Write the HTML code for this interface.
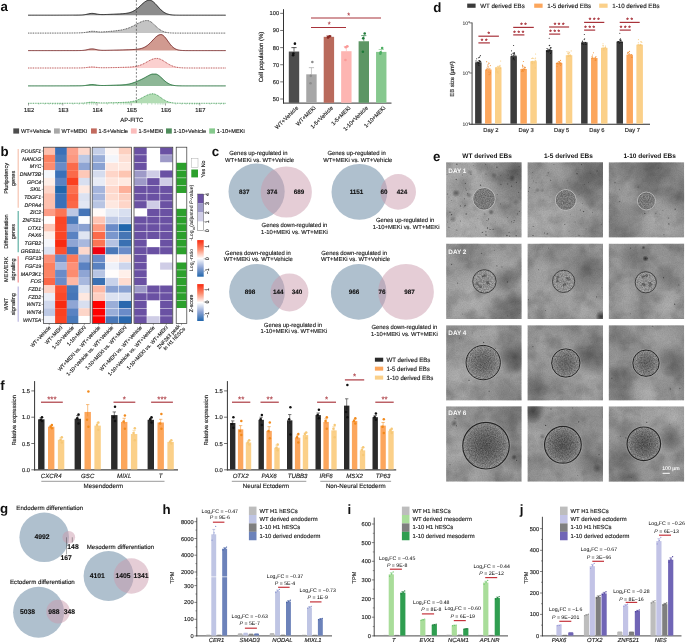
<!DOCTYPE html>
<html lang="en"><head><meta charset="utf-8"><title>Figure</title>
<style>
html,body{margin:0;padding:0;background:#fff;}
body{width:685px;height:643px;overflow:hidden;}
svg{display:block;font-family:'Liberation Sans', sans-serif;}
svg text{font-family:'Liberation Sans',sans-serif;}
</style></head><body>
<svg width="685" height="643" viewBox="0 0 685 643" font-family="Liberation Sans, sans-serif" text-rendering="geometricPrecision">
<rect width="685" height="643" fill="#fff"/>
<text x="433.00" y="160.50" font-size="13.3" font-weight="bold" fill="#111" >e</text>
<defs>
<filter id="grain" x="0" y="0" width="100%" height="100%"><feTurbulence type="fractalNoise" baseFrequency="0.85" numOctaves="2" seed="4" result="n"/><feColorMatrix in="n" type="matrix" values="0 0 0 0 0  0 0 0 0 0  0 0 0 0 0  1.4 1.4 0 0 -1.05"/><feComposite in2="SourceGraphic" operator="in"/></filter>
<filter id="grainw" x="0" y="0" width="100%" height="100%"><feTurbulence type="fractalNoise" baseFrequency="0.8" numOctaves="2" seed="19" result="n"/><feColorMatrix in="n" type="matrix" values="0 0 0 0 1  0 0 0 0 1  0 0 0 0 1  0 1.4 1.4 0 -1.05"/><feComposite in2="SourceGraphic" operator="in"/></filter>
<filter id="soft"><feGaussianBlur stdDeviation="0.45"/></filter>
<filter id="mot" x="0" y="0" width="100%" height="100%"><feTurbulence type="fractalNoise" baseFrequency="0.055" numOctaves="3" seed="8" result="n"/><feColorMatrix in="n" type="matrix" values="0 0 0 0 0  0 0 0 0 0  0 0 0 0 0  2.2 0 0 0 -0.95"/></filter>
<filter id="motw" x="0" y="0" width="100%" height="100%"><feTurbulence type="fractalNoise" baseFrequency="0.05" numOctaves="3" seed="31" result="n"/><feColorMatrix in="n" type="matrix" values="0 0 0 0 1  0 0 0 0 1  0 0 0 0 1  0 2.2 0 0 -0.95"/></filter>
<radialGradient id="lb"><stop offset="0" stop-color="#fff" stop-opacity="1"/><stop offset="0.5" stop-color="#fff" stop-opacity="0.55"/><stop offset="1" stop-color="#fff" stop-opacity="0"/></radialGradient>
<radialGradient id="db"><stop offset="0" stop-color="#000" stop-opacity="1"/><stop offset="0.5" stop-color="#000" stop-opacity="0.55"/><stop offset="1" stop-color="#000" stop-opacity="0"/></radialGradient>
<radialGradient id="eb1"><stop offset="0" stop-color="#808080"/><stop offset="0.85" stop-color="#868686"/><stop offset="1" stop-color="#8c8c8c"/></radialGradient>
<radialGradient id="eb2"><stop offset="0" stop-color="#9a9a9a"/><stop offset="0.8" stop-color="#a2a2a2"/><stop offset="1" stop-color="#a8a8a8"/></radialGradient>
<radialGradient id="eb4"><stop offset="0" stop-color="#666"/><stop offset="0.5" stop-color="#767676"/><stop offset="0.85" stop-color="#8e8e8e"/><stop offset="1" stop-color="#a0a0a0"/></radialGradient>
<radialGradient id="eb6"><stop offset="0" stop-color="#555"/><stop offset="0.45" stop-color="#686868"/><stop offset="0.8" stop-color="#808080"/><stop offset="1" stop-color="#9c9c9c"/></radialGradient>
</defs>
<text x="487.10" y="157.50" font-size="6.5" text-anchor="middle" font-weight="bold" fill="#111" >WT derived EBs</text>
<text x="568.40" y="157.50" font-size="6.5" text-anchor="middle" font-weight="bold" fill="#111" >1-5 derived EBs</text>
<text x="649.60" y="157.50" font-size="6.5" text-anchor="middle" font-weight="bold" fill="#111" >1-10 derived EBs</text>
<clipPath id="clip00"><rect x="446.1" y="162.2" width="75.7" height="75.4"/></clipPath>
<g clip-path="url(#clip00)">
<rect x="446.10" y="162.20" width="75.70" height="75.40" fill="#a2a2a2" />
<circle cx="466.10" cy="222.20" r="38.00" fill="url(#lb)" opacity="0.176"/>
<circle cx="476.10" cy="177.20" r="25.00" fill="url(#lb)" opacity="0.081"/>
<circle cx="516.10" cy="172.20" r="32.00" fill="url(#db)" opacity="0.378"/>
<circle cx="516.10" cy="207.20" r="20.00" fill="url(#db)" opacity="0.162"/>
<circle cx="456.10" cy="193.20" r="4.00" fill="url(#db)" opacity="0.38"/>
<circle cx="469.10" cy="195.20" r="3.00" fill="url(#db)" opacity="0.3"/>
<circle cx="491.10" cy="212.20" r="3.00" fill="url(#db)" opacity="0.38"/>
<circle cx="494.10" cy="175.20" r="3.00" fill="url(#db)" opacity="0.25"/>
<circle cx="512.10" cy="178.20" r="3.50" fill="url(#db)" opacity="0.32"/>
<circle cx="453.10" cy="219.20" r="3.50" fill="url(#db)" opacity="0.28"/>
<circle cx="516.10" cy="202.20" r="3.50" fill="url(#db)" opacity="0.22"/>
<circle cx="470.10" cy="172.20" r="3.00" fill="url(#db)" opacity="0.2"/>
<rect x="446.10" y="162.20" width="75.70" height="75.40" fill="#000" filter="url(#mot)" opacity="0.2"/>
<rect x="446.10" y="162.20" width="75.70" height="75.40" fill="#fff" filter="url(#motw)" opacity="0.15"/>
<g fill="#3c3c3c">
<circle cx="471.0" cy="174.3" r="0.58" opacity="0.58"/>
<circle cx="451.4" cy="200.4" r="0.41" opacity="0.72"/>
<circle cx="452.2" cy="169.9" r="0.52" opacity="0.88"/>
<circle cx="456.2" cy="179.6" r="0.58" opacity="0.93"/>
<circle cx="519.1" cy="166.6" r="0.64" opacity="0.67"/>
<circle cx="457.7" cy="171.8" r="0.49" opacity="0.88"/>
<circle cx="460.4" cy="205.9" r="0.58" opacity="0.70"/>
<circle cx="487.5" cy="167.8" r="0.42" opacity="0.63"/>
<circle cx="497.2" cy="194.6" r="0.49" opacity="0.78"/>
<circle cx="480.5" cy="185.2" r="0.62" opacity="0.83"/>
<circle cx="465.1" cy="205.4" r="0.55" opacity="0.90"/>
<circle cx="500.9" cy="184.3" r="0.67" opacity="0.60"/>
<circle cx="477.9" cy="218.8" r="0.44" opacity="0.75"/>
<circle cx="450.0" cy="212.2" r="0.61" opacity="0.78"/>
<circle cx="511.6" cy="186.2" r="0.59" opacity="0.79"/>
<circle cx="509.0" cy="232.5" r="0.53" opacity="0.82"/>
<circle cx="451.6" cy="214.7" r="0.58" opacity="0.95"/>
<circle cx="507.7" cy="184.1" r="0.51" opacity="0.82"/>
<circle cx="448.8" cy="197.1" r="0.45" opacity="0.60"/>
<circle cx="451.4" cy="219.6" r="0.44" opacity="0.65"/>
<circle cx="475.9" cy="227.2" r="0.42" opacity="0.73"/>
<circle cx="487.6" cy="228.0" r="0.63" opacity="0.90"/>
<circle cx="467.6" cy="193.7" r="0.50" opacity="0.90"/>
<circle cx="517.7" cy="174.3" r="0.45" opacity="0.64"/>
<circle cx="464.3" cy="198.8" r="0.56" opacity="0.66"/>
<circle cx="447.4" cy="194.0" r="0.50" opacity="0.78"/>
<circle cx="517.3" cy="213.9" r="0.54" opacity="0.80"/>
<circle cx="496.9" cy="167.2" r="0.65" opacity="0.86"/>
<circle cx="511.6" cy="221.8" r="0.51" opacity="0.71"/>
<circle cx="454.7" cy="209.8" r="0.42" opacity="0.58"/>
<circle cx="462.5" cy="175.1" r="0.50" opacity="0.57"/>
<circle cx="447.1" cy="174.3" r="0.43" opacity="0.70"/>
<circle cx="449.0" cy="227.4" r="0.57" opacity="0.61"/>
<circle cx="465.7" cy="188.7" r="0.50" opacity="0.60"/>
<circle cx="509.7" cy="236.1" r="0.53" opacity="0.74"/>
<circle cx="453.4" cy="170.7" r="0.50" opacity="0.66"/>
<circle cx="508.2" cy="175.0" r="0.41" opacity="0.93"/>
<circle cx="486.0" cy="174.0" r="0.55" opacity="0.56"/>
<circle cx="486.0" cy="235.0" r="0.64" opacity="0.83"/>
<circle cx="466.3" cy="190.1" r="0.45" opacity="0.86"/>
<circle cx="486.4" cy="220.4" r="0.49" opacity="0.64"/>
<circle cx="506.9" cy="235.5" r="0.64" opacity="0.87"/>
<circle cx="507.4" cy="217.5" r="0.46" opacity="0.76"/>
<circle cx="473.3" cy="165.3" r="0.41" opacity="0.66"/>
<circle cx="466.2" cy="214.0" r="0.67" opacity="0.73"/>
<circle cx="516.2" cy="235.7" r="0.67" opacity="0.70"/>
<circle cx="463.3" cy="179.9" r="0.46" opacity="0.63"/>
<circle cx="493.1" cy="229.3" r="0.64" opacity="0.74"/>
<circle cx="495.2" cy="221.9" r="0.42" opacity="0.81"/>
<circle cx="514.2" cy="220.6" r="0.61" opacity="0.74"/>
<circle cx="460.3" cy="221.1" r="0.49" opacity="0.87"/>
<circle cx="518.7" cy="192.3" r="0.51" opacity="0.93"/>
<circle cx="500.5" cy="175.7" r="0.44" opacity="0.61"/>
<circle cx="513.8" cy="222.4" r="0.44" opacity="0.88"/>
<circle cx="519.3" cy="211.4" r="0.50" opacity="0.77"/>
<circle cx="456.8" cy="164.2" r="0.67" opacity="0.81"/>
<circle cx="485.9" cy="231.7" r="0.52" opacity="0.90"/>
<circle cx="508.0" cy="178.7" r="0.47" opacity="0.67"/>
<circle cx="464.8" cy="206.2" r="0.47" opacity="0.72"/>
<circle cx="456.8" cy="230.0" r="0.50" opacity="0.73"/>
<circle cx="490.1" cy="229.6" r="0.52" opacity="0.92"/>
<circle cx="485.7" cy="164.6" r="0.52" opacity="0.62"/>
<circle cx="447.4" cy="221.9" r="0.45" opacity="0.74"/>
<circle cx="500.5" cy="204.0" r="0.49" opacity="0.76"/>
<circle cx="488.0" cy="220.8" r="0.43" opacity="0.77"/>
<circle cx="465.4" cy="183.5" r="0.62" opacity="0.75"/>
<circle cx="488.5" cy="219.0" r="0.66" opacity="0.73"/>
<circle cx="484.8" cy="214.0" r="0.53" opacity="0.76"/>
<circle cx="482.3" cy="232.3" r="0.60" opacity="0.90"/>
<circle cx="516.5" cy="182.3" r="0.56" opacity="0.93"/>
</g>
<circle cx="484.00" cy="198.80" r="11.10" fill="url(#eb1)" stroke="#d6d6d6" stroke-width="0.7"/>
<circle cx="484.00" cy="198.80" r="10.30" fill="none" stroke="#6c6c6c" stroke-width="0.5"/>
<circle cx="484.00" cy="198.80" r="10.60" fill="#000" filter="url(#grain)" opacity="0.28"/>
<circle cx="484.00" cy="198.80" r="10.60" fill="#fff" filter="url(#grainw)" opacity="0.12"/>
</g>
<clipPath id="clip01"><rect x="527.3" y="162.2" width="75.7" height="75.4"/></clipPath>
<g clip-path="url(#clip01)">
<rect x="527.30" y="162.20" width="75.70" height="75.40" fill="#999999" />
<circle cx="545.30" cy="220.20" r="32.00" fill="url(#lb)" opacity="0.243"/>
<circle cx="572.30" cy="202.20" r="20.00" fill="url(#lb)" opacity="0.135"/>
<circle cx="592.30" cy="174.20" r="34.00" fill="url(#db)" opacity="0.378"/>
<circle cx="597.30" cy="232.20" r="20.00" fill="url(#db)" opacity="0.135"/>
<circle cx="537.30" cy="190.20" r="2.50" fill="url(#db)" opacity="0.2"/>
<circle cx="542.30" cy="190.20" r="2.50" fill="url(#db)" opacity="0.2"/>
<rect x="527.30" y="162.20" width="75.70" height="75.40" fill="#000" filter="url(#mot)" opacity="0.2"/>
<rect x="527.30" y="162.20" width="75.70" height="75.40" fill="#fff" filter="url(#motw)" opacity="0.15"/>
<g fill="#3c3c3c">
<circle cx="590.2" cy="173.3" r="0.43" opacity="0.73"/>
<circle cx="533.6" cy="180.9" r="0.42" opacity="0.82"/>
<circle cx="586.1" cy="229.0" r="0.44" opacity="0.84"/>
<circle cx="577.0" cy="173.7" r="0.65" opacity="0.94"/>
<circle cx="544.5" cy="233.1" r="0.51" opacity="0.74"/>
<circle cx="601.3" cy="224.3" r="0.45" opacity="0.72"/>
<circle cx="566.3" cy="188.1" r="0.45" opacity="0.68"/>
<circle cx="581.5" cy="164.6" r="0.56" opacity="0.73"/>
<circle cx="529.6" cy="187.5" r="0.57" opacity="0.75"/>
<circle cx="533.0" cy="235.5" r="0.62" opacity="0.94"/>
<circle cx="536.0" cy="182.7" r="0.41" opacity="0.86"/>
<circle cx="548.2" cy="172.7" r="0.52" opacity="0.91"/>
<circle cx="588.7" cy="182.2" r="0.44" opacity="0.92"/>
<circle cx="570.4" cy="214.6" r="0.43" opacity="0.57"/>
<circle cx="579.0" cy="194.4" r="0.42" opacity="0.93"/>
<circle cx="575.1" cy="222.0" r="0.42" opacity="0.89"/>
<circle cx="533.2" cy="226.5" r="0.53" opacity="0.69"/>
<circle cx="569.1" cy="231.2" r="0.48" opacity="0.60"/>
<circle cx="567.1" cy="180.7" r="0.43" opacity="0.61"/>
<circle cx="532.0" cy="178.0" r="0.49" opacity="0.67"/>
<circle cx="584.3" cy="184.5" r="0.54" opacity="0.62"/>
<circle cx="553.9" cy="164.5" r="0.47" opacity="0.56"/>
<circle cx="582.3" cy="203.6" r="0.45" opacity="0.74"/>
<circle cx="597.2" cy="171.0" r="0.63" opacity="0.72"/>
<circle cx="564.8" cy="224.5" r="0.51" opacity="0.75"/>
<circle cx="579.0" cy="235.3" r="0.50" opacity="0.88"/>
<circle cx="580.4" cy="209.9" r="0.51" opacity="0.69"/>
<circle cx="532.3" cy="172.7" r="0.42" opacity="0.85"/>
<circle cx="547.1" cy="175.2" r="0.42" opacity="0.89"/>
<circle cx="592.5" cy="212.4" r="0.48" opacity="0.65"/>
<circle cx="549.9" cy="196.9" r="0.44" opacity="0.73"/>
<circle cx="547.7" cy="233.8" r="0.67" opacity="0.77"/>
<circle cx="546.3" cy="234.1" r="0.49" opacity="0.69"/>
<circle cx="528.4" cy="191.2" r="0.53" opacity="0.75"/>
<circle cx="543.1" cy="200.2" r="0.40" opacity="0.66"/>
<circle cx="534.9" cy="192.5" r="0.41" opacity="0.56"/>
<circle cx="550.7" cy="180.3" r="0.56" opacity="0.76"/>
<circle cx="583.6" cy="211.5" r="0.60" opacity="0.90"/>
</g>
<circle cx="565.80" cy="200.00" r="10.30" fill="url(#eb1)" stroke="#d6d6d6" stroke-width="0.7"/>
<circle cx="565.80" cy="200.00" r="9.50" fill="none" stroke="#6c6c6c" stroke-width="0.5"/>
<circle cx="565.80" cy="200.00" r="9.80" fill="#000" filter="url(#grain)" opacity="0.28"/>
<circle cx="565.80" cy="200.00" r="9.80" fill="#fff" filter="url(#grainw)" opacity="0.12"/>
</g>
<clipPath id="clip02"><rect x="608.5" y="162.2" width="75.7" height="75.4"/></clipPath>
<g clip-path="url(#clip02)">
<rect x="608.50" y="162.20" width="75.70" height="75.40" fill="#8e8e8e" />
<circle cx="663.50" cy="224.20" r="32.00" fill="url(#lb)" opacity="0.27"/>
<circle cx="623.50" cy="192.20" r="20.00" fill="url(#lb)" opacity="0.108"/>
<circle cx="653.50" cy="167.20" r="30.00" fill="url(#db)" opacity="0.27"/>
<circle cx="678.50" cy="192.20" r="20.00" fill="url(#db)" opacity="0.216"/>
<circle cx="618.50" cy="232.20" r="20.00" fill="url(#db)" opacity="0.135"/>
<rect x="608.50" y="162.20" width="75.70" height="75.40" fill="#000" filter="url(#mot)" opacity="0.2"/>
<rect x="608.50" y="162.20" width="75.70" height="75.40" fill="#fff" filter="url(#motw)" opacity="0.15"/>
<g fill="#3c3c3c">
<circle cx="638.2" cy="187.1" r="0.68" opacity="0.61"/>
<circle cx="662.9" cy="210.4" r="0.41" opacity="0.88"/>
<circle cx="675.2" cy="209.2" r="0.61" opacity="0.87"/>
<circle cx="619.8" cy="201.6" r="0.54" opacity="0.88"/>
<circle cx="668.8" cy="223.9" r="0.56" opacity="0.91"/>
<circle cx="659.8" cy="214.1" r="0.46" opacity="0.56"/>
<circle cx="619.3" cy="189.7" r="0.43" opacity="0.88"/>
<circle cx="655.7" cy="213.2" r="0.54" opacity="0.55"/>
<circle cx="668.3" cy="218.1" r="0.54" opacity="0.76"/>
<circle cx="658.1" cy="168.0" r="0.61" opacity="0.65"/>
<circle cx="615.0" cy="182.7" r="0.60" opacity="0.63"/>
<circle cx="664.0" cy="234.8" r="0.54" opacity="0.70"/>
<circle cx="644.8" cy="213.4" r="0.61" opacity="0.80"/>
</g>
<circle cx="646.40" cy="201.00" r="8.90" fill="url(#eb1)" stroke="#d6d6d6" stroke-width="0.7"/>
<circle cx="646.40" cy="201.00" r="8.10" fill="none" stroke="#6c6c6c" stroke-width="0.5"/>
<circle cx="646.40" cy="201.00" r="8.40" fill="#000" filter="url(#grain)" opacity="0.28"/>
<circle cx="646.40" cy="201.00" r="8.40" fill="#fff" filter="url(#grainw)" opacity="0.12"/>
</g>
<text x="448.30" y="173.40" font-size="6.4" font-weight="bold" fill="#fff" >DAY 1</text>
<clipPath id="clip10"><rect x="446.1" y="243.6" width="75.7" height="75.4"/></clipPath>
<g clip-path="url(#clip10)">
<rect x="446.10" y="243.60" width="75.70" height="75.40" fill="#9a9a9a" />
<circle cx="471.10" cy="293.60" r="30.00" fill="url(#lb)" opacity="0.216"/>
<circle cx="496.10" cy="263.60" r="20.00" fill="url(#lb)" opacity="0.108"/>
<circle cx="506.10" cy="278.60" r="15.00" fill="url(#db)" opacity="0.297"/>
<circle cx="511.10" cy="313.60" r="25.00" fill="url(#db)" opacity="0.27"/>
<circle cx="471.10" cy="251.60" r="20.00" fill="url(#db)" opacity="0.162"/>
<rect x="446.10" y="243.60" width="75.70" height="75.40" fill="#000" filter="url(#mot)" opacity="0.2"/>
<rect x="446.10" y="243.60" width="75.70" height="75.40" fill="#fff" filter="url(#motw)" opacity="0.15"/>
<g fill="#3c3c3c">
<circle cx="494.5" cy="250.3" r="0.44" opacity="0.65"/>
<circle cx="501.9" cy="266.9" r="0.56" opacity="0.55"/>
<circle cx="451.6" cy="264.3" r="0.59" opacity="0.83"/>
<circle cx="496.9" cy="265.9" r="0.54" opacity="0.74"/>
<circle cx="481.5" cy="253.3" r="0.65" opacity="0.63"/>
<circle cx="519.2" cy="313.3" r="0.40" opacity="0.73"/>
<circle cx="507.5" cy="315.7" r="0.53" opacity="0.66"/>
<circle cx="462.6" cy="314.0" r="0.46" opacity="0.78"/>
<circle cx="457.5" cy="283.1" r="0.67" opacity="0.60"/>
<circle cx="507.5" cy="281.9" r="0.65" opacity="0.83"/>
</g>
<circle cx="484.40" cy="281.40" r="11.70" fill="url(#eb2)" stroke="#303030" stroke-width="0.85"/>
<g fill="#5e5e5e" filter="url(#soft)">
<circle cx="487.3" cy="281.4" r="1.0" opacity="0.75"/>
<circle cx="480.5" cy="286.7" r="1.5" opacity="0.75"/>
<circle cx="482.9" cy="276.6" r="1.0" opacity="0.75"/>
<circle cx="487.7" cy="282.5" r="1.5" opacity="0.75"/>
<circle cx="478.6" cy="285.6" r="1.0" opacity="0.75"/>
<circle cx="484.4" cy="275.8" r="1.5" opacity="0.75"/>
<circle cx="487.6" cy="283.8" r="1.0" opacity="0.75"/>
<circle cx="477.1" cy="283.7" r="1.5" opacity="0.75"/>
<circle cx="486.3" cy="275.6" r="1.0" opacity="0.75"/>
</g>
<circle cx="484.40" cy="281.40" r="11.20" fill="#000" filter="url(#grain)" opacity="0.28"/>
<circle cx="484.40" cy="281.40" r="11.20" fill="#fff" filter="url(#grainw)" opacity="0.12"/>
</g>
<clipPath id="clip11"><rect x="527.3" y="243.6" width="75.7" height="75.4"/></clipPath>
<g clip-path="url(#clip11)">
<rect x="527.30" y="243.60" width="75.70" height="75.40" fill="#989898" />
<circle cx="547.30" cy="288.60" r="30.00" fill="url(#lb)" opacity="0.176"/>
<circle cx="587.30" cy="308.60" r="20.00" fill="url(#lb)" opacity="0.135"/>
<circle cx="587.30" cy="268.60" r="25.00" fill="url(#db)" opacity="0.27"/>
<circle cx="552.30" cy="255.60" r="12.00" fill="url(#db)" opacity="0.162"/>
<circle cx="601.30" cy="316.60" r="6.00" fill="url(#db)" opacity="0.7"/>
<rect x="527.30" y="243.60" width="75.70" height="75.40" fill="#000" filter="url(#mot)" opacity="0.2"/>
<rect x="527.30" y="243.60" width="75.70" height="75.40" fill="#fff" filter="url(#motw)" opacity="0.15"/>
<g fill="#3c3c3c">
<circle cx="545.4" cy="310.5" r="0.54" opacity="0.56"/>
<circle cx="528.6" cy="280.7" r="0.53" opacity="0.67"/>
<circle cx="538.7" cy="269.8" r="0.49" opacity="0.89"/>
<circle cx="528.4" cy="299.7" r="0.63" opacity="0.60"/>
<circle cx="596.6" cy="296.9" r="0.65" opacity="0.67"/>
<circle cx="601.9" cy="287.8" r="0.50" opacity="0.72"/>
<circle cx="548.6" cy="248.1" r="0.43" opacity="0.88"/>
</g>
<circle cx="563.60" cy="281.40" r="11.10" fill="url(#eb2)" stroke="#303030" stroke-width="0.85"/>
<g fill="#5e5e5e" filter="url(#soft)">
<circle cx="565.1" cy="283.7" r="1.0" opacity="0.75"/>
<circle cx="557.3" cy="281.0" r="1.5" opacity="0.75"/>
<circle cx="566.6" cy="277.7" r="1.0" opacity="0.75"/>
<circle cx="564.4" cy="284.6" r="1.5" opacity="0.75"/>
<circle cx="557.3" cy="278.9" r="1.0" opacity="0.75"/>
<circle cx="568.0" cy="278.6" r="1.5" opacity="0.75"/>
<circle cx="563.4" cy="285.2" r="1.0" opacity="0.75"/>
<circle cx="558.0" cy="276.8" r="1.5" opacity="0.75"/>
<circle cx="569.2" cy="280.0" r="1.0" opacity="0.75"/>
</g>
<circle cx="563.60" cy="281.40" r="10.60" fill="#000" filter="url(#grain)" opacity="0.28"/>
<circle cx="563.60" cy="281.40" r="10.60" fill="#fff" filter="url(#grainw)" opacity="0.12"/>
</g>
<clipPath id="clip12"><rect x="608.5" y="243.6" width="75.7" height="75.4"/></clipPath>
<g clip-path="url(#clip12)">
<rect x="608.50" y="243.60" width="75.70" height="75.40" fill="#959595" />
<circle cx="668.50" cy="303.60" r="30.00" fill="url(#lb)" opacity="0.216"/>
<circle cx="623.50" cy="288.60" r="20.00" fill="url(#lb)" opacity="0.081"/>
<circle cx="633.50" cy="255.60" r="15.00" fill="url(#db)" opacity="0.203"/>
<circle cx="668.50" cy="273.60" r="18.00" fill="url(#db)" opacity="0.203"/>
<circle cx="645.50" cy="258.60" r="3.20" fill="url(#db)" opacity="0.75"/>
<circle cx="643.50" cy="247.60" r="2.00" fill="url(#db)" opacity="0.45"/>
<rect x="608.50" y="243.60" width="75.70" height="75.40" fill="#000" filter="url(#mot)" opacity="0.2"/>
<rect x="608.50" y="243.60" width="75.70" height="75.40" fill="#fff" filter="url(#motw)" opacity="0.15"/>
<g fill="#3c3c3c">
<circle cx="630.6" cy="313.3" r="0.47" opacity="0.66"/>
<circle cx="647.2" cy="258.5" r="0.50" opacity="0.93"/>
<circle cx="674.7" cy="304.2" r="0.58" opacity="0.92"/>
<circle cx="678.8" cy="284.9" r="0.60" opacity="0.57"/>
<circle cx="663.5" cy="277.7" r="0.61" opacity="0.81"/>
<circle cx="630.6" cy="248.2" r="0.66" opacity="0.60"/>
</g>
<circle cx="645.80" cy="282.30" r="10.60" fill="url(#eb2)" stroke="#303030" stroke-width="0.85"/>
<g fill="#5e5e5e" filter="url(#soft)">
<circle cx="644.7" cy="284.7" r="1.0" opacity="0.75"/>
<circle cx="642.9" cy="277.1" r="1.5" opacity="0.75"/>
<circle cx="650.3" cy="282.8" r="1.0" opacity="0.75"/>
<circle cx="643.7" cy="284.6" r="1.5" opacity="0.75"/>
<circle cx="644.5" cy="276.0" r="1.0" opacity="0.75"/>
<circle cx="650.4" cy="284.4" r="1.5" opacity="0.75"/>
<circle cx="642.7" cy="284.1" r="1.0" opacity="0.75"/>
<circle cx="646.6" cy="275.4" r="1.5" opacity="0.75"/>
<circle cx="649.8" cy="286.1" r="1.0" opacity="0.75"/>
</g>
<circle cx="645.80" cy="282.30" r="10.10" fill="#000" filter="url(#grain)" opacity="0.28"/>
<circle cx="645.80" cy="282.30" r="10.10" fill="#fff" filter="url(#grainw)" opacity="0.12"/>
</g>
<text x="448.30" y="253.80" font-size="6.4" font-weight="bold" fill="#fff" >DAY 2</text>
<clipPath id="clip20"><rect x="446.1" y="325.2" width="75.7" height="75.4"/></clipPath>
<g clip-path="url(#clip20)">
<rect x="446.10" y="325.20" width="75.70" height="75.40" fill="#969696" />
<circle cx="461.10" cy="380.20" r="30.00" fill="url(#lb)" opacity="0.27"/>
<circle cx="486.10" cy="335.20" r="25.00" fill="url(#lb)" opacity="0.135"/>
<circle cx="514.10" cy="357.20" r="18.00" fill="url(#db)" opacity="0.432"/>
<circle cx="516.10" cy="330.20" r="15.00" fill="url(#db)" opacity="0.203"/>
<circle cx="506.10" cy="395.20" r="20.00" fill="url(#db)" opacity="0.135"/>
<rect x="446.10" y="325.20" width="75.70" height="75.40" fill="#000" filter="url(#mot)" opacity="0.2"/>
<rect x="446.10" y="325.20" width="75.70" height="75.40" fill="#fff" filter="url(#motw)" opacity="0.15"/>
<g fill="#3c3c3c">
<circle cx="469.0" cy="380.4" r="0.67" opacity="0.65"/>
<circle cx="495.4" cy="348.3" r="0.56" opacity="0.71"/>
<circle cx="459.4" cy="338.1" r="0.46" opacity="0.91"/>
<circle cx="483.7" cy="342.3" r="0.65" opacity="0.95"/>
<circle cx="480.3" cy="336.4" r="0.45" opacity="0.59"/>
<circle cx="472.3" cy="332.9" r="0.47" opacity="0.65"/>
<circle cx="489.1" cy="391.3" r="0.61" opacity="0.72"/>
</g>
<circle cx="483.20" cy="362.60" r="17.20" fill="url(#eb4)" stroke="#262626" stroke-width="1.0"/>
<circle cx="483.20" cy="362.60" r="18.20" fill="none" stroke="#c4c4c4" stroke-width="0.5" opacity="0.55"/>
<circle cx="483.20" cy="362.60" r="16.70" fill="#000" filter="url(#grain)" opacity="0.28"/>
<circle cx="483.20" cy="362.60" r="16.70" fill="#fff" filter="url(#grainw)" opacity="0.12"/>
</g>
<clipPath id="clip21"><rect x="527.3" y="325.2" width="75.7" height="75.4"/></clipPath>
<g clip-path="url(#clip21)">
<rect x="527.30" y="325.20" width="75.70" height="75.40" fill="#939393" />
<circle cx="587.30" cy="385.20" r="25.00" fill="url(#lb)" opacity="0.216"/>
<circle cx="547.30" cy="350.20" r="25.00" fill="url(#lb)" opacity="0.135"/>
<circle cx="592.30" cy="355.20" r="22.00" fill="url(#db)" opacity="0.351"/>
<circle cx="537.30" cy="390.20" r="20.00" fill="url(#db)" opacity="0.216"/>
<rect x="527.30" y="325.20" width="75.70" height="75.40" fill="#000" filter="url(#mot)" opacity="0.2"/>
<rect x="527.30" y="325.20" width="75.70" height="75.40" fill="#fff" filter="url(#motw)" opacity="0.15"/>
<g fill="#3c3c3c">
<circle cx="532.9" cy="346.6" r="0.67" opacity="0.60"/>
<circle cx="591.9" cy="342.1" r="0.48" opacity="0.65"/>
</g>
<circle cx="565.80" cy="363.00" r="14.20" fill="url(#eb4)" stroke="#262626" stroke-width="1.0"/>
<circle cx="565.80" cy="363.00" r="15.20" fill="none" stroke="#c4c4c4" stroke-width="0.5" opacity="0.55"/>
<circle cx="565.80" cy="363.00" r="13.70" fill="#000" filter="url(#grain)" opacity="0.28"/>
<circle cx="565.80" cy="363.00" r="13.70" fill="#fff" filter="url(#grainw)" opacity="0.12"/>
</g>
<clipPath id="clip22"><rect x="608.5" y="325.2" width="75.7" height="75.4"/></clipPath>
<g clip-path="url(#clip22)">
<rect x="608.50" y="325.20" width="75.70" height="75.40" fill="#919191" />
<circle cx="663.50" cy="337.20" r="22.00" fill="url(#lb)" opacity="0.176"/>
<circle cx="648.50" cy="393.20" r="25.00" fill="url(#lb)" opacity="0.216"/>
<circle cx="673.50" cy="360.20" r="18.00" fill="url(#db)" opacity="0.297"/>
<circle cx="616.50" cy="385.20" r="22.00" fill="url(#db)" opacity="0.27"/>
<circle cx="620.50" cy="335.20" r="15.00" fill="url(#db)" opacity="0.135"/>
<rect x="608.50" y="325.20" width="75.70" height="75.40" fill="#000" filter="url(#mot)" opacity="0.2"/>
<rect x="608.50" y="325.20" width="75.70" height="75.40" fill="#fff" filter="url(#motw)" opacity="0.15"/>
<g fill="#3c3c3c">
<circle cx="679.8" cy="388.5" r="0.64" opacity="0.56"/>
<circle cx="611.9" cy="378.3" r="0.65" opacity="0.74"/>
<circle cx="652.8" cy="326.2" r="0.51" opacity="0.92"/>
<circle cx="670.3" cy="389.0" r="0.67" opacity="0.65"/>
</g>
<circle cx="646.00" cy="363.20" r="13.20" fill="url(#eb4)" stroke="#262626" stroke-width="1.0"/>
<circle cx="646.00" cy="363.20" r="14.20" fill="none" stroke="#c4c4c4" stroke-width="0.5" opacity="0.55"/>
<circle cx="646.00" cy="363.20" r="12.70" fill="#000" filter="url(#grain)" opacity="0.28"/>
<circle cx="646.00" cy="363.20" r="12.70" fill="#fff" filter="url(#grainw)" opacity="0.12"/>
</g>
<text x="448.30" y="334.80" font-size="6.4" font-weight="bold" fill="#fff" >DAY 4</text>
<clipPath id="clip30"><rect x="446.1" y="406.3" width="75.7" height="75.4"/></clipPath>
<g clip-path="url(#clip30)">
<rect x="446.10" y="406.30" width="75.70" height="75.40" fill="#969696" />
<circle cx="458.10" cy="446.30" r="22.00" fill="url(#lb)" opacity="0.216"/>
<circle cx="476.10" cy="474.30" r="20.00" fill="url(#lb)" opacity="0.108"/>
<circle cx="511.10" cy="418.30" r="25.00" fill="url(#db)" opacity="0.27"/>
<circle cx="514.10" cy="458.30" r="15.00" fill="url(#db)" opacity="0.27"/>
<circle cx="454.10" cy="423.30" r="3.50" fill="url(#db)" opacity="0.4"/>
<circle cx="514.10" cy="457.30" r="3.00" fill="url(#db)" opacity="0.45"/>
<rect x="446.10" y="406.30" width="75.70" height="75.40" fill="#000" filter="url(#mot)" opacity="0.2"/>
<rect x="446.10" y="406.30" width="75.70" height="75.40" fill="#fff" filter="url(#motw)" opacity="0.15"/>
<g fill="#3c3c3c">
<circle cx="455.1" cy="418.6" r="0.55" opacity="0.82"/>
<circle cx="516.5" cy="460.3" r="0.58" opacity="0.86"/>
<circle cx="450.0" cy="464.7" r="0.47" opacity="0.92"/>
<circle cx="456.5" cy="425.8" r="0.58" opacity="0.83"/>
<circle cx="455.4" cy="412.5" r="0.55" opacity="0.78"/>
</g>
<circle cx="486.00" cy="445.70" r="23.30" fill="url(#eb6)" stroke="#262626" stroke-width="1.15"/>
<circle cx="486.00" cy="445.70" r="24.30" fill="none" stroke="#c4c4c4" stroke-width="0.5" opacity="0.55"/>
<circle cx="486.00" cy="445.70" r="22.80" fill="#000" filter="url(#grain)" opacity="0.28"/>
<circle cx="486.00" cy="445.70" r="22.80" fill="#fff" filter="url(#grainw)" opacity="0.12"/>
</g>
<clipPath id="clip31"><rect x="527.3" y="406.3" width="75.7" height="75.4"/></clipPath>
<g clip-path="url(#clip31)">
<rect x="527.30" y="406.30" width="75.70" height="75.40" fill="#949494" />
<circle cx="537.30" cy="441.30" r="20.00" fill="url(#lb)" opacity="0.176"/>
<circle cx="577.30" cy="474.30" r="20.00" fill="url(#lb)" opacity="0.108"/>
<circle cx="533.30" cy="411.30" r="12.00" fill="url(#db)" opacity="0.513"/>
<circle cx="595.30" cy="461.30" r="22.00" fill="url(#db)" opacity="0.243"/>
<circle cx="572.30" cy="421.30" r="15.00" fill="url(#db)" opacity="0.162"/>
<circle cx="597.30" cy="468.30" r="5.00" fill="url(#db)" opacity="0.3"/>
<circle cx="542.30" cy="436.30" r="3.00" fill="url(#db)" opacity="0.25"/>
<rect x="527.30" y="406.30" width="75.70" height="75.40" fill="#000" filter="url(#mot)" opacity="0.2"/>
<rect x="527.30" y="406.30" width="75.70" height="75.40" fill="#fff" filter="url(#motw)" opacity="0.15"/>
<g fill="#3c3c3c">
<circle cx="572.6" cy="408.1" r="0.48" opacity="0.73"/>
<circle cx="599.0" cy="454.6" r="0.65" opacity="0.74"/>
<circle cx="545.6" cy="425.4" r="0.67" opacity="0.83"/>
<circle cx="551.0" cy="408.9" r="0.54" opacity="0.82"/>
<circle cx="577.5" cy="475.2" r="0.46" opacity="0.56"/>
<circle cx="578.6" cy="421.8" r="0.62" opacity="0.85"/>
</g>
<circle cx="562.90" cy="444.80" r="18.40" fill="url(#eb6)" stroke="#262626" stroke-width="1.15"/>
<circle cx="562.90" cy="444.80" r="19.40" fill="none" stroke="#c4c4c4" stroke-width="0.5" opacity="0.55"/>
<circle cx="562.90" cy="444.80" r="17.90" fill="#000" filter="url(#grain)" opacity="0.28"/>
<circle cx="562.90" cy="444.80" r="17.90" fill="#fff" filter="url(#grainw)" opacity="0.12"/>
</g>
<clipPath id="clip32"><rect x="608.5" y="406.3" width="75.7" height="75.4"/></clipPath>
<g clip-path="url(#clip32)">
<rect x="608.50" y="406.30" width="75.70" height="75.40" fill="#989898" />
<circle cx="668.50" cy="418.30" r="25.00" fill="url(#lb)" opacity="0.216"/>
<circle cx="638.50" cy="421.30" r="20.00" fill="url(#lb)" opacity="0.108"/>
<circle cx="670.50" cy="438.30" r="15.00" fill="url(#db)" opacity="0.324"/>
<circle cx="620.50" cy="461.30" r="25.00" fill="url(#db)" opacity="0.27"/>
<circle cx="628.50" cy="476.30" r="15.00" fill="url(#db)" opacity="0.162"/>
<rect x="608.50" y="406.30" width="75.70" height="75.40" fill="#000" filter="url(#mot)" opacity="0.2"/>
<rect x="608.50" y="406.30" width="75.70" height="75.40" fill="#fff" filter="url(#motw)" opacity="0.15"/>
<g fill="#3c3c3c">
<circle cx="646.7" cy="422.4" r="0.67" opacity="0.67"/>
<circle cx="669.9" cy="424.2" r="0.46" opacity="0.85"/>
<circle cx="631.2" cy="477.2" r="0.54" opacity="0.62"/>
<circle cx="626.0" cy="437.9" r="0.59" opacity="0.93"/>
<circle cx="620.3" cy="436.2" r="0.46" opacity="0.94"/>
</g>
<circle cx="643.80" cy="443.80" r="16.80" fill="url(#eb6)" stroke="#262626" stroke-width="1.15"/>
<circle cx="643.80" cy="443.80" r="17.80" fill="none" stroke="#c4c4c4" stroke-width="0.5" opacity="0.55"/>
<circle cx="643.80" cy="443.80" r="16.30" fill="#000" filter="url(#grain)" opacity="0.28"/>
<circle cx="643.80" cy="443.80" r="16.30" fill="#fff" filter="url(#grainw)" opacity="0.12"/>
</g>
<text x="448.30" y="415.20" font-size="6.4" font-weight="bold" fill="#fff" >DAY 6</text>
<g opacity="0.07">
<rect x="446.10" y="162.20" width="238.10" height="75.40" fill="#000" filter="url(#grain)"/>
<rect x="446.10" y="243.60" width="238.10" height="75.40" fill="#000" filter="url(#grain)"/>
<rect x="446.10" y="325.20" width="238.10" height="75.40" fill="#000" filter="url(#grain)"/>
<rect x="446.10" y="406.30" width="238.10" height="75.40" fill="#000" filter="url(#grain)"/>
</g>
<rect x="521.80" y="162.00" width="5.50" height="75.80" fill="#fff" />
<rect x="603.00" y="162.00" width="5.50" height="75.80" fill="#fff" />
<rect x="521.80" y="243.40" width="5.50" height="75.80" fill="#fff" />
<rect x="603.00" y="243.40" width="5.50" height="75.80" fill="#fff" />
<rect x="521.80" y="325.00" width="5.50" height="75.80" fill="#fff" />
<rect x="603.00" y="325.00" width="5.50" height="75.80" fill="#fff" />
<rect x="521.80" y="406.10" width="5.50" height="75.80" fill="#fff" />
<rect x="603.00" y="406.10" width="5.50" height="75.80" fill="#fff" />
<text x="670.90" y="470.30" font-size="5.2" text-anchor="middle" fill="#fff" stroke="#fff" stroke-width="0.1" >100 µm</text>
<line x1="662.50" y1="473.30" x2="669.80" y2="473.30" stroke="#fff" stroke-width="1.0" />
<text x="0.60" y="11.40" font-size="13.3" font-weight="bold" fill="#111" >a</text>
<path d="M28.00 15.20 L28.50 15.20 L29.26 15.20 L30.02 15.20 L30.78 15.20 L31.53 15.20 L32.29 15.20 L33.05 15.20 L33.81 15.20 L34.57 15.20 L35.33 15.20 L36.08 15.20 L36.84 15.20 L37.60 15.20 L38.36 15.20 L39.12 15.20 L39.88 15.20 L40.64 15.20 L41.39 15.20 L42.15 15.20 L42.91 15.20 L43.67 15.20 L44.43 15.20 L45.19 15.20 L45.94 15.20 L46.70 15.20 L47.46 15.20 L48.22 15.19 L48.98 15.19 L49.74 15.19 L50.50 15.19 L51.25 15.19 L52.01 15.19 L52.77 15.19 L53.53 15.19 L54.29 15.19 L55.05 15.19 L55.80 15.19 L56.56 15.19 L57.32 15.19 L58.08 15.18 L58.84 15.18 L59.60 15.18 L60.36 15.18 L61.11 15.18 L61.87 15.18 L62.63 15.18 L63.39 15.17 L64.15 15.17 L64.91 15.17 L65.66 15.17 L66.42 15.16 L67.18 15.16 L67.94 15.16 L68.70 15.15 L69.46 15.15 L70.22 15.15 L70.97 15.14 L71.73 15.14 L72.49 15.14 L73.25 15.13 L74.01 15.13 L74.77 15.12 L75.52 15.12 L76.28 15.11 L77.04 15.10 L77.80 15.09 L78.56 15.08 L79.32 15.07 L80.08 15.05 L80.83 15.03 L81.59 14.99 L82.35 14.95 L83.11 14.89 L83.87 14.81 L84.63 14.70 L85.38 14.58 L86.14 14.43 L86.90 14.27 L87.66 14.09 L88.42 13.91 L89.18 13.74 L89.94 13.60 L90.69 13.48 L91.45 13.42 L92.21 13.40 L92.97 13.43 L93.73 13.51 L94.49 13.62 L95.24 13.76 L96.00 13.91 L96.76 14.05 L97.52 14.19 L98.28 14.31 L99.04 14.40 L99.80 14.48 L100.55 14.53 L101.31 14.56 L102.07 14.57 L102.83 14.57 L103.59 14.57 L104.35 14.55 L105.10 14.53 L105.86 14.51 L106.62 14.48 L107.38 14.46 L108.14 14.43 L108.90 14.40 L109.66 14.37 L110.41 14.34 L111.17 14.31 L111.93 14.28 L112.69 14.25 L113.45 14.22 L114.21 14.19 L114.96 14.15 L115.72 14.12 L116.48 14.08 L117.24 14.05 L118.00 14.01 L118.76 13.97 L119.52 13.93 L120.27 13.89 L121.03 13.84 L121.79 13.79 L122.55 13.73 L123.31 13.67 L124.07 13.60 L124.82 13.52 L125.58 13.43 L126.34 13.32 L127.10 13.20 L127.86 13.06 L128.62 12.89 L129.38 12.71 L130.13 12.49 L130.89 12.24 L131.65 11.95 L132.41 11.63 L133.17 11.26 L133.93 10.86 L134.68 10.41 L135.44 9.91 L136.20 9.37 L136.96 8.80 L137.72 8.18 L138.48 7.53 L139.24 6.85 L139.99 6.15 L140.75 5.45 L141.51 4.74 L142.27 4.04 L143.03 3.37 L143.79 2.74 L144.54 2.15 L145.30 1.62 L146.06 1.16 L146.82 0.78 L147.58 0.49 L148.34 0.30 L149.10 0.21 L149.85 0.22 L150.61 0.37 L151.37 0.64 L152.13 1.04 L152.89 1.54 L153.65 2.15 L154.40 2.83 L155.16 3.59 L155.92 4.39 L156.68 5.23 L157.44 6.09 L158.20 6.94 L158.96 7.78 L159.71 8.60 L160.47 9.37 L161.23 10.11 L161.99 10.78 L162.75 11.41 L163.51 11.97 L164.26 12.47 L165.02 12.92 L165.78 13.31 L166.54 13.65 L167.30 13.93 L168.06 14.18 L168.82 14.38 L169.57 14.55 L170.33 14.69 L171.09 14.80 L171.85 14.89 L172.61 14.96 L173.37 15.02 L174.12 15.07 L174.88 15.10 L175.64 15.13 L176.40 15.15 L177.16 15.16 L177.92 15.17 L178.68 15.18 L179.43 15.19 L180.19 15.19 L180.95 15.19 L181.71 15.20 L182.47 15.20 L183.23 15.20 L183.98 15.20 L184.74 15.20 L185.50 15.20 L186.26 15.20 L187.02 15.20 L187.78 15.20 L188.54 15.20 L189.29 15.20 L190.05 15.20 L190.81 15.20 L191.57 15.20 L192.33 15.20 L193.09 15.20 L193.84 15.20 L194.60 15.20 L195.36 15.20 L196.12 15.20 L196.88 15.20 L197.64 15.20 L198.40 15.20 L199.15 15.20 L199.91 15.20 L200.67 15.20 L201.43 15.20 L202.19 15.20 L202.95 15.20 L203.70 15.20 L204.46 15.20 L205.22 15.20 L205.98 15.20 L206.74 15.20 L207.50 15.20 L208.26 15.20 L209.01 15.20 L209.77 15.20 L210.53 15.20 L211.29 15.20 L212.05 15.20 L212.81 15.20 L213.56 15.20 L214.32 15.20 L215.08 15.20 L215.84 15.20 L216.60 15.20 L217.36 15.20 L218.12 15.20 L218.87 15.20 L219.63 15.20 L220.39 15.20 L221.15 15.20 L221.91 15.20 L222.67 15.20 L223.42 15.20 L224.18 15.20 L224.94 15.20 L225.70 15.20 L225.70 15.20 Z" fill="#8c8c8c" stroke="none"/>
<path d="M28.00 15.20 L28.50 15.20 L29.26 15.20 L30.02 15.20 L30.78 15.20 L31.53 15.20 L32.29 15.20 L33.05 15.20 L33.81 15.20 L34.57 15.20 L35.33 15.20 L36.08 15.20 L36.84 15.20 L37.60 15.20 L38.36 15.20 L39.12 15.20 L39.88 15.20 L40.64 15.20 L41.39 15.20 L42.15 15.20 L42.91 15.20 L43.67 15.20 L44.43 15.20 L45.19 15.20 L45.94 15.20 L46.70 15.20 L47.46 15.20 L48.22 15.19 L48.98 15.19 L49.74 15.19 L50.50 15.19 L51.25 15.19 L52.01 15.19 L52.77 15.19 L53.53 15.19 L54.29 15.19 L55.05 15.19 L55.80 15.19 L56.56 15.19 L57.32 15.19 L58.08 15.18 L58.84 15.18 L59.60 15.18 L60.36 15.18 L61.11 15.18 L61.87 15.18 L62.63 15.18 L63.39 15.17 L64.15 15.17 L64.91 15.17 L65.66 15.17 L66.42 15.16 L67.18 15.16 L67.94 15.16 L68.70 15.15 L69.46 15.15 L70.22 15.15 L70.97 15.14 L71.73 15.14 L72.49 15.14 L73.25 15.13 L74.01 15.13 L74.77 15.12 L75.52 15.12 L76.28 15.11 L77.04 15.10 L77.80 15.09 L78.56 15.08 L79.32 15.07 L80.08 15.05 L80.83 15.03 L81.59 14.99 L82.35 14.95 L83.11 14.89 L83.87 14.81 L84.63 14.70 L85.38 14.58 L86.14 14.43 L86.90 14.27 L87.66 14.09 L88.42 13.91 L89.18 13.74 L89.94 13.60 L90.69 13.48 L91.45 13.42 L92.21 13.40 L92.97 13.43 L93.73 13.51 L94.49 13.62 L95.24 13.76 L96.00 13.91 L96.76 14.05 L97.52 14.19 L98.28 14.31 L99.04 14.40 L99.80 14.48 L100.55 14.53 L101.31 14.56 L102.07 14.57 L102.83 14.57 L103.59 14.57 L104.35 14.55 L105.10 14.53 L105.86 14.51 L106.62 14.48 L107.38 14.46 L108.14 14.43 L108.90 14.40 L109.66 14.37 L110.41 14.34 L111.17 14.31 L111.93 14.28 L112.69 14.25 L113.45 14.22 L114.21 14.19 L114.96 14.15 L115.72 14.12 L116.48 14.08 L117.24 14.05 L118.00 14.01 L118.76 13.97 L119.52 13.93 L120.27 13.89 L121.03 13.84 L121.79 13.79 L122.55 13.73 L123.31 13.67 L124.07 13.60 L124.82 13.52 L125.58 13.43 L126.34 13.32 L127.10 13.20 L127.86 13.06 L128.62 12.89 L129.38 12.71 L130.13 12.49 L130.89 12.24 L131.65 11.95 L132.41 11.63 L133.17 11.26 L133.93 10.86 L134.68 10.41 L135.44 9.91 L136.20 9.37 L136.96 8.80 L137.72 8.18 L138.48 7.53 L139.24 6.85 L139.99 6.15 L140.75 5.45 L141.51 4.74 L142.27 4.04 L143.03 3.37 L143.79 2.74 L144.54 2.15 L145.30 1.62 L146.06 1.16 L146.82 0.78 L147.58 0.49 L148.34 0.30 L149.10 0.21 L149.85 0.22 L150.61 0.37 L151.37 0.64 L152.13 1.04 L152.89 1.54 L153.65 2.15 L154.40 2.83 L155.16 3.59 L155.92 4.39 L156.68 5.23 L157.44 6.09 L158.20 6.94 L158.96 7.78 L159.71 8.60 L160.47 9.37 L161.23 10.11 L161.99 10.78 L162.75 11.41 L163.51 11.97 L164.26 12.47 L165.02 12.92 L165.78 13.31 L166.54 13.65 L167.30 13.93 L168.06 14.18 L168.82 14.38 L169.57 14.55 L170.33 14.69 L171.09 14.80 L171.85 14.89 L172.61 14.96 L173.37 15.02 L174.12 15.07 L174.88 15.10 L175.64 15.13 L176.40 15.15 L177.16 15.16 L177.92 15.17 L178.68 15.18 L179.43 15.19 L180.19 15.19 L180.95 15.19 L181.71 15.20 L182.47 15.20 L183.23 15.20 L183.98 15.20 L184.74 15.20 L185.50 15.20 L186.26 15.20 L187.02 15.20 L187.78 15.20 L188.54 15.20 L189.29 15.20 L190.05 15.20 L190.81 15.20 L191.57 15.20 L192.33 15.20 L193.09 15.20 L193.84 15.20 L194.60 15.20 L195.36 15.20 L196.12 15.20 L196.88 15.20 L197.64 15.20 L198.40 15.20 L199.15 15.20 L199.91 15.20 L200.67 15.20 L201.43 15.20 L202.19 15.20 L202.95 15.20 L203.70 15.20 L204.46 15.20 L205.22 15.20 L205.98 15.20 L206.74 15.20 L207.50 15.20 L208.26 15.20 L209.01 15.20 L209.77 15.20 L210.53 15.20 L211.29 15.20 L212.05 15.20 L212.81 15.20 L213.56 15.20 L214.32 15.20 L215.08 15.20 L215.84 15.20 L216.60 15.20 L217.36 15.20 L218.12 15.20 L218.87 15.20 L219.63 15.20 L220.39 15.20 L221.15 15.20 L221.91 15.20 L222.67 15.20 L223.42 15.20 L224.18 15.20 L224.94 15.20 L225.70 15.20 L225.70 15.20" fill="none" stroke="#222222" stroke-width="1.0"/>
<path d="M28.00 33.10 L28.50 33.10 L29.26 33.10 L30.02 33.10 L30.78 33.10 L31.53 33.10 L32.29 33.10 L33.05 33.10 L33.81 33.10 L34.57 33.10 L35.33 33.10 L36.08 33.10 L36.84 33.10 L37.60 33.10 L38.36 33.10 L39.12 33.10 L39.88 33.10 L40.64 33.10 L41.39 33.10 L42.15 33.10 L42.91 33.10 L43.67 33.10 L44.43 33.10 L45.19 33.10 L45.94 33.10 L46.70 33.09 L47.46 33.09 L48.22 33.09 L48.98 33.09 L49.74 33.09 L50.50 33.09 L51.25 33.09 L52.01 33.09 L52.77 33.09 L53.53 33.09 L54.29 33.09 L55.05 33.08 L55.80 33.08 L56.56 33.08 L57.32 33.08 L58.08 33.08 L58.84 33.08 L59.60 33.07 L60.36 33.07 L61.11 33.07 L61.87 33.07 L62.63 33.06 L63.39 33.06 L64.15 33.06 L64.91 33.05 L65.66 33.05 L66.42 33.04 L67.18 33.04 L67.94 33.03 L68.70 33.03 L69.46 33.02 L70.22 33.02 L70.97 33.01 L71.73 33.00 L72.49 32.99 L73.25 32.99 L74.01 32.98 L74.77 32.97 L75.52 32.96 L76.28 32.95 L77.04 32.93 L77.80 32.92 L78.56 32.90 L79.32 32.89 L80.08 32.86 L80.83 32.83 L81.59 32.80 L82.35 32.75 L83.11 32.69 L83.87 32.61 L84.63 32.51 L85.38 32.39 L86.14 32.26 L86.90 32.11 L87.66 31.94 L88.42 31.78 L89.18 31.62 L89.94 31.48 L90.69 31.37 L91.45 31.30 L92.21 31.26 L92.97 31.27 L93.73 31.32 L94.49 31.39 L95.24 31.48 L96.00 31.58 L96.76 31.68 L97.52 31.77 L98.28 31.85 L99.04 31.90 L99.80 31.93 L100.55 31.95 L101.31 31.94 L102.07 31.93 L102.83 31.90 L103.59 31.86 L104.35 31.81 L105.10 31.76 L105.86 31.71 L106.62 31.65 L107.38 31.59 L108.14 31.53 L108.90 31.46 L109.66 31.40 L110.41 31.33 L111.17 31.26 L111.93 31.19 L112.69 31.11 L113.45 31.04 L114.21 30.96 L114.96 30.87 L115.72 30.79 L116.48 30.70 L117.24 30.60 L118.00 30.50 L118.76 30.39 L119.52 30.28 L120.27 30.16 L121.03 30.03 L121.79 29.89 L122.55 29.73 L123.31 29.57 L124.07 29.39 L124.82 29.20 L125.58 29.00 L126.34 28.78 L127.10 28.54 L127.86 28.28 L128.62 28.00 L129.38 27.71 L130.13 27.40 L130.89 27.06 L131.65 26.72 L132.41 26.35 L133.17 25.97 L133.93 25.58 L134.68 25.18 L135.44 24.77 L136.20 24.35 L136.96 23.94 L137.72 23.53 L138.48 23.13 L139.24 22.74 L139.99 22.37 L140.75 22.02 L141.51 21.69 L142.27 21.40 L143.03 21.15 L143.79 20.93 L144.54 20.75 L145.30 20.62 L146.06 20.54 L146.82 20.50 L147.58 20.53 L148.34 20.67 L149.10 20.92 L149.85 21.27 L150.61 21.70 L151.37 22.22 L152.13 22.81 L152.89 23.45 L153.65 24.14 L154.40 24.84 L155.16 25.56 L155.92 26.28 L156.68 26.98 L157.44 27.66 L158.20 28.31 L158.96 28.92 L159.71 29.48 L160.47 29.99 L161.23 30.46 L161.99 30.87 L162.75 31.24 L163.51 31.56 L164.26 31.84 L165.02 32.07 L165.78 32.27 L166.54 32.44 L167.30 32.58 L168.06 32.69 L168.82 32.78 L169.57 32.85 L170.33 32.91 L171.09 32.96 L171.85 32.99 L172.61 33.02 L173.37 33.04 L174.12 33.06 L174.88 33.07 L175.64 33.08 L176.40 33.08 L177.16 33.09 L177.92 33.09 L178.68 33.09 L179.43 33.10 L180.19 33.10 L180.95 33.10 L181.71 33.10 L182.47 33.10 L183.23 33.10 L183.98 33.10 L184.74 33.10 L185.50 33.10 L186.26 33.10 L187.02 33.10 L187.78 33.10 L188.54 33.10 L189.29 33.10 L190.05 33.10 L190.81 33.10 L191.57 33.10 L192.33 33.10 L193.09 33.10 L193.84 33.10 L194.60 33.10 L195.36 33.10 L196.12 33.10 L196.88 33.10 L197.64 33.10 L198.40 33.10 L199.15 33.10 L199.91 33.10 L200.67 33.10 L201.43 33.10 L202.19 33.10 L202.95 33.10 L203.70 33.10 L204.46 33.10 L205.22 33.10 L205.98 33.10 L206.74 33.10 L207.50 33.10 L208.26 33.10 L209.01 33.10 L209.77 33.10 L210.53 33.10 L211.29 33.10 L212.05 33.10 L212.81 33.10 L213.56 33.10 L214.32 33.10 L215.08 33.10 L215.84 33.10 L216.60 33.10 L217.36 33.10 L218.12 33.10 L218.87 33.10 L219.63 33.10 L220.39 33.10 L221.15 33.10 L221.91 33.10 L222.67 33.10 L223.42 33.10 L224.18 33.10 L224.94 33.10 L225.70 33.10 L225.70 33.10 Z" fill="#c4c4c4" stroke="none"/>
<path d="M28.00 33.10 L28.50 33.10 L29.26 33.10 L30.02 33.10 L30.78 33.10 L31.53 33.10 L32.29 33.10 L33.05 33.10 L33.81 33.10 L34.57 33.10 L35.33 33.10 L36.08 33.10 L36.84 33.10 L37.60 33.10 L38.36 33.10 L39.12 33.10 L39.88 33.10 L40.64 33.10 L41.39 33.10 L42.15 33.10 L42.91 33.10 L43.67 33.10 L44.43 33.10 L45.19 33.10 L45.94 33.10 L46.70 33.09 L47.46 33.09 L48.22 33.09 L48.98 33.09 L49.74 33.09 L50.50 33.09 L51.25 33.09 L52.01 33.09 L52.77 33.09 L53.53 33.09 L54.29 33.09 L55.05 33.08 L55.80 33.08 L56.56 33.08 L57.32 33.08 L58.08 33.08 L58.84 33.08 L59.60 33.07 L60.36 33.07 L61.11 33.07 L61.87 33.07 L62.63 33.06 L63.39 33.06 L64.15 33.06 L64.91 33.05 L65.66 33.05 L66.42 33.04 L67.18 33.04 L67.94 33.03 L68.70 33.03 L69.46 33.02 L70.22 33.02 L70.97 33.01 L71.73 33.00 L72.49 32.99 L73.25 32.99 L74.01 32.98 L74.77 32.97 L75.52 32.96 L76.28 32.95 L77.04 32.93 L77.80 32.92 L78.56 32.90 L79.32 32.89 L80.08 32.86 L80.83 32.83 L81.59 32.80 L82.35 32.75 L83.11 32.69 L83.87 32.61 L84.63 32.51 L85.38 32.39 L86.14 32.26 L86.90 32.11 L87.66 31.94 L88.42 31.78 L89.18 31.62 L89.94 31.48 L90.69 31.37 L91.45 31.30 L92.21 31.26 L92.97 31.27 L93.73 31.32 L94.49 31.39 L95.24 31.48 L96.00 31.58 L96.76 31.68 L97.52 31.77 L98.28 31.85 L99.04 31.90 L99.80 31.93 L100.55 31.95 L101.31 31.94 L102.07 31.93 L102.83 31.90 L103.59 31.86 L104.35 31.81 L105.10 31.76 L105.86 31.71 L106.62 31.65 L107.38 31.59 L108.14 31.53 L108.90 31.46 L109.66 31.40 L110.41 31.33 L111.17 31.26 L111.93 31.19 L112.69 31.11 L113.45 31.04 L114.21 30.96 L114.96 30.87 L115.72 30.79 L116.48 30.70 L117.24 30.60 L118.00 30.50 L118.76 30.39 L119.52 30.28 L120.27 30.16 L121.03 30.03 L121.79 29.89 L122.55 29.73 L123.31 29.57 L124.07 29.39 L124.82 29.20 L125.58 29.00 L126.34 28.78 L127.10 28.54 L127.86 28.28 L128.62 28.00 L129.38 27.71 L130.13 27.40 L130.89 27.06 L131.65 26.72 L132.41 26.35 L133.17 25.97 L133.93 25.58 L134.68 25.18 L135.44 24.77 L136.20 24.35 L136.96 23.94 L137.72 23.53 L138.48 23.13 L139.24 22.74 L139.99 22.37 L140.75 22.02 L141.51 21.69 L142.27 21.40 L143.03 21.15 L143.79 20.93 L144.54 20.75 L145.30 20.62 L146.06 20.54 L146.82 20.50 L147.58 20.53 L148.34 20.67 L149.10 20.92 L149.85 21.27 L150.61 21.70 L151.37 22.22 L152.13 22.81 L152.89 23.45 L153.65 24.14 L154.40 24.84 L155.16 25.56 L155.92 26.28 L156.68 26.98 L157.44 27.66 L158.20 28.31 L158.96 28.92 L159.71 29.48 L160.47 29.99 L161.23 30.46 L161.99 30.87 L162.75 31.24 L163.51 31.56 L164.26 31.84 L165.02 32.07 L165.78 32.27 L166.54 32.44 L167.30 32.58 L168.06 32.69 L168.82 32.78 L169.57 32.85 L170.33 32.91 L171.09 32.96 L171.85 32.99 L172.61 33.02 L173.37 33.04 L174.12 33.06 L174.88 33.07 L175.64 33.08 L176.40 33.08 L177.16 33.09 L177.92 33.09 L178.68 33.09 L179.43 33.10 L180.19 33.10 L180.95 33.10 L181.71 33.10 L182.47 33.10 L183.23 33.10 L183.98 33.10 L184.74 33.10 L185.50 33.10 L186.26 33.10 L187.02 33.10 L187.78 33.10 L188.54 33.10 L189.29 33.10 L190.05 33.10 L190.81 33.10 L191.57 33.10 L192.33 33.10 L193.09 33.10 L193.84 33.10 L194.60 33.10 L195.36 33.10 L196.12 33.10 L196.88 33.10 L197.64 33.10 L198.40 33.10 L199.15 33.10 L199.91 33.10 L200.67 33.10 L201.43 33.10 L202.19 33.10 L202.95 33.10 L203.70 33.10 L204.46 33.10 L205.22 33.10 L205.98 33.10 L206.74 33.10 L207.50 33.10 L208.26 33.10 L209.01 33.10 L209.77 33.10 L210.53 33.10 L211.29 33.10 L212.05 33.10 L212.81 33.10 L213.56 33.10 L214.32 33.10 L215.08 33.10 L215.84 33.10 L216.60 33.10 L217.36 33.10 L218.12 33.10 L218.87 33.10 L219.63 33.10 L220.39 33.10 L221.15 33.10 L221.91 33.10 L222.67 33.10 L223.42 33.10 L224.18 33.10 L224.94 33.10 L225.70 33.10 L225.70 33.10" fill="none" stroke="#444444" stroke-width="1.0" stroke-dasharray="0.9 0.8"/>
<path d="M28.00 50.60 L28.50 50.60 L29.26 50.60 L30.02 50.60 L30.78 50.60 L31.53 50.60 L32.29 50.60 L33.05 50.60 L33.81 50.60 L34.57 50.60 L35.33 50.60 L36.08 50.60 L36.84 50.60 L37.60 50.60 L38.36 50.60 L39.12 50.60 L39.88 50.60 L40.64 50.60 L41.39 50.60 L42.15 50.60 L42.91 50.60 L43.67 50.60 L44.43 50.60 L45.19 50.60 L45.94 50.60 L46.70 50.60 L47.46 50.60 L48.22 50.60 L48.98 50.60 L49.74 50.60 L50.50 50.60 L51.25 50.60 L52.01 50.60 L52.77 50.60 L53.53 50.60 L54.29 50.60 L55.05 50.60 L55.80 50.60 L56.56 50.60 L57.32 50.60 L58.08 50.60 L58.84 50.60 L59.60 50.60 L60.36 50.60 L61.11 50.60 L61.87 50.60 L62.63 50.59 L63.39 50.59 L64.15 50.59 L64.91 50.59 L65.66 50.59 L66.42 50.59 L67.18 50.59 L67.94 50.59 L68.70 50.59 L69.46 50.59 L70.22 50.59 L70.97 50.59 L71.73 50.59 L72.49 50.58 L73.25 50.58 L74.01 50.58 L74.77 50.58 L75.52 50.58 L76.28 50.58 L77.04 50.57 L77.80 50.57 L78.56 50.56 L79.32 50.55 L80.08 50.54 L80.83 50.52 L81.59 50.49 L82.35 50.45 L83.11 50.39 L83.87 50.31 L84.63 50.21 L85.38 50.08 L86.14 49.93 L86.90 49.76 L87.66 49.58 L88.42 49.40 L89.18 49.23 L89.94 49.08 L90.69 48.98 L91.45 48.91 L92.21 48.91 L92.97 48.95 L93.73 49.04 L94.49 49.18 L95.24 49.33 L96.00 49.50 L96.76 49.67 L97.52 49.83 L98.28 49.97 L99.04 50.08 L99.80 50.17 L100.55 50.24 L101.31 50.29 L102.07 50.32 L102.83 50.34 L103.59 50.34 L104.35 50.34 L105.10 50.34 L105.86 50.33 L106.62 50.32 L107.38 50.30 L108.14 50.29 L108.90 50.27 L109.66 50.26 L110.41 50.24 L111.17 50.23 L111.93 50.21 L112.69 50.19 L113.45 50.18 L114.21 50.16 L114.96 50.14 L115.72 50.12 L116.48 50.10 L117.24 50.08 L118.00 50.06 L118.76 50.04 L119.52 50.02 L120.27 49.99 L121.03 49.97 L121.79 49.95 L122.55 49.93 L123.31 49.90 L124.07 49.88 L124.82 49.86 L125.58 49.83 L126.34 49.81 L127.10 49.78 L127.86 49.75 L128.62 49.73 L129.38 49.70 L130.13 49.67 L130.89 49.64 L131.65 49.61 L132.41 49.57 L133.17 49.53 L133.93 49.49 L134.68 49.44 L135.44 49.39 L136.20 49.32 L136.96 49.25 L137.72 49.16 L138.48 49.06 L139.24 48.94 L139.99 48.79 L140.75 48.62 L141.51 48.42 L142.27 48.18 L143.03 47.91 L143.79 47.59 L144.54 47.23 L145.30 46.82 L146.06 46.36 L146.82 45.84 L147.58 45.27 L148.34 44.64 L149.10 43.97 L149.85 43.25 L150.61 42.49 L151.37 41.70 L152.13 40.90 L152.89 40.08 L153.65 39.27 L154.40 38.48 L155.16 37.72 L155.92 37.02 L156.68 36.38 L157.44 35.82 L158.20 35.35 L158.96 34.99 L159.71 34.74 L160.47 34.62 L161.23 34.62 L161.99 34.81 L162.75 35.19 L163.51 35.74 L164.26 36.44 L165.02 37.28 L165.78 38.22 L166.54 39.23 L167.30 40.29 L168.06 41.36 L168.82 42.43 L169.57 43.45 L170.33 44.43 L171.09 45.34 L171.85 46.16 L172.61 46.91 L173.37 47.56 L174.12 48.13 L174.88 48.62 L175.64 49.03 L176.40 49.37 L177.16 49.65 L177.92 49.88 L178.68 50.05 L179.43 50.19 L180.19 50.30 L180.95 50.38 L181.71 50.44 L182.47 50.49 L183.23 50.52 L183.98 50.55 L184.74 50.56 L185.50 50.58 L186.26 50.58 L187.02 50.59 L187.78 50.59 L188.54 50.60 L189.29 50.60 L190.05 50.60 L190.81 50.60 L191.57 50.60 L192.33 50.60 L193.09 50.60 L193.84 50.60 L194.60 50.60 L195.36 50.60 L196.12 50.60 L196.88 50.60 L197.64 50.60 L198.40 50.60 L199.15 50.60 L199.91 50.60 L200.67 50.60 L201.43 50.60 L202.19 50.60 L202.95 50.60 L203.70 50.60 L204.46 50.60 L205.22 50.60 L205.98 50.60 L206.74 50.60 L207.50 50.60 L208.26 50.60 L209.01 50.60 L209.77 50.60 L210.53 50.60 L211.29 50.60 L212.05 50.60 L212.81 50.60 L213.56 50.60 L214.32 50.60 L215.08 50.60 L215.84 50.60 L216.60 50.60 L217.36 50.60 L218.12 50.60 L218.87 50.60 L219.63 50.60 L220.39 50.60 L221.15 50.60 L221.91 50.60 L222.67 50.60 L223.42 50.60 L224.18 50.60 L224.94 50.60 L225.70 50.60 L225.70 50.60 Z" fill="#d19a90" stroke="none"/>
<path d="M28.00 50.60 L28.50 50.60 L29.26 50.60 L30.02 50.60 L30.78 50.60 L31.53 50.60 L32.29 50.60 L33.05 50.60 L33.81 50.60 L34.57 50.60 L35.33 50.60 L36.08 50.60 L36.84 50.60 L37.60 50.60 L38.36 50.60 L39.12 50.60 L39.88 50.60 L40.64 50.60 L41.39 50.60 L42.15 50.60 L42.91 50.60 L43.67 50.60 L44.43 50.60 L45.19 50.60 L45.94 50.60 L46.70 50.60 L47.46 50.60 L48.22 50.60 L48.98 50.60 L49.74 50.60 L50.50 50.60 L51.25 50.60 L52.01 50.60 L52.77 50.60 L53.53 50.60 L54.29 50.60 L55.05 50.60 L55.80 50.60 L56.56 50.60 L57.32 50.60 L58.08 50.60 L58.84 50.60 L59.60 50.60 L60.36 50.60 L61.11 50.60 L61.87 50.60 L62.63 50.59 L63.39 50.59 L64.15 50.59 L64.91 50.59 L65.66 50.59 L66.42 50.59 L67.18 50.59 L67.94 50.59 L68.70 50.59 L69.46 50.59 L70.22 50.59 L70.97 50.59 L71.73 50.59 L72.49 50.58 L73.25 50.58 L74.01 50.58 L74.77 50.58 L75.52 50.58 L76.28 50.58 L77.04 50.57 L77.80 50.57 L78.56 50.56 L79.32 50.55 L80.08 50.54 L80.83 50.52 L81.59 50.49 L82.35 50.45 L83.11 50.39 L83.87 50.31 L84.63 50.21 L85.38 50.08 L86.14 49.93 L86.90 49.76 L87.66 49.58 L88.42 49.40 L89.18 49.23 L89.94 49.08 L90.69 48.98 L91.45 48.91 L92.21 48.91 L92.97 48.95 L93.73 49.04 L94.49 49.18 L95.24 49.33 L96.00 49.50 L96.76 49.67 L97.52 49.83 L98.28 49.97 L99.04 50.08 L99.80 50.17 L100.55 50.24 L101.31 50.29 L102.07 50.32 L102.83 50.34 L103.59 50.34 L104.35 50.34 L105.10 50.34 L105.86 50.33 L106.62 50.32 L107.38 50.30 L108.14 50.29 L108.90 50.27 L109.66 50.26 L110.41 50.24 L111.17 50.23 L111.93 50.21 L112.69 50.19 L113.45 50.18 L114.21 50.16 L114.96 50.14 L115.72 50.12 L116.48 50.10 L117.24 50.08 L118.00 50.06 L118.76 50.04 L119.52 50.02 L120.27 49.99 L121.03 49.97 L121.79 49.95 L122.55 49.93 L123.31 49.90 L124.07 49.88 L124.82 49.86 L125.58 49.83 L126.34 49.81 L127.10 49.78 L127.86 49.75 L128.62 49.73 L129.38 49.70 L130.13 49.67 L130.89 49.64 L131.65 49.61 L132.41 49.57 L133.17 49.53 L133.93 49.49 L134.68 49.44 L135.44 49.39 L136.20 49.32 L136.96 49.25 L137.72 49.16 L138.48 49.06 L139.24 48.94 L139.99 48.79 L140.75 48.62 L141.51 48.42 L142.27 48.18 L143.03 47.91 L143.79 47.59 L144.54 47.23 L145.30 46.82 L146.06 46.36 L146.82 45.84 L147.58 45.27 L148.34 44.64 L149.10 43.97 L149.85 43.25 L150.61 42.49 L151.37 41.70 L152.13 40.90 L152.89 40.08 L153.65 39.27 L154.40 38.48 L155.16 37.72 L155.92 37.02 L156.68 36.38 L157.44 35.82 L158.20 35.35 L158.96 34.99 L159.71 34.74 L160.47 34.62 L161.23 34.62 L161.99 34.81 L162.75 35.19 L163.51 35.74 L164.26 36.44 L165.02 37.28 L165.78 38.22 L166.54 39.23 L167.30 40.29 L168.06 41.36 L168.82 42.43 L169.57 43.45 L170.33 44.43 L171.09 45.34 L171.85 46.16 L172.61 46.91 L173.37 47.56 L174.12 48.13 L174.88 48.62 L175.64 49.03 L176.40 49.37 L177.16 49.65 L177.92 49.88 L178.68 50.05 L179.43 50.19 L180.19 50.30 L180.95 50.38 L181.71 50.44 L182.47 50.49 L183.23 50.52 L183.98 50.55 L184.74 50.56 L185.50 50.58 L186.26 50.58 L187.02 50.59 L187.78 50.59 L188.54 50.60 L189.29 50.60 L190.05 50.60 L190.81 50.60 L191.57 50.60 L192.33 50.60 L193.09 50.60 L193.84 50.60 L194.60 50.60 L195.36 50.60 L196.12 50.60 L196.88 50.60 L197.64 50.60 L198.40 50.60 L199.15 50.60 L199.91 50.60 L200.67 50.60 L201.43 50.60 L202.19 50.60 L202.95 50.60 L203.70 50.60 L204.46 50.60 L205.22 50.60 L205.98 50.60 L206.74 50.60 L207.50 50.60 L208.26 50.60 L209.01 50.60 L209.77 50.60 L210.53 50.60 L211.29 50.60 L212.05 50.60 L212.81 50.60 L213.56 50.60 L214.32 50.60 L215.08 50.60 L215.84 50.60 L216.60 50.60 L217.36 50.60 L218.12 50.60 L218.87 50.60 L219.63 50.60 L220.39 50.60 L221.15 50.60 L221.91 50.60 L222.67 50.60 L223.42 50.60 L224.18 50.60 L224.94 50.60 L225.70 50.60 L225.70 50.60" fill="none" stroke="#7a2b2b" stroke-width="1.0"/>
<path d="M28.00 68.00 L28.50 68.00 L29.26 68.00 L30.02 68.00 L30.78 68.00 L31.53 68.00 L32.29 68.00 L33.05 68.00 L33.81 68.00 L34.57 68.00 L35.33 68.00 L36.08 68.00 L36.84 68.00 L37.60 68.00 L38.36 68.00 L39.12 68.00 L39.88 68.00 L40.64 68.00 L41.39 68.00 L42.15 68.00 L42.91 68.00 L43.67 68.00 L44.43 68.00 L45.19 68.00 L45.94 68.00 L46.70 68.00 L47.46 68.00 L48.22 68.00 L48.98 68.00 L49.74 68.00 L50.50 68.00 L51.25 68.00 L52.01 68.00 L52.77 68.00 L53.53 68.00 L54.29 68.00 L55.05 68.00 L55.80 68.00 L56.56 68.00 L57.32 68.00 L58.08 68.00 L58.84 68.00 L59.60 68.00 L60.36 67.99 L61.11 67.99 L61.87 67.99 L62.63 67.99 L63.39 67.99 L64.15 67.99 L64.91 67.99 L65.66 67.99 L66.42 67.99 L67.18 67.99 L67.94 67.99 L68.70 67.99 L69.46 67.99 L70.22 67.98 L70.97 67.98 L71.73 67.98 L72.49 67.98 L73.25 67.98 L74.01 67.98 L74.77 67.98 L75.52 67.97 L76.28 67.97 L77.04 67.97 L77.80 67.97 L78.56 67.96 L79.32 67.95 L80.08 67.94 L80.83 67.93 L81.59 67.91 L82.35 67.89 L83.11 67.85 L83.87 67.80 L84.63 67.74 L85.38 67.66 L86.14 67.57 L86.90 67.47 L87.66 67.36 L88.42 67.24 L89.18 67.14 L89.94 67.05 L90.69 66.98 L91.45 66.94 L92.21 66.94 L92.97 66.96 L93.73 67.01 L94.49 67.09 L95.24 67.18 L96.00 67.28 L96.76 67.38 L97.52 67.47 L98.28 67.55 L99.04 67.61 L99.80 67.66 L100.55 67.70 L101.31 67.73 L102.07 67.74 L102.83 67.75 L103.59 67.75 L104.35 67.74 L105.10 67.73 L105.86 67.72 L106.62 67.71 L107.38 67.70 L108.14 67.69 L108.90 67.67 L109.66 67.66 L110.41 67.65 L111.17 67.63 L111.93 67.62 L112.69 67.60 L113.45 67.58 L114.21 67.57 L114.96 67.55 L115.72 67.53 L116.48 67.52 L117.24 67.50 L118.00 67.48 L118.76 67.46 L119.52 67.44 L120.27 67.42 L121.03 67.40 L121.79 67.38 L122.55 67.36 L123.31 67.34 L124.07 67.31 L124.82 67.29 L125.58 67.26 L126.34 67.23 L127.10 67.20 L127.86 67.17 L128.62 67.13 L129.38 67.08 L130.13 67.04 L130.89 66.98 L131.65 66.92 L132.41 66.84 L133.17 66.76 L133.93 66.66 L134.68 66.56 L135.44 66.43 L136.20 66.29 L136.96 66.13 L137.72 65.95 L138.48 65.75 L139.24 65.52 L139.99 65.27 L140.75 65.00 L141.51 64.70 L142.27 64.38 L143.03 64.03 L143.79 63.67 L144.54 63.28 L145.30 62.88 L146.06 62.47 L146.82 62.04 L147.58 61.62 L148.34 61.20 L149.10 60.78 L149.85 60.38 L150.61 60.00 L151.37 59.65 L152.13 59.33 L152.89 59.05 L153.65 58.82 L154.40 58.63 L155.16 58.50 L155.92 58.42 L156.68 58.40 L157.44 58.44 L158.20 58.55 L158.96 58.73 L159.71 58.97 L160.47 59.27 L161.23 59.62 L161.99 60.01 L162.75 60.44 L163.51 60.90 L164.26 61.37 L165.02 61.87 L165.78 62.36 L166.54 62.85 L167.30 63.34 L168.06 63.81 L168.82 64.26 L169.57 64.68 L170.33 65.08 L171.09 65.45 L171.85 65.79 L172.61 66.09 L173.37 66.37 L174.12 66.62 L174.88 66.83 L175.64 67.03 L176.40 67.19 L177.16 67.33 L177.92 67.45 L178.68 67.56 L179.43 67.64 L180.19 67.71 L180.95 67.77 L181.71 67.82 L182.47 67.86 L183.23 67.89 L183.98 67.92 L184.74 67.94 L185.50 67.95 L186.26 67.96 L187.02 67.97 L187.78 67.98 L188.54 67.98 L189.29 67.99 L190.05 67.99 L190.81 67.99 L191.57 68.00 L192.33 68.00 L193.09 68.00 L193.84 68.00 L194.60 68.00 L195.36 68.00 L196.12 68.00 L196.88 68.00 L197.64 68.00 L198.40 68.00 L199.15 68.00 L199.91 68.00 L200.67 68.00 L201.43 68.00 L202.19 68.00 L202.95 68.00 L203.70 68.00 L204.46 68.00 L205.22 68.00 L205.98 68.00 L206.74 68.00 L207.50 68.00 L208.26 68.00 L209.01 68.00 L209.77 68.00 L210.53 68.00 L211.29 68.00 L212.05 68.00 L212.81 68.00 L213.56 68.00 L214.32 68.00 L215.08 68.00 L215.84 68.00 L216.60 68.00 L217.36 68.00 L218.12 68.00 L218.87 68.00 L219.63 68.00 L220.39 68.00 L221.15 68.00 L221.91 68.00 L222.67 68.00 L223.42 68.00 L224.18 68.00 L224.94 68.00 L225.70 68.00 L225.70 68.00 Z" fill="#fbd0cf" stroke="none"/>
<path d="M28.00 68.00 L28.50 68.00 L29.26 68.00 L30.02 68.00 L30.78 68.00 L31.53 68.00 L32.29 68.00 L33.05 68.00 L33.81 68.00 L34.57 68.00 L35.33 68.00 L36.08 68.00 L36.84 68.00 L37.60 68.00 L38.36 68.00 L39.12 68.00 L39.88 68.00 L40.64 68.00 L41.39 68.00 L42.15 68.00 L42.91 68.00 L43.67 68.00 L44.43 68.00 L45.19 68.00 L45.94 68.00 L46.70 68.00 L47.46 68.00 L48.22 68.00 L48.98 68.00 L49.74 68.00 L50.50 68.00 L51.25 68.00 L52.01 68.00 L52.77 68.00 L53.53 68.00 L54.29 68.00 L55.05 68.00 L55.80 68.00 L56.56 68.00 L57.32 68.00 L58.08 68.00 L58.84 68.00 L59.60 68.00 L60.36 67.99 L61.11 67.99 L61.87 67.99 L62.63 67.99 L63.39 67.99 L64.15 67.99 L64.91 67.99 L65.66 67.99 L66.42 67.99 L67.18 67.99 L67.94 67.99 L68.70 67.99 L69.46 67.99 L70.22 67.98 L70.97 67.98 L71.73 67.98 L72.49 67.98 L73.25 67.98 L74.01 67.98 L74.77 67.98 L75.52 67.97 L76.28 67.97 L77.04 67.97 L77.80 67.97 L78.56 67.96 L79.32 67.95 L80.08 67.94 L80.83 67.93 L81.59 67.91 L82.35 67.89 L83.11 67.85 L83.87 67.80 L84.63 67.74 L85.38 67.66 L86.14 67.57 L86.90 67.47 L87.66 67.36 L88.42 67.24 L89.18 67.14 L89.94 67.05 L90.69 66.98 L91.45 66.94 L92.21 66.94 L92.97 66.96 L93.73 67.01 L94.49 67.09 L95.24 67.18 L96.00 67.28 L96.76 67.38 L97.52 67.47 L98.28 67.55 L99.04 67.61 L99.80 67.66 L100.55 67.70 L101.31 67.73 L102.07 67.74 L102.83 67.75 L103.59 67.75 L104.35 67.74 L105.10 67.73 L105.86 67.72 L106.62 67.71 L107.38 67.70 L108.14 67.69 L108.90 67.67 L109.66 67.66 L110.41 67.65 L111.17 67.63 L111.93 67.62 L112.69 67.60 L113.45 67.58 L114.21 67.57 L114.96 67.55 L115.72 67.53 L116.48 67.52 L117.24 67.50 L118.00 67.48 L118.76 67.46 L119.52 67.44 L120.27 67.42 L121.03 67.40 L121.79 67.38 L122.55 67.36 L123.31 67.34 L124.07 67.31 L124.82 67.29 L125.58 67.26 L126.34 67.23 L127.10 67.20 L127.86 67.17 L128.62 67.13 L129.38 67.08 L130.13 67.04 L130.89 66.98 L131.65 66.92 L132.41 66.84 L133.17 66.76 L133.93 66.66 L134.68 66.56 L135.44 66.43 L136.20 66.29 L136.96 66.13 L137.72 65.95 L138.48 65.75 L139.24 65.52 L139.99 65.27 L140.75 65.00 L141.51 64.70 L142.27 64.38 L143.03 64.03 L143.79 63.67 L144.54 63.28 L145.30 62.88 L146.06 62.47 L146.82 62.04 L147.58 61.62 L148.34 61.20 L149.10 60.78 L149.85 60.38 L150.61 60.00 L151.37 59.65 L152.13 59.33 L152.89 59.05 L153.65 58.82 L154.40 58.63 L155.16 58.50 L155.92 58.42 L156.68 58.40 L157.44 58.44 L158.20 58.55 L158.96 58.73 L159.71 58.97 L160.47 59.27 L161.23 59.62 L161.99 60.01 L162.75 60.44 L163.51 60.90 L164.26 61.37 L165.02 61.87 L165.78 62.36 L166.54 62.85 L167.30 63.34 L168.06 63.81 L168.82 64.26 L169.57 64.68 L170.33 65.08 L171.09 65.45 L171.85 65.79 L172.61 66.09 L173.37 66.37 L174.12 66.62 L174.88 66.83 L175.64 67.03 L176.40 67.19 L177.16 67.33 L177.92 67.45 L178.68 67.56 L179.43 67.64 L180.19 67.71 L180.95 67.77 L181.71 67.82 L182.47 67.86 L183.23 67.89 L183.98 67.92 L184.74 67.94 L185.50 67.95 L186.26 67.96 L187.02 67.97 L187.78 67.98 L188.54 67.98 L189.29 67.99 L190.05 67.99 L190.81 67.99 L191.57 68.00 L192.33 68.00 L193.09 68.00 L193.84 68.00 L194.60 68.00 L195.36 68.00 L196.12 68.00 L196.88 68.00 L197.64 68.00 L198.40 68.00 L199.15 68.00 L199.91 68.00 L200.67 68.00 L201.43 68.00 L202.19 68.00 L202.95 68.00 L203.70 68.00 L204.46 68.00 L205.22 68.00 L205.98 68.00 L206.74 68.00 L207.50 68.00 L208.26 68.00 L209.01 68.00 L209.77 68.00 L210.53 68.00 L211.29 68.00 L212.05 68.00 L212.81 68.00 L213.56 68.00 L214.32 68.00 L215.08 68.00 L215.84 68.00 L216.60 68.00 L217.36 68.00 L218.12 68.00 L218.87 68.00 L219.63 68.00 L220.39 68.00 L221.15 68.00 L221.91 68.00 L222.67 68.00 L223.42 68.00 L224.18 68.00 L224.94 68.00 L225.70 68.00 L225.70 68.00" fill="none" stroke="#b03a3a" stroke-width="1.0" stroke-dasharray="0.9 0.8"/>
<path d="M28.00 85.90 L28.50 85.90 L29.26 85.90 L30.02 85.90 L30.78 85.90 L31.53 85.90 L32.29 85.90 L33.05 85.90 L33.81 85.90 L34.57 85.90 L35.33 85.90 L36.08 85.90 L36.84 85.90 L37.60 85.90 L38.36 85.90 L39.12 85.90 L39.88 85.90 L40.64 85.90 L41.39 85.90 L42.15 85.90 L42.91 85.90 L43.67 85.90 L44.43 85.90 L45.19 85.90 L45.94 85.90 L46.70 85.90 L47.46 85.90 L48.22 85.90 L48.98 85.90 L49.74 85.90 L50.50 85.90 L51.25 85.90 L52.01 85.90 L52.77 85.90 L53.53 85.90 L54.29 85.90 L55.05 85.90 L55.80 85.89 L56.56 85.89 L57.32 85.89 L58.08 85.89 L58.84 85.89 L59.60 85.89 L60.36 85.89 L61.11 85.89 L61.87 85.89 L62.63 85.89 L63.39 85.89 L64.15 85.89 L64.91 85.89 L65.66 85.88 L66.42 85.88 L67.18 85.88 L67.94 85.88 L68.70 85.88 L69.46 85.88 L70.22 85.87 L70.97 85.87 L71.73 85.87 L72.49 85.87 L73.25 85.87 L74.01 85.86 L74.77 85.86 L75.52 85.86 L76.28 85.85 L77.04 85.85 L77.80 85.84 L78.56 85.84 L79.32 85.83 L80.08 85.82 L80.83 85.80 L81.59 85.77 L82.35 85.74 L83.11 85.69 L83.87 85.63 L84.63 85.55 L85.38 85.46 L86.14 85.34 L86.90 85.21 L87.66 85.08 L88.42 84.94 L89.18 84.81 L89.94 84.70 L90.69 84.61 L91.45 84.56 L92.21 84.55 L92.97 84.58 L93.73 84.64 L94.49 84.73 L95.24 84.84 L96.00 84.96 L96.76 85.08 L97.52 85.19 L98.28 85.28 L99.04 85.36 L99.80 85.42 L100.55 85.46 L101.31 85.49 L102.07 85.50 L102.83 85.51 L103.59 85.50 L104.35 85.50 L105.10 85.48 L105.86 85.47 L106.62 85.45 L107.38 85.43 L108.14 85.41 L108.90 85.39 L109.66 85.37 L110.41 85.35 L111.17 85.33 L111.93 85.30 L112.69 85.28 L113.45 85.26 L114.21 85.23 L114.96 85.21 L115.72 85.18 L116.48 85.15 L117.24 85.12 L118.00 85.09 L118.76 85.06 L119.52 85.03 L120.27 84.99 L121.03 84.95 L121.79 84.91 L122.55 84.86 L123.31 84.80 L124.07 84.74 L124.82 84.66 L125.58 84.58 L126.34 84.48 L127.10 84.37 L127.86 84.25 L128.62 84.11 L129.38 83.95 L130.13 83.77 L130.89 83.57 L131.65 83.36 L132.41 83.12 L133.17 82.87 L133.93 82.60 L134.68 82.32 L135.44 82.03 L136.20 81.72 L136.96 81.41 L137.72 81.09 L138.48 80.76 L139.24 80.42 L139.99 80.08 L140.75 79.73 L141.51 79.36 L142.27 78.99 L143.03 78.61 L143.79 78.22 L144.54 77.82 L145.30 77.41 L146.06 76.98 L146.82 76.56 L147.58 76.14 L148.34 75.72 L149.10 75.33 L149.85 74.95 L150.61 74.62 L151.37 74.33 L152.13 74.10 L152.89 74.10 L153.65 74.10 L154.40 74.10 L155.16 74.10 L155.92 74.10 L156.68 74.27 L157.44 74.64 L158.20 75.10 L158.96 75.64 L159.71 76.24 L160.47 76.90 L161.23 77.60 L161.99 78.32 L162.75 79.04 L163.51 79.76 L164.26 80.46 L165.02 81.12 L165.78 81.75 L166.54 82.33 L167.30 82.86 L168.06 83.34 L168.82 83.76 L169.57 84.14 L170.33 84.46 L171.09 84.73 L171.85 84.96 L172.61 85.16 L173.37 85.32 L174.12 85.45 L174.88 85.55 L175.64 85.63 L176.40 85.70 L177.16 85.75 L177.92 85.79 L178.68 85.82 L179.43 85.84 L180.19 85.86 L180.95 85.87 L181.71 85.88 L182.47 85.89 L183.23 85.89 L183.98 85.89 L184.74 85.90 L185.50 85.90 L186.26 85.90 L187.02 85.90 L187.78 85.90 L188.54 85.90 L189.29 85.90 L190.05 85.90 L190.81 85.90 L191.57 85.90 L192.33 85.90 L193.09 85.90 L193.84 85.90 L194.60 85.90 L195.36 85.90 L196.12 85.90 L196.88 85.90 L197.64 85.90 L198.40 85.90 L199.15 85.90 L199.91 85.90 L200.67 85.90 L201.43 85.90 L202.19 85.90 L202.95 85.90 L203.70 85.90 L204.46 85.90 L205.22 85.90 L205.98 85.90 L206.74 85.90 L207.50 85.90 L208.26 85.90 L209.01 85.90 L209.77 85.90 L210.53 85.90 L211.29 85.90 L212.05 85.90 L212.81 85.90 L213.56 85.90 L214.32 85.90 L215.08 85.90 L215.84 85.90 L216.60 85.90 L217.36 85.90 L218.12 85.90 L218.87 85.90 L219.63 85.90 L220.39 85.90 L221.15 85.90 L221.91 85.90 L222.67 85.90 L223.42 85.90 L224.18 85.90 L224.94 85.90 L225.70 85.90 L225.70 85.90 Z" fill="#8db796" stroke="none"/>
<path d="M28.00 85.90 L28.50 85.90 L29.26 85.90 L30.02 85.90 L30.78 85.90 L31.53 85.90 L32.29 85.90 L33.05 85.90 L33.81 85.90 L34.57 85.90 L35.33 85.90 L36.08 85.90 L36.84 85.90 L37.60 85.90 L38.36 85.90 L39.12 85.90 L39.88 85.90 L40.64 85.90 L41.39 85.90 L42.15 85.90 L42.91 85.90 L43.67 85.90 L44.43 85.90 L45.19 85.90 L45.94 85.90 L46.70 85.90 L47.46 85.90 L48.22 85.90 L48.98 85.90 L49.74 85.90 L50.50 85.90 L51.25 85.90 L52.01 85.90 L52.77 85.90 L53.53 85.90 L54.29 85.90 L55.05 85.90 L55.80 85.89 L56.56 85.89 L57.32 85.89 L58.08 85.89 L58.84 85.89 L59.60 85.89 L60.36 85.89 L61.11 85.89 L61.87 85.89 L62.63 85.89 L63.39 85.89 L64.15 85.89 L64.91 85.89 L65.66 85.88 L66.42 85.88 L67.18 85.88 L67.94 85.88 L68.70 85.88 L69.46 85.88 L70.22 85.87 L70.97 85.87 L71.73 85.87 L72.49 85.87 L73.25 85.87 L74.01 85.86 L74.77 85.86 L75.52 85.86 L76.28 85.85 L77.04 85.85 L77.80 85.84 L78.56 85.84 L79.32 85.83 L80.08 85.82 L80.83 85.80 L81.59 85.77 L82.35 85.74 L83.11 85.69 L83.87 85.63 L84.63 85.55 L85.38 85.46 L86.14 85.34 L86.90 85.21 L87.66 85.08 L88.42 84.94 L89.18 84.81 L89.94 84.70 L90.69 84.61 L91.45 84.56 L92.21 84.55 L92.97 84.58 L93.73 84.64 L94.49 84.73 L95.24 84.84 L96.00 84.96 L96.76 85.08 L97.52 85.19 L98.28 85.28 L99.04 85.36 L99.80 85.42 L100.55 85.46 L101.31 85.49 L102.07 85.50 L102.83 85.51 L103.59 85.50 L104.35 85.50 L105.10 85.48 L105.86 85.47 L106.62 85.45 L107.38 85.43 L108.14 85.41 L108.90 85.39 L109.66 85.37 L110.41 85.35 L111.17 85.33 L111.93 85.30 L112.69 85.28 L113.45 85.26 L114.21 85.23 L114.96 85.21 L115.72 85.18 L116.48 85.15 L117.24 85.12 L118.00 85.09 L118.76 85.06 L119.52 85.03 L120.27 84.99 L121.03 84.95 L121.79 84.91 L122.55 84.86 L123.31 84.80 L124.07 84.74 L124.82 84.66 L125.58 84.58 L126.34 84.48 L127.10 84.37 L127.86 84.25 L128.62 84.11 L129.38 83.95 L130.13 83.77 L130.89 83.57 L131.65 83.36 L132.41 83.12 L133.17 82.87 L133.93 82.60 L134.68 82.32 L135.44 82.03 L136.20 81.72 L136.96 81.41 L137.72 81.09 L138.48 80.76 L139.24 80.42 L139.99 80.08 L140.75 79.73 L141.51 79.36 L142.27 78.99 L143.03 78.61 L143.79 78.22 L144.54 77.82 L145.30 77.41 L146.06 76.98 L146.82 76.56 L147.58 76.14 L148.34 75.72 L149.10 75.33 L149.85 74.95 L150.61 74.62 L151.37 74.33 L152.13 74.10 L152.89 74.10 L153.65 74.10 L154.40 74.10 L155.16 74.10 L155.92 74.10 L156.68 74.27 L157.44 74.64 L158.20 75.10 L158.96 75.64 L159.71 76.24 L160.47 76.90 L161.23 77.60 L161.99 78.32 L162.75 79.04 L163.51 79.76 L164.26 80.46 L165.02 81.12 L165.78 81.75 L166.54 82.33 L167.30 82.86 L168.06 83.34 L168.82 83.76 L169.57 84.14 L170.33 84.46 L171.09 84.73 L171.85 84.96 L172.61 85.16 L173.37 85.32 L174.12 85.45 L174.88 85.55 L175.64 85.63 L176.40 85.70 L177.16 85.75 L177.92 85.79 L178.68 85.82 L179.43 85.84 L180.19 85.86 L180.95 85.87 L181.71 85.88 L182.47 85.89 L183.23 85.89 L183.98 85.89 L184.74 85.90 L185.50 85.90 L186.26 85.90 L187.02 85.90 L187.78 85.90 L188.54 85.90 L189.29 85.90 L190.05 85.90 L190.81 85.90 L191.57 85.90 L192.33 85.90 L193.09 85.90 L193.84 85.90 L194.60 85.90 L195.36 85.90 L196.12 85.90 L196.88 85.90 L197.64 85.90 L198.40 85.90 L199.15 85.90 L199.91 85.90 L200.67 85.90 L201.43 85.90 L202.19 85.90 L202.95 85.90 L203.70 85.90 L204.46 85.90 L205.22 85.90 L205.98 85.90 L206.74 85.90 L207.50 85.90 L208.26 85.90 L209.01 85.90 L209.77 85.90 L210.53 85.90 L211.29 85.90 L212.05 85.90 L212.81 85.90 L213.56 85.90 L214.32 85.90 L215.08 85.90 L215.84 85.90 L216.60 85.90 L217.36 85.90 L218.12 85.90 L218.87 85.90 L219.63 85.90 L220.39 85.90 L221.15 85.90 L221.91 85.90 L222.67 85.90 L223.42 85.90 L224.18 85.90 L224.94 85.90 L225.70 85.90 L225.70 85.90" fill="none" stroke="#2a7540" stroke-width="1.0"/>
<path d="M28.00 103.30 L28.50 103.30 L29.26 103.30 L30.02 103.30 L30.78 103.30 L31.53 103.30 L32.29 103.30 L33.05 103.30 L33.81 103.30 L34.57 103.30 L35.33 103.30 L36.08 103.30 L36.84 103.30 L37.60 103.30 L38.36 103.30 L39.12 103.30 L39.88 103.30 L40.64 103.30 L41.39 103.30 L42.15 103.30 L42.91 103.30 L43.67 103.30 L44.43 103.30 L45.19 103.30 L45.94 103.30 L46.70 103.30 L47.46 103.30 L48.22 103.30 L48.98 103.30 L49.74 103.30 L50.50 103.30 L51.25 103.30 L52.01 103.30 L52.77 103.30 L53.53 103.30 L54.29 103.30 L55.05 103.29 L55.80 103.29 L56.56 103.29 L57.32 103.29 L58.08 103.29 L58.84 103.29 L59.60 103.29 L60.36 103.29 L61.11 103.29 L61.87 103.29 L62.63 103.29 L63.39 103.29 L64.15 103.29 L64.91 103.28 L65.66 103.28 L66.42 103.28 L67.18 103.28 L67.94 103.28 L68.70 103.28 L69.46 103.28 L70.22 103.27 L70.97 103.27 L71.73 103.27 L72.49 103.27 L73.25 103.27 L74.01 103.26 L74.77 103.26 L75.52 103.26 L76.28 103.25 L77.04 103.25 L77.80 103.25 L78.56 103.24 L79.32 103.23 L80.08 103.22 L80.83 103.21 L81.59 103.19 L82.35 103.16 L83.11 103.12 L83.87 103.07 L84.63 103.01 L85.38 102.93 L86.14 102.83 L86.90 102.73 L87.66 102.62 L88.42 102.51 L89.18 102.40 L89.94 102.31 L90.69 102.24 L91.45 102.20 L92.21 102.19 L92.97 102.21 L93.73 102.26 L94.49 102.33 L95.24 102.42 L96.00 102.51 L96.76 102.61 L97.52 102.69 L98.28 102.77 L99.04 102.83 L99.80 102.88 L100.55 102.91 L101.31 102.93 L102.07 102.94 L102.83 102.94 L103.59 102.94 L104.35 102.93 L105.10 102.92 L105.86 102.91 L106.62 102.89 L107.38 102.87 L108.14 102.86 L108.90 102.84 L109.66 102.82 L110.41 102.80 L111.17 102.78 L111.93 102.76 L112.69 102.74 L113.45 102.72 L114.21 102.70 L114.96 102.68 L115.72 102.66 L116.48 102.64 L117.24 102.61 L118.00 102.59 L118.76 102.57 L119.52 102.54 L120.27 102.51 L121.03 102.49 L121.79 102.46 L122.55 102.42 L123.31 102.39 L124.07 102.35 L124.82 102.31 L125.58 102.26 L126.34 102.21 L127.10 102.15 L127.86 102.09 L128.62 102.01 L129.38 101.93 L130.13 101.83 L130.89 101.72 L131.65 101.59 L132.41 101.45 L133.17 101.28 L133.93 101.10 L134.68 100.90 L135.44 100.68 L136.20 100.43 L136.96 100.16 L137.72 99.86 L138.48 99.54 L139.24 99.20 L139.99 98.84 L140.75 98.46 L141.51 98.07 L142.27 97.67 L143.03 97.25 L143.79 96.84 L144.54 96.43 L145.30 96.03 L146.06 95.65 L146.82 95.29 L147.58 94.95 L148.34 94.65 L149.10 94.39 L149.85 94.17 L150.61 94.00 L151.37 93.88 L152.13 93.81 L152.89 93.80 L153.65 93.87 L154.40 94.02 L155.16 94.25 L155.92 94.55 L156.68 94.92 L157.44 95.34 L158.20 95.80 L158.96 96.31 L159.71 96.83 L160.47 97.37 L161.23 97.91 L161.99 98.45 L162.75 98.97 L163.51 99.47 L164.26 99.94 L165.02 100.38 L165.78 100.79 L166.54 101.15 L167.30 101.48 L168.06 101.78 L168.82 102.03 L169.57 102.26 L170.33 102.45 L171.09 102.61 L171.85 102.75 L172.61 102.86 L173.37 102.95 L174.12 103.03 L174.88 103.09 L175.64 103.14 L176.40 103.18 L177.16 103.21 L177.92 103.23 L178.68 103.25 L179.43 103.26 L180.19 103.27 L180.95 103.28 L181.71 103.29 L182.47 103.29 L183.23 103.29 L183.98 103.30 L184.74 103.30 L185.50 103.30 L186.26 103.30 L187.02 103.30 L187.78 103.30 L188.54 103.30 L189.29 103.30 L190.05 103.30 L190.81 103.30 L191.57 103.30 L192.33 103.30 L193.09 103.30 L193.84 103.30 L194.60 103.30 L195.36 103.30 L196.12 103.30 L196.88 103.30 L197.64 103.30 L198.40 103.30 L199.15 103.30 L199.91 103.30 L200.67 103.30 L201.43 103.30 L202.19 103.30 L202.95 103.30 L203.70 103.30 L204.46 103.30 L205.22 103.30 L205.98 103.30 L206.74 103.30 L207.50 103.30 L208.26 103.30 L209.01 103.30 L209.77 103.30 L210.53 103.30 L211.29 103.30 L212.05 103.30 L212.81 103.30 L213.56 103.30 L214.32 103.30 L215.08 103.30 L215.84 103.30 L216.60 103.30 L217.36 103.30 L218.12 103.30 L218.87 103.30 L219.63 103.30 L220.39 103.30 L221.15 103.30 L221.91 103.30 L222.67 103.30 L223.42 103.30 L224.18 103.30 L224.94 103.30 L225.70 103.30 L225.70 103.30 Z" fill="#b2dcb4" stroke="none"/>
<path d="M28.00 103.30 L28.50 103.30 L29.26 103.30 L30.02 103.30 L30.78 103.30 L31.53 103.30 L32.29 103.30 L33.05 103.30 L33.81 103.30 L34.57 103.30 L35.33 103.30 L36.08 103.30 L36.84 103.30 L37.60 103.30 L38.36 103.30 L39.12 103.30 L39.88 103.30 L40.64 103.30 L41.39 103.30 L42.15 103.30 L42.91 103.30 L43.67 103.30 L44.43 103.30 L45.19 103.30 L45.94 103.30 L46.70 103.30 L47.46 103.30 L48.22 103.30 L48.98 103.30 L49.74 103.30 L50.50 103.30 L51.25 103.30 L52.01 103.30 L52.77 103.30 L53.53 103.30 L54.29 103.30 L55.05 103.29 L55.80 103.29 L56.56 103.29 L57.32 103.29 L58.08 103.29 L58.84 103.29 L59.60 103.29 L60.36 103.29 L61.11 103.29 L61.87 103.29 L62.63 103.29 L63.39 103.29 L64.15 103.29 L64.91 103.28 L65.66 103.28 L66.42 103.28 L67.18 103.28 L67.94 103.28 L68.70 103.28 L69.46 103.28 L70.22 103.27 L70.97 103.27 L71.73 103.27 L72.49 103.27 L73.25 103.27 L74.01 103.26 L74.77 103.26 L75.52 103.26 L76.28 103.25 L77.04 103.25 L77.80 103.25 L78.56 103.24 L79.32 103.23 L80.08 103.22 L80.83 103.21 L81.59 103.19 L82.35 103.16 L83.11 103.12 L83.87 103.07 L84.63 103.01 L85.38 102.93 L86.14 102.83 L86.90 102.73 L87.66 102.62 L88.42 102.51 L89.18 102.40 L89.94 102.31 L90.69 102.24 L91.45 102.20 L92.21 102.19 L92.97 102.21 L93.73 102.26 L94.49 102.33 L95.24 102.42 L96.00 102.51 L96.76 102.61 L97.52 102.69 L98.28 102.77 L99.04 102.83 L99.80 102.88 L100.55 102.91 L101.31 102.93 L102.07 102.94 L102.83 102.94 L103.59 102.94 L104.35 102.93 L105.10 102.92 L105.86 102.91 L106.62 102.89 L107.38 102.87 L108.14 102.86 L108.90 102.84 L109.66 102.82 L110.41 102.80 L111.17 102.78 L111.93 102.76 L112.69 102.74 L113.45 102.72 L114.21 102.70 L114.96 102.68 L115.72 102.66 L116.48 102.64 L117.24 102.61 L118.00 102.59 L118.76 102.57 L119.52 102.54 L120.27 102.51 L121.03 102.49 L121.79 102.46 L122.55 102.42 L123.31 102.39 L124.07 102.35 L124.82 102.31 L125.58 102.26 L126.34 102.21 L127.10 102.15 L127.86 102.09 L128.62 102.01 L129.38 101.93 L130.13 101.83 L130.89 101.72 L131.65 101.59 L132.41 101.45 L133.17 101.28 L133.93 101.10 L134.68 100.90 L135.44 100.68 L136.20 100.43 L136.96 100.16 L137.72 99.86 L138.48 99.54 L139.24 99.20 L139.99 98.84 L140.75 98.46 L141.51 98.07 L142.27 97.67 L143.03 97.25 L143.79 96.84 L144.54 96.43 L145.30 96.03 L146.06 95.65 L146.82 95.29 L147.58 94.95 L148.34 94.65 L149.10 94.39 L149.85 94.17 L150.61 94.00 L151.37 93.88 L152.13 93.81 L152.89 93.80 L153.65 93.87 L154.40 94.02 L155.16 94.25 L155.92 94.55 L156.68 94.92 L157.44 95.34 L158.20 95.80 L158.96 96.31 L159.71 96.83 L160.47 97.37 L161.23 97.91 L161.99 98.45 L162.75 98.97 L163.51 99.47 L164.26 99.94 L165.02 100.38 L165.78 100.79 L166.54 101.15 L167.30 101.48 L168.06 101.78 L168.82 102.03 L169.57 102.26 L170.33 102.45 L171.09 102.61 L171.85 102.75 L172.61 102.86 L173.37 102.95 L174.12 103.03 L174.88 103.09 L175.64 103.14 L176.40 103.18 L177.16 103.21 L177.92 103.23 L178.68 103.25 L179.43 103.26 L180.19 103.27 L180.95 103.28 L181.71 103.29 L182.47 103.29 L183.23 103.29 L183.98 103.30 L184.74 103.30 L185.50 103.30 L186.26 103.30 L187.02 103.30 L187.78 103.30 L188.54 103.30 L189.29 103.30 L190.05 103.30 L190.81 103.30 L191.57 103.30 L192.33 103.30 L193.09 103.30 L193.84 103.30 L194.60 103.30 L195.36 103.30 L196.12 103.30 L196.88 103.30 L197.64 103.30 L198.40 103.30 L199.15 103.30 L199.91 103.30 L200.67 103.30 L201.43 103.30 L202.19 103.30 L202.95 103.30 L203.70 103.30 L204.46 103.30 L205.22 103.30 L205.98 103.30 L206.74 103.30 L207.50 103.30 L208.26 103.30 L209.01 103.30 L209.77 103.30 L210.53 103.30 L211.29 103.30 L212.05 103.30 L212.81 103.30 L213.56 103.30 L214.32 103.30 L215.08 103.30 L215.84 103.30 L216.60 103.30 L217.36 103.30 L218.12 103.30 L218.87 103.30 L219.63 103.30 L220.39 103.30 L221.15 103.30 L221.91 103.30 L222.67 103.30 L223.42 103.30 L224.18 103.30 L224.94 103.30 L225.70 103.30 L225.70 103.30" fill="none" stroke="#3f9a55" stroke-width="1.0" stroke-dasharray="0.9 0.8"/>
<line x1="136.40" y1="0.00" x2="136.40" y2="103.30" stroke="#333" stroke-width="0.6" stroke-dasharray="2 1.6"/>
<line x1="28.50" y1="103.30" x2="28.50" y2="105.50" stroke="#333" stroke-width="0.45" />
<line x1="38.81" y1="103.30" x2="38.81" y2="104.50" stroke="#3f9a55" stroke-width="0.45" />
<line x1="44.84" y1="103.30" x2="44.84" y2="104.50" stroke="#3f9a55" stroke-width="0.45" />
<line x1="49.12" y1="103.30" x2="49.12" y2="104.50" stroke="#3f9a55" stroke-width="0.45" />
<line x1="52.44" y1="103.30" x2="52.44" y2="104.50" stroke="#3f9a55" stroke-width="0.45" />
<line x1="55.15" y1="103.30" x2="55.15" y2="104.50" stroke="#3f9a55" stroke-width="0.45" />
<line x1="57.44" y1="103.30" x2="57.44" y2="104.50" stroke="#3f9a55" stroke-width="0.45" />
<line x1="59.43" y1="103.30" x2="59.43" y2="104.50" stroke="#3f9a55" stroke-width="0.45" />
<line x1="61.18" y1="103.30" x2="61.18" y2="104.50" stroke="#3f9a55" stroke-width="0.45" />
<line x1="62.75" y1="103.30" x2="62.75" y2="105.50" stroke="#333" stroke-width="0.45" />
<line x1="73.06" y1="103.30" x2="73.06" y2="104.50" stroke="#3f9a55" stroke-width="0.45" />
<line x1="79.09" y1="103.30" x2="79.09" y2="104.50" stroke="#3f9a55" stroke-width="0.45" />
<line x1="83.37" y1="103.30" x2="83.37" y2="104.50" stroke="#3f9a55" stroke-width="0.45" />
<line x1="86.69" y1="103.30" x2="86.69" y2="104.50" stroke="#3f9a55" stroke-width="0.45" />
<line x1="89.40" y1="103.30" x2="89.40" y2="104.50" stroke="#3f9a55" stroke-width="0.45" />
<line x1="91.69" y1="103.30" x2="91.69" y2="104.50" stroke="#3f9a55" stroke-width="0.45" />
<line x1="93.68" y1="103.30" x2="93.68" y2="104.50" stroke="#3f9a55" stroke-width="0.45" />
<line x1="95.43" y1="103.30" x2="95.43" y2="104.50" stroke="#3f9a55" stroke-width="0.45" />
<line x1="97.00" y1="103.30" x2="97.00" y2="105.50" stroke="#333" stroke-width="0.45" />
<line x1="107.31" y1="103.30" x2="107.31" y2="104.50" stroke="#3f9a55" stroke-width="0.45" />
<line x1="113.34" y1="103.30" x2="113.34" y2="104.50" stroke="#3f9a55" stroke-width="0.45" />
<line x1="117.62" y1="103.30" x2="117.62" y2="104.50" stroke="#3f9a55" stroke-width="0.45" />
<line x1="120.94" y1="103.30" x2="120.94" y2="104.50" stroke="#3f9a55" stroke-width="0.45" />
<line x1="123.65" y1="103.30" x2="123.65" y2="104.50" stroke="#3f9a55" stroke-width="0.45" />
<line x1="125.94" y1="103.30" x2="125.94" y2="104.50" stroke="#3f9a55" stroke-width="0.45" />
<line x1="127.93" y1="103.30" x2="127.93" y2="104.50" stroke="#3f9a55" stroke-width="0.45" />
<line x1="129.68" y1="103.30" x2="129.68" y2="104.50" stroke="#3f9a55" stroke-width="0.45" />
<line x1="131.25" y1="103.30" x2="131.25" y2="105.50" stroke="#333" stroke-width="0.45" />
<line x1="141.56" y1="103.30" x2="141.56" y2="104.50" stroke="#3f9a55" stroke-width="0.45" />
<line x1="147.59" y1="103.30" x2="147.59" y2="104.50" stroke="#3f9a55" stroke-width="0.45" />
<line x1="151.87" y1="103.30" x2="151.87" y2="104.50" stroke="#3f9a55" stroke-width="0.45" />
<line x1="155.19" y1="103.30" x2="155.19" y2="104.50" stroke="#3f9a55" stroke-width="0.45" />
<line x1="157.90" y1="103.30" x2="157.90" y2="104.50" stroke="#3f9a55" stroke-width="0.45" />
<line x1="160.19" y1="103.30" x2="160.19" y2="104.50" stroke="#3f9a55" stroke-width="0.45" />
<line x1="162.18" y1="103.30" x2="162.18" y2="104.50" stroke="#3f9a55" stroke-width="0.45" />
<line x1="163.93" y1="103.30" x2="163.93" y2="104.50" stroke="#3f9a55" stroke-width="0.45" />
<line x1="165.50" y1="103.30" x2="165.50" y2="105.50" stroke="#333" stroke-width="0.45" />
<line x1="175.81" y1="103.30" x2="175.81" y2="104.50" stroke="#3f9a55" stroke-width="0.45" />
<line x1="181.84" y1="103.30" x2="181.84" y2="104.50" stroke="#3f9a55" stroke-width="0.45" />
<line x1="186.12" y1="103.30" x2="186.12" y2="104.50" stroke="#3f9a55" stroke-width="0.45" />
<line x1="189.44" y1="103.30" x2="189.44" y2="104.50" stroke="#3f9a55" stroke-width="0.45" />
<line x1="192.15" y1="103.30" x2="192.15" y2="104.50" stroke="#3f9a55" stroke-width="0.45" />
<line x1="194.44" y1="103.30" x2="194.44" y2="104.50" stroke="#3f9a55" stroke-width="0.45" />
<line x1="196.43" y1="103.30" x2="196.43" y2="104.50" stroke="#3f9a55" stroke-width="0.45" />
<line x1="198.18" y1="103.30" x2="198.18" y2="104.50" stroke="#3f9a55" stroke-width="0.45" />
<line x1="199.75" y1="103.30" x2="199.75" y2="105.50" stroke="#333" stroke-width="0.45" />
<line x1="210.06" y1="103.30" x2="210.06" y2="104.50" stroke="#3f9a55" stroke-width="0.45" />
<line x1="216.09" y1="103.30" x2="216.09" y2="104.50" stroke="#3f9a55" stroke-width="0.45" />
<line x1="220.37" y1="103.30" x2="220.37" y2="104.50" stroke="#3f9a55" stroke-width="0.45" />
<line x1="223.69" y1="103.30" x2="223.69" y2="104.50" stroke="#3f9a55" stroke-width="0.45" />
<text x="29.10" y="112.20" font-size="5.8" text-anchor="middle" fill="#1a1a1a" stroke="#1a1a1a" stroke-width="0.14" >1E2</text>
<text x="63.35" y="112.20" font-size="5.8" text-anchor="middle" fill="#1a1a1a" stroke="#1a1a1a" stroke-width="0.14" >1E3</text>
<text x="97.60" y="112.20" font-size="5.8" text-anchor="middle" fill="#1a1a1a" stroke="#1a1a1a" stroke-width="0.14" >1E4</text>
<text x="131.85" y="112.20" font-size="5.8" text-anchor="middle" fill="#1a1a1a" stroke="#1a1a1a" stroke-width="0.14" >1E5</text>
<text x="166.10" y="112.20" font-size="5.8" text-anchor="middle" fill="#1a1a1a" stroke="#1a1a1a" stroke-width="0.14" >1E6</text>
<text x="200.35" y="112.20" font-size="5.8" text-anchor="middle" fill="#1a1a1a" stroke="#1a1a1a" stroke-width="0.14" >1E7</text>
<text x="131.80" y="121.60" font-size="6" text-anchor="middle" fill="#1a1a1a" stroke="#1a1a1a" stroke-width="0.14" >AP-FITC</text>
<rect x="13.30" y="128.40" width="5.80" height="5.20" fill="#4d4d4d" />
<text x="20.90" y="133.20" font-size="5.6" fill="#1a1a1a" stroke="#1a1a1a" stroke-width="0.14" >WT+Vehicle</text>
<rect x="54.00" y="128.40" width="5.80" height="5.20" fill="#a8a8a8" />
<text x="61.60" y="133.20" font-size="5.6" fill="#1a1a1a" stroke="#1a1a1a" stroke-width="0.14" >WT+MEKi</text>
<rect x="91.00" y="128.40" width="5.80" height="5.20" fill="#c26a5e" />
<text x="98.60" y="133.20" font-size="5.6" fill="#1a1a1a" stroke="#1a1a1a" stroke-width="0.14" >1-5+Vehicle</text>
<rect x="130.90" y="128.40" width="5.80" height="5.20" fill="#fbbcbb" />
<text x="138.50" y="133.20" font-size="5.6" fill="#1a1a1a" stroke="#1a1a1a" stroke-width="0.14" >1-5+MEKi</text>
<rect x="166.00" y="128.40" width="5.80" height="5.20" fill="#4f8d5c" />
<text x="173.60" y="133.20" font-size="5.6" fill="#1a1a1a" stroke="#1a1a1a" stroke-width="0.14" >1-10+Vehicle</text>
<rect x="209.20" y="128.40" width="5.80" height="5.20" fill="#85c98c" />
<text x="216.80" y="133.20" font-size="5.6" fill="#1a1a1a" stroke="#1a1a1a" stroke-width="0.14" >1-10+MEKi</text>
<line x1="283.50" y1="9.20" x2="283.50" y2="103.55" stroke="#333" stroke-width="1.0" />
<line x1="283.00" y1="103.10" x2="391.50" y2="103.10" stroke="#333" stroke-width="1.0" />
<line x1="280.20" y1="99.00" x2="283.10" y2="99.00" stroke="#777" stroke-width="1.0" />
<text x="279.10" y="101.00" font-size="5.7" text-anchor="end" fill="#1a1a1a" stroke="#1a1a1a" stroke-width="0.14" >50</text>
<line x1="280.20" y1="81.87" x2="283.10" y2="81.87" stroke="#777" stroke-width="1.0" />
<text x="279.10" y="83.87" font-size="5.7" text-anchor="end" fill="#1a1a1a" stroke="#1a1a1a" stroke-width="0.14" >60</text>
<line x1="280.20" y1="64.74" x2="283.10" y2="64.74" stroke="#777" stroke-width="1.0" />
<text x="279.10" y="66.74" font-size="5.7" text-anchor="end" fill="#1a1a1a" stroke="#1a1a1a" stroke-width="0.14" >70</text>
<line x1="280.20" y1="47.61" x2="283.10" y2="47.61" stroke="#777" stroke-width="1.0" />
<text x="279.10" y="49.61" font-size="5.7" text-anchor="end" fill="#1a1a1a" stroke="#1a1a1a" stroke-width="0.14" >80</text>
<line x1="280.20" y1="30.48" x2="283.10" y2="30.48" stroke="#777" stroke-width="1.0" />
<text x="279.10" y="32.48" font-size="5.7" text-anchor="end" fill="#1a1a1a" stroke="#1a1a1a" stroke-width="0.14" >90</text>
<line x1="280.20" y1="13.35" x2="283.10" y2="13.35" stroke="#777" stroke-width="1.0" />
<text x="279.10" y="15.35" font-size="5.7" text-anchor="end" fill="#1a1a1a" stroke="#1a1a1a" stroke-width="0.14" >100</text>
<text x="263.20" y="57.00" font-size="6" text-anchor="middle" transform="rotate(-90 263.20 57.00)" fill="#1a1a1a" stroke="#1a1a1a" stroke-width="0.14" >Cell population (%)</text>
<rect x="288.80" y="51.55" width="10.40" height="51.25" fill="#4d4d4d" />
<line x1="294.00" y1="47.61" x2="294.00" y2="51.55" stroke="#111" stroke-width="0.6" />
<line x1="291.40" y1="47.61" x2="296.60" y2="47.61" stroke="#111" stroke-width="0.7" />
<circle cx="294.90" cy="43.67" r="1.30" fill="#111" />
<circle cx="293.40" cy="53.61" r="1.30" fill="#111" />
<circle cx="293.10" cy="55.32" r="1.30" fill="#111" />
<text x="298.60" y="108.30" font-size="5.6" text-anchor="end" transform="rotate(-45 298.60 108.30)" fill="#1a1a1a" stroke="#1a1a1a" stroke-width="0.14" >WT+Vehicle</text>
<rect x="306.25" y="74.33" width="10.40" height="28.47" fill="#a6a6a6" />
<line x1="311.45" y1="67.65" x2="311.45" y2="74.33" stroke="#a6a6a6" stroke-width="0.6" />
<line x1="308.85" y1="67.65" x2="314.05" y2="67.65" stroke="#a6a6a6" stroke-width="0.7" />
<circle cx="312.35" cy="62.00" r="1.30" fill="#8c8c8c" />
<circle cx="310.85" cy="75.87" r="1.30" fill="#8c8c8c" />
<circle cx="310.55" cy="83.24" r="1.30" fill="#8c8c8c" />
<text x="316.05" y="108.30" font-size="5.6" text-anchor="end" transform="rotate(-45 316.05 108.30)" fill="#1a1a1a" stroke="#1a1a1a" stroke-width="0.14" >WT+MEKi</text>
<rect x="323.70" y="36.82" width="10.40" height="65.98" fill="#b96a5c" />
<line x1="328.90" y1="35.96" x2="328.90" y2="36.82" stroke="#8a2a25" stroke-width="0.6" />
<line x1="326.30" y1="35.96" x2="331.50" y2="35.96" stroke="#8a2a25" stroke-width="0.7" />
<circle cx="329.80" cy="36.30" r="1.30" fill="#8a2a25" />
<circle cx="328.30" cy="36.99" r="1.30" fill="#8a2a25" />
<circle cx="328.00" cy="37.50" r="1.30" fill="#8a2a25" />
<text x="333.50" y="108.30" font-size="5.6" text-anchor="end" transform="rotate(-45 333.50 108.30)" fill="#1a1a1a" stroke="#1a1a1a" stroke-width="0.14" >1-5+Vehicle</text>
<rect x="341.15" y="51.21" width="10.40" height="51.59" fill="#fdb5b2" />
<line x1="346.35" y1="46.41" x2="346.35" y2="51.21" stroke="#fdb5b2" stroke-width="0.6" />
<line x1="343.75" y1="46.41" x2="348.95" y2="46.41" stroke="#fdb5b2" stroke-width="0.7" />
<circle cx="347.25" cy="46.41" r="1.30" fill="#fa9a98" />
<circle cx="345.75" cy="47.27" r="1.30" fill="#fa9a98" />
<circle cx="345.45" cy="59.94" r="1.30" fill="#fa9a98" />
<text x="350.95" y="108.30" font-size="5.6" text-anchor="end" transform="rotate(-45 350.95 108.30)" fill="#1a1a1a" stroke="#1a1a1a" stroke-width="0.14" >1-5+MEKi</text>
<rect x="358.60" y="41.27" width="10.40" height="61.53" fill="#5c9664" />
<line x1="363.80" y1="35.62" x2="363.80" y2="41.27" stroke="#1f7a3a" stroke-width="0.6" />
<line x1="361.20" y1="35.62" x2="366.40" y2="35.62" stroke="#1f7a3a" stroke-width="0.7" />
<circle cx="364.70" cy="33.56" r="1.30" fill="#1f7a3a" />
<circle cx="363.20" cy="38.36" r="1.30" fill="#1f7a3a" />
<circle cx="362.90" cy="51.72" r="1.30" fill="#1f7a3a" />
<text x="368.40" y="108.30" font-size="5.6" text-anchor="end" transform="rotate(-45 368.40 108.30)" fill="#1a1a1a" stroke="#1a1a1a" stroke-width="0.14" >1-10+Vehicle</text>
<rect x="376.05" y="51.89" width="10.40" height="50.91" fill="#86c88e" />
<line x1="381.25" y1="49.49" x2="381.25" y2="51.89" stroke="#86c88e" stroke-width="0.6" />
<line x1="378.65" y1="49.49" x2="383.85" y2="49.49" stroke="#86c88e" stroke-width="0.7" />
<circle cx="382.15" cy="47.95" r="1.30" fill="#4cae62" />
<circle cx="380.65" cy="52.41" r="1.30" fill="#4cae62" />
<circle cx="380.35" cy="53.78" r="1.30" fill="#4cae62" />
<text x="385.85" y="108.30" font-size="5.6" text-anchor="end" transform="rotate(-45 385.85 108.30)" fill="#1a1a1a" stroke="#1a1a1a" stroke-width="0.14" >1-10+MEKi</text>
<line x1="311.00" y1="18.00" x2="381.00" y2="18.00" stroke="#a8323a" stroke-width="1.1" />
<text x="348.60" y="17.60" font-size="7.5" text-anchor="middle" fill="#a8323a" stroke="#a8323a" stroke-width="0.15" >*</text>
<line x1="311.00" y1="27.50" x2="346.00" y2="27.50" stroke="#a8323a" stroke-width="1.1" />
<text x="329.20" y="27.10" font-size="7.5" text-anchor="middle" fill="#a8323a" stroke="#a8323a" stroke-width="0.15" >*</text>
<text x="433.20" y="11.90" font-size="13.3" font-weight="bold" fill="#111" >d</text>
<line x1="472.10" y1="22.60" x2="472.10" y2="124.40" stroke="#8c8c8c" stroke-width="1.6" />
<line x1="469.00" y1="124.30" x2="650.00" y2="124.30" stroke="#2a2a2a" stroke-width="1.05" />
<line x1="469.40" y1="22.90" x2="472.10" y2="22.90" stroke="#555" stroke-width="0.8" />
<line x1="469.40" y1="73.00" x2="472.10" y2="73.00" stroke="#555" stroke-width="0.8" />
<text x="469.80" y="24.70" font-size="5" text-anchor="end">10<tspan font-size="3" dy="-2">6</tspan></text>
<text x="469.80" y="74.80" font-size="5" text-anchor="end">10<tspan font-size="3" dy="-2">5</tspan></text>
<text x="469.80" y="125.80" font-size="5" text-anchor="end">10<tspan font-size="3" dy="-2">4</tspan></text>
<text x="454.00" y="79.00" font-size="5.8" text-anchor="middle" transform="rotate(-90 454.00 79.00)" fill="#1a1a1a" stroke="#1a1a1a" stroke-width="0.14" >EB size (μm²)</text>
<rect x="467.20" y="3.60" width="8.40" height="4.20" fill="#3b3b3b" />
<text x="480.20" y="8.00" font-size="6.2" fill="#1a1a1a" stroke="#1a1a1a" stroke-width="0.14" >WT derived EBs</text>
<rect x="534.20" y="3.60" width="8.40" height="4.20" fill="#fca65c" />
<text x="547.20" y="8.00" font-size="6.2" fill="#1a1a1a" stroke="#1a1a1a" stroke-width="0.14" >1-5 derived EBs</text>
<rect x="599.20" y="3.60" width="8.40" height="4.20" fill="#fbd089" />
<text x="612.20" y="8.00" font-size="6.2" fill="#1a1a1a" stroke="#1a1a1a" stroke-width="0.14" >1-10 derived EBs</text>
<rect x="475.10" y="62.30" width="6.50" height="61.40" fill="#3b3b3b" />
<circle cx="477.73" cy="61.98" r="0.55" fill="#111" opacity="0.9"/>
<circle cx="478.85" cy="65.45" r="0.55" fill="#111" opacity="0.9"/>
<circle cx="476.01" cy="60.92" r="0.55" fill="#111" opacity="0.9"/>
<circle cx="479.97" cy="60.92" r="0.55" fill="#111" opacity="0.9"/>
<circle cx="480.73" cy="61.57" r="0.55" fill="#111" opacity="0.9"/>
<circle cx="478.21" cy="63.89" r="0.55" fill="#111" opacity="0.9"/>
<circle cx="479.02" cy="63.46" r="0.55" fill="#111" opacity="0.9"/>
<circle cx="476.67" cy="58.78" r="0.55" fill="#111" opacity="0.9"/>
<circle cx="478.46" cy="57.70" r="0.55" fill="#111" opacity="0.9"/>
<circle cx="479.51" cy="57.17" r="0.55" fill="#111" opacity="0.9"/>
<circle cx="479.59" cy="61.18" r="0.55" fill="#111" opacity="0.9"/>
<circle cx="478.79" cy="60.74" r="0.55" fill="#111" opacity="0.9"/>
<circle cx="480.10" cy="61.46" r="0.55" fill="#111" opacity="0.9"/>
<circle cx="478.22" cy="62.41" r="0.55" fill="#111" opacity="0.9"/>
<circle cx="479.38" cy="60.50" r="0.55" fill="#111" opacity="0.9"/>
<circle cx="480.37" cy="55.65" r="0.55" fill="#111" opacity="0.9"/>
<line x1="476.30" y1="62.30" x2="480.40" y2="62.30" stroke="#111" stroke-width="0.5" />
<rect x="485.05" y="69.50" width="6.50" height="54.20" fill="#fca65c" />
<circle cx="488.03" cy="64.64" r="0.55" fill="#f08a2c" opacity="0.9"/>
<circle cx="490.39" cy="72.20" r="0.55" fill="#f08a2c" opacity="0.9"/>
<circle cx="486.55" cy="69.88" r="0.55" fill="#f08a2c" opacity="0.9"/>
<circle cx="486.94" cy="67.96" r="0.55" fill="#f08a2c" opacity="0.9"/>
<circle cx="488.91" cy="72.04" r="0.55" fill="#f08a2c" opacity="0.9"/>
<circle cx="487.34" cy="68.21" r="0.55" fill="#f08a2c" opacity="0.9"/>
<circle cx="487.58" cy="65.94" r="0.55" fill="#f08a2c" opacity="0.9"/>
<circle cx="488.71" cy="68.77" r="0.55" fill="#f08a2c" opacity="0.9"/>
<circle cx="489.17" cy="63.29" r="0.55" fill="#f08a2c" opacity="0.9"/>
<circle cx="490.36" cy="65.62" r="0.55" fill="#f08a2c" opacity="0.9"/>
<circle cx="489.12" cy="74.61" r="0.55" fill="#f08a2c" opacity="0.9"/>
<circle cx="486.68" cy="61.67" r="0.55" fill="#f08a2c" opacity="0.9"/>
<circle cx="490.24" cy="73.87" r="0.55" fill="#f08a2c" opacity="0.9"/>
<circle cx="488.63" cy="62.94" r="0.55" fill="#f08a2c" opacity="0.9"/>
<circle cx="489.89" cy="68.43" r="0.55" fill="#f08a2c" opacity="0.9"/>
<circle cx="488.65" cy="66.89" r="0.55" fill="#f08a2c" opacity="0.9"/>
<line x1="486.25" y1="69.50" x2="490.35" y2="69.50" stroke="#f08a2c" stroke-width="0.5" />
<rect x="495.00" y="67.40" width="6.50" height="56.30" fill="#fbd089" />
<circle cx="499.95" cy="66.56" r="0.55" fill="#f6c877" opacity="0.9"/>
<circle cx="500.60" cy="67.86" r="0.55" fill="#f6c877" opacity="0.9"/>
<circle cx="497.82" cy="71.38" r="0.55" fill="#f6c877" opacity="0.9"/>
<circle cx="496.57" cy="69.64" r="0.55" fill="#f6c877" opacity="0.9"/>
<circle cx="500.04" cy="65.40" r="0.55" fill="#f6c877" opacity="0.9"/>
<circle cx="496.06" cy="71.74" r="0.55" fill="#f6c877" opacity="0.9"/>
<circle cx="499.30" cy="66.12" r="0.55" fill="#f6c877" opacity="0.9"/>
<circle cx="497.44" cy="66.20" r="0.55" fill="#f6c877" opacity="0.9"/>
<circle cx="498.28" cy="72.98" r="0.55" fill="#f6c877" opacity="0.9"/>
<circle cx="500.64" cy="61.07" r="0.55" fill="#f6c877" opacity="0.9"/>
<circle cx="498.73" cy="66.36" r="0.55" fill="#f6c877" opacity="0.9"/>
<circle cx="496.00" cy="67.92" r="0.55" fill="#f6c877" opacity="0.9"/>
<circle cx="498.78" cy="67.80" r="0.55" fill="#f6c877" opacity="0.9"/>
<circle cx="496.60" cy="69.71" r="0.55" fill="#f6c877" opacity="0.9"/>
<circle cx="497.36" cy="72.62" r="0.55" fill="#f6c877" opacity="0.9"/>
<circle cx="500.45" cy="68.39" r="0.55" fill="#f6c877" opacity="0.9"/>
<line x1="496.20" y1="67.40" x2="500.30" y2="67.40" stroke="#f6c877" stroke-width="0.5" />
<text x="490.90" y="131.60" font-size="5.8" text-anchor="middle" fill="#1a1a1a" stroke="#1a1a1a" stroke-width="0.14" >Day  2</text>
<rect x="510.40" y="56.20" width="6.50" height="67.50" fill="#3b3b3b" />
<circle cx="513.46" cy="57.93" r="0.55" fill="#111" opacity="0.9"/>
<circle cx="513.75" cy="53.83" r="0.55" fill="#111" opacity="0.9"/>
<circle cx="513.93" cy="53.10" r="0.55" fill="#111" opacity="0.9"/>
<circle cx="514.23" cy="52.43" r="0.55" fill="#111" opacity="0.9"/>
<circle cx="513.32" cy="58.92" r="0.55" fill="#111" opacity="0.9"/>
<circle cx="514.71" cy="54.30" r="0.55" fill="#111" opacity="0.9"/>
<circle cx="515.94" cy="55.80" r="0.55" fill="#111" opacity="0.9"/>
<circle cx="513.75" cy="58.13" r="0.55" fill="#111" opacity="0.9"/>
<circle cx="513.24" cy="55.17" r="0.55" fill="#111" opacity="0.9"/>
<circle cx="514.03" cy="55.46" r="0.55" fill="#111" opacity="0.9"/>
<circle cx="514.28" cy="59.72" r="0.55" fill="#111" opacity="0.9"/>
<circle cx="511.54" cy="56.12" r="0.55" fill="#111" opacity="0.9"/>
<circle cx="514.51" cy="53.26" r="0.55" fill="#111" opacity="0.9"/>
<circle cx="512.94" cy="53.19" r="0.55" fill="#111" opacity="0.9"/>
<circle cx="511.36" cy="54.29" r="0.55" fill="#111" opacity="0.9"/>
<circle cx="511.54" cy="50.87" r="0.55" fill="#111" opacity="0.9"/>
<line x1="511.60" y1="56.20" x2="515.70" y2="56.20" stroke="#111" stroke-width="0.5" />
<rect x="520.35" y="69.00" width="6.50" height="54.70" fill="#fca65c" />
<circle cx="522.41" cy="64.94" r="0.55" fill="#f08a2c" opacity="0.9"/>
<circle cx="523.39" cy="61.51" r="0.55" fill="#f08a2c" opacity="0.9"/>
<circle cx="522.95" cy="66.20" r="0.55" fill="#f08a2c" opacity="0.9"/>
<circle cx="522.70" cy="66.95" r="0.55" fill="#f08a2c" opacity="0.9"/>
<circle cx="522.64" cy="65.65" r="0.55" fill="#f08a2c" opacity="0.9"/>
<circle cx="523.01" cy="71.36" r="0.55" fill="#f08a2c" opacity="0.9"/>
<circle cx="523.93" cy="68.50" r="0.55" fill="#f08a2c" opacity="0.9"/>
<circle cx="524.73" cy="67.71" r="0.55" fill="#f08a2c" opacity="0.9"/>
<circle cx="525.06" cy="67.62" r="0.55" fill="#f08a2c" opacity="0.9"/>
<circle cx="522.35" cy="70.38" r="0.55" fill="#f08a2c" opacity="0.9"/>
<circle cx="524.55" cy="69.63" r="0.55" fill="#f08a2c" opacity="0.9"/>
<circle cx="521.69" cy="71.36" r="0.55" fill="#f08a2c" opacity="0.9"/>
<circle cx="525.20" cy="67.22" r="0.55" fill="#f08a2c" opacity="0.9"/>
<circle cx="523.30" cy="70.83" r="0.55" fill="#f08a2c" opacity="0.9"/>
<circle cx="522.82" cy="69.52" r="0.55" fill="#f08a2c" opacity="0.9"/>
<circle cx="524.32" cy="66.96" r="0.55" fill="#f08a2c" opacity="0.9"/>
<line x1="521.55" y1="69.00" x2="525.65" y2="69.00" stroke="#f08a2c" stroke-width="0.5" />
<rect x="530.30" y="61.30" width="6.50" height="62.40" fill="#fbd089" />
<circle cx="532.23" cy="63.16" r="0.55" fill="#f6c877" opacity="0.9"/>
<circle cx="531.73" cy="58.53" r="0.55" fill="#f6c877" opacity="0.9"/>
<circle cx="535.02" cy="58.78" r="0.55" fill="#f6c877" opacity="0.9"/>
<circle cx="535.17" cy="60.34" r="0.55" fill="#f6c877" opacity="0.9"/>
<circle cx="535.02" cy="61.68" r="0.55" fill="#f6c877" opacity="0.9"/>
<circle cx="534.23" cy="62.92" r="0.55" fill="#f6c877" opacity="0.9"/>
<circle cx="531.77" cy="61.66" r="0.55" fill="#f6c877" opacity="0.9"/>
<circle cx="532.55" cy="58.11" r="0.55" fill="#f6c877" opacity="0.9"/>
<circle cx="532.81" cy="61.35" r="0.55" fill="#f6c877" opacity="0.9"/>
<circle cx="533.15" cy="58.40" r="0.55" fill="#f6c877" opacity="0.9"/>
<circle cx="535.57" cy="58.00" r="0.55" fill="#f6c877" opacity="0.9"/>
<circle cx="531.90" cy="62.19" r="0.55" fill="#f6c877" opacity="0.9"/>
<circle cx="535.37" cy="67.88" r="0.55" fill="#f6c877" opacity="0.9"/>
<circle cx="535.89" cy="60.91" r="0.55" fill="#f6c877" opacity="0.9"/>
<circle cx="535.60" cy="53.97" r="0.55" fill="#f6c877" opacity="0.9"/>
<circle cx="532.22" cy="63.65" r="0.55" fill="#f6c877" opacity="0.9"/>
<line x1="531.50" y1="61.30" x2="535.60" y2="61.30" stroke="#f6c877" stroke-width="0.5" />
<text x="526.20" y="131.60" font-size="5.8" text-anchor="middle" fill="#1a1a1a" stroke="#1a1a1a" stroke-width="0.14" >Day  3</text>
<rect x="545.90" y="50.00" width="6.50" height="73.70" fill="#3b3b3b" />
<circle cx="549.93" cy="49.29" r="0.55" fill="#111" opacity="0.9"/>
<circle cx="549.24" cy="45.59" r="0.55" fill="#111" opacity="0.9"/>
<circle cx="547.84" cy="48.96" r="0.55" fill="#111" opacity="0.9"/>
<circle cx="547.08" cy="51.17" r="0.55" fill="#111" opacity="0.9"/>
<circle cx="550.64" cy="48.00" r="0.55" fill="#111" opacity="0.9"/>
<circle cx="546.97" cy="48.53" r="0.55" fill="#111" opacity="0.9"/>
<circle cx="551.18" cy="51.93" r="0.55" fill="#111" opacity="0.9"/>
<circle cx="551.05" cy="47.65" r="0.55" fill="#111" opacity="0.9"/>
<circle cx="546.81" cy="51.52" r="0.55" fill="#111" opacity="0.9"/>
<circle cx="550.33" cy="47.85" r="0.55" fill="#111" opacity="0.9"/>
<circle cx="549.93" cy="50.20" r="0.55" fill="#111" opacity="0.9"/>
<circle cx="549.27" cy="50.89" r="0.55" fill="#111" opacity="0.9"/>
<circle cx="549.69" cy="45.35" r="0.55" fill="#111" opacity="0.9"/>
<circle cx="548.39" cy="51.84" r="0.55" fill="#111" opacity="0.9"/>
<circle cx="549.04" cy="49.34" r="0.55" fill="#111" opacity="0.9"/>
<circle cx="550.51" cy="53.38" r="0.55" fill="#111" opacity="0.9"/>
<line x1="547.10" y1="50.00" x2="551.20" y2="50.00" stroke="#111" stroke-width="0.5" />
<rect x="555.85" y="63.00" width="6.50" height="60.70" fill="#fca65c" />
<circle cx="559.27" cy="61.61" r="0.55" fill="#f08a2c" opacity="0.9"/>
<circle cx="560.62" cy="63.46" r="0.55" fill="#f08a2c" opacity="0.9"/>
<circle cx="561.12" cy="64.08" r="0.55" fill="#f08a2c" opacity="0.9"/>
<circle cx="560.57" cy="65.52" r="0.55" fill="#f08a2c" opacity="0.9"/>
<circle cx="559.72" cy="62.51" r="0.55" fill="#f08a2c" opacity="0.9"/>
<circle cx="560.84" cy="62.18" r="0.55" fill="#f08a2c" opacity="0.9"/>
<circle cx="557.99" cy="63.91" r="0.55" fill="#f08a2c" opacity="0.9"/>
<circle cx="559.23" cy="62.89" r="0.55" fill="#f08a2c" opacity="0.9"/>
<circle cx="560.43" cy="60.40" r="0.55" fill="#f08a2c" opacity="0.9"/>
<circle cx="556.71" cy="63.45" r="0.55" fill="#f08a2c" opacity="0.9"/>
<circle cx="557.30" cy="63.38" r="0.55" fill="#f08a2c" opacity="0.9"/>
<circle cx="557.03" cy="62.75" r="0.55" fill="#f08a2c" opacity="0.9"/>
<circle cx="557.11" cy="66.28" r="0.55" fill="#f08a2c" opacity="0.9"/>
<circle cx="559.11" cy="61.78" r="0.55" fill="#f08a2c" opacity="0.9"/>
<circle cx="558.39" cy="61.70" r="0.55" fill="#f08a2c" opacity="0.9"/>
<circle cx="559.81" cy="63.99" r="0.55" fill="#f08a2c" opacity="0.9"/>
<line x1="557.05" y1="63.00" x2="561.15" y2="63.00" stroke="#f08a2c" stroke-width="0.5" />
<rect x="565.80" y="55.20" width="6.50" height="68.50" fill="#fbd089" />
<circle cx="567.57" cy="52.98" r="0.55" fill="#f6c877" opacity="0.9"/>
<circle cx="568.23" cy="53.62" r="0.55" fill="#f6c877" opacity="0.9"/>
<circle cx="570.09" cy="56.41" r="0.55" fill="#f6c877" opacity="0.9"/>
<circle cx="568.48" cy="56.39" r="0.55" fill="#f6c877" opacity="0.9"/>
<circle cx="568.44" cy="55.70" r="0.55" fill="#f6c877" opacity="0.9"/>
<circle cx="569.55" cy="55.20" r="0.55" fill="#f6c877" opacity="0.9"/>
<circle cx="570.50" cy="55.00" r="0.55" fill="#f6c877" opacity="0.9"/>
<circle cx="569.64" cy="52.68" r="0.55" fill="#f6c877" opacity="0.9"/>
<circle cx="569.03" cy="52.85" r="0.55" fill="#f6c877" opacity="0.9"/>
<circle cx="570.02" cy="55.40" r="0.55" fill="#f6c877" opacity="0.9"/>
<circle cx="568.86" cy="51.90" r="0.55" fill="#f6c877" opacity="0.9"/>
<circle cx="567.83" cy="56.07" r="0.55" fill="#f6c877" opacity="0.9"/>
<circle cx="566.99" cy="51.59" r="0.55" fill="#f6c877" opacity="0.9"/>
<circle cx="568.69" cy="53.91" r="0.55" fill="#f6c877" opacity="0.9"/>
<circle cx="571.15" cy="50.92" r="0.55" fill="#f6c877" opacity="0.9"/>
<circle cx="568.45" cy="56.45" r="0.55" fill="#f6c877" opacity="0.9"/>
<line x1="567.00" y1="55.20" x2="571.10" y2="55.20" stroke="#f6c877" stroke-width="0.5" />
<text x="561.70" y="131.60" font-size="5.8" text-anchor="middle" fill="#1a1a1a" stroke="#1a1a1a" stroke-width="0.14" >Day  5</text>
<rect x="581.10" y="42.30" width="6.50" height="81.40" fill="#3b3b3b" />
<circle cx="583.21" cy="44.53" r="0.55" fill="#111" opacity="0.9"/>
<circle cx="584.18" cy="39.58" r="0.55" fill="#111" opacity="0.9"/>
<circle cx="585.13" cy="44.32" r="0.55" fill="#111" opacity="0.9"/>
<circle cx="586.21" cy="44.26" r="0.55" fill="#111" opacity="0.9"/>
<circle cx="585.47" cy="42.48" r="0.55" fill="#111" opacity="0.9"/>
<circle cx="584.66" cy="38.84" r="0.55" fill="#111" opacity="0.9"/>
<circle cx="581.97" cy="43.82" r="0.55" fill="#111" opacity="0.9"/>
<circle cx="582.64" cy="43.31" r="0.55" fill="#111" opacity="0.9"/>
<circle cx="582.39" cy="41.79" r="0.55" fill="#111" opacity="0.9"/>
<circle cx="582.43" cy="41.10" r="0.55" fill="#111" opacity="0.9"/>
<line x1="582.30" y1="42.30" x2="586.40" y2="42.30" stroke="#111" stroke-width="0.5" />
<rect x="591.05" y="58.00" width="6.50" height="65.70" fill="#fca65c" />
<circle cx="592.01" cy="58.32" r="0.55" fill="#f08a2c" opacity="0.9"/>
<circle cx="595.94" cy="56.54" r="0.55" fill="#f08a2c" opacity="0.9"/>
<circle cx="595.13" cy="60.19" r="0.55" fill="#f08a2c" opacity="0.9"/>
<circle cx="595.91" cy="60.06" r="0.55" fill="#f08a2c" opacity="0.9"/>
<circle cx="595.73" cy="59.91" r="0.55" fill="#f08a2c" opacity="0.9"/>
<circle cx="592.07" cy="56.62" r="0.55" fill="#f08a2c" opacity="0.9"/>
<circle cx="595.33" cy="57.66" r="0.55" fill="#f08a2c" opacity="0.9"/>
<circle cx="592.41" cy="55.02" r="0.55" fill="#f08a2c" opacity="0.9"/>
<circle cx="592.19" cy="57.37" r="0.55" fill="#f08a2c" opacity="0.9"/>
<circle cx="593.46" cy="52.73" r="0.55" fill="#f08a2c" opacity="0.9"/>
<line x1="592.25" y1="58.00" x2="596.35" y2="58.00" stroke="#f08a2c" stroke-width="0.5" />
<rect x="601.00" y="47.80" width="6.50" height="75.90" fill="#fbd089" />
<circle cx="603.01" cy="43.75" r="0.55" fill="#f6c877" opacity="0.9"/>
<circle cx="602.71" cy="45.73" r="0.55" fill="#f6c877" opacity="0.9"/>
<circle cx="605.47" cy="47.20" r="0.55" fill="#f6c877" opacity="0.9"/>
<circle cx="603.74" cy="49.97" r="0.55" fill="#f6c877" opacity="0.9"/>
<circle cx="603.53" cy="45.85" r="0.55" fill="#f6c877" opacity="0.9"/>
<circle cx="603.86" cy="48.69" r="0.55" fill="#f6c877" opacity="0.9"/>
<circle cx="606.52" cy="49.24" r="0.55" fill="#f6c877" opacity="0.9"/>
<circle cx="603.83" cy="48.38" r="0.55" fill="#f6c877" opacity="0.9"/>
<circle cx="605.17" cy="47.18" r="0.55" fill="#f6c877" opacity="0.9"/>
<circle cx="605.48" cy="46.02" r="0.55" fill="#f6c877" opacity="0.9"/>
<line x1="602.20" y1="47.80" x2="606.30" y2="47.80" stroke="#f6c877" stroke-width="0.5" />
<text x="596.90" y="131.60" font-size="5.8" text-anchor="middle" fill="#1a1a1a" stroke="#1a1a1a" stroke-width="0.14" >Day  6</text>
<rect x="616.50" y="41.60" width="6.50" height="82.10" fill="#3b3b3b" />
<circle cx="619.67" cy="39.89" r="0.55" fill="#111" opacity="0.9"/>
<circle cx="620.44" cy="38.86" r="0.55" fill="#111" opacity="0.9"/>
<circle cx="617.81" cy="41.91" r="0.55" fill="#111" opacity="0.9"/>
<circle cx="620.94" cy="40.32" r="0.55" fill="#111" opacity="0.9"/>
<circle cx="619.48" cy="43.09" r="0.55" fill="#111" opacity="0.9"/>
<circle cx="620.80" cy="39.79" r="0.55" fill="#111" opacity="0.9"/>
<circle cx="618.31" cy="41.62" r="0.55" fill="#111" opacity="0.9"/>
<circle cx="620.16" cy="42.45" r="0.55" fill="#111" opacity="0.9"/>
<circle cx="620.67" cy="40.42" r="0.55" fill="#111" opacity="0.9"/>
<circle cx="621.93" cy="42.34" r="0.55" fill="#111" opacity="0.9"/>
<line x1="617.70" y1="41.60" x2="621.80" y2="41.60" stroke="#111" stroke-width="0.5" />
<rect x="626.45" y="54.70" width="6.50" height="69.00" fill="#fca65c" />
<circle cx="629.28" cy="53.21" r="0.55" fill="#f08a2c" opacity="0.9"/>
<circle cx="631.40" cy="57.10" r="0.55" fill="#f08a2c" opacity="0.9"/>
<circle cx="628.34" cy="52.74" r="0.55" fill="#f08a2c" opacity="0.9"/>
<circle cx="627.41" cy="53.30" r="0.55" fill="#f08a2c" opacity="0.9"/>
<circle cx="628.13" cy="52.15" r="0.55" fill="#f08a2c" opacity="0.9"/>
<circle cx="629.03" cy="54.35" r="0.55" fill="#f08a2c" opacity="0.9"/>
<circle cx="627.99" cy="52.59" r="0.55" fill="#f08a2c" opacity="0.9"/>
<circle cx="632.06" cy="57.20" r="0.55" fill="#f08a2c" opacity="0.9"/>
<circle cx="629.55" cy="51.42" r="0.55" fill="#f08a2c" opacity="0.9"/>
<circle cx="631.31" cy="54.45" r="0.55" fill="#f08a2c" opacity="0.9"/>
<line x1="627.65" y1="54.70" x2="631.75" y2="54.70" stroke="#f08a2c" stroke-width="0.5" />
<rect x="636.40" y="44.70" width="6.50" height="79.00" fill="#fbd089" />
<circle cx="639.56" cy="45.21" r="0.55" fill="#f6c877" opacity="0.9"/>
<circle cx="640.71" cy="41.80" r="0.55" fill="#f6c877" opacity="0.9"/>
<circle cx="640.77" cy="45.36" r="0.55" fill="#f6c877" opacity="0.9"/>
<circle cx="641.86" cy="42.51" r="0.55" fill="#f6c877" opacity="0.9"/>
<circle cx="638.38" cy="42.69" r="0.55" fill="#f6c877" opacity="0.9"/>
<circle cx="640.69" cy="44.39" r="0.55" fill="#f6c877" opacity="0.9"/>
<circle cx="641.35" cy="41.82" r="0.55" fill="#f6c877" opacity="0.9"/>
<circle cx="638.41" cy="39.60" r="0.55" fill="#f6c877" opacity="0.9"/>
<circle cx="638.15" cy="44.67" r="0.55" fill="#f6c877" opacity="0.9"/>
<circle cx="640.63" cy="45.54" r="0.55" fill="#f6c877" opacity="0.9"/>
<line x1="637.60" y1="44.70" x2="641.70" y2="44.70" stroke="#f6c877" stroke-width="0.5" />
<text x="632.30" y="131.60" font-size="5.8" text-anchor="middle" fill="#1a1a1a" stroke="#1a1a1a" stroke-width="0.14" >Day  7</text>
<line x1="478.40" y1="36.20" x2="498.90" y2="36.20" stroke="#a8323a" stroke-width="1.2" />
<text x="488.65" y="35.90" font-size="6.3" text-anchor="middle" fill="#a8323a" stroke="#a8323a" stroke-width="0.25" >*</text>
<line x1="478.40" y1="42.90" x2="489.90" y2="42.90" stroke="#a8323a" stroke-width="1.2" />
<text x="484.15" y="42.60" font-size="6.3" text-anchor="middle" fill="#a8323a" stroke="#a8323a" stroke-width="0.25" >* *</text>
<line x1="513.20" y1="27.40" x2="533.80" y2="27.40" stroke="#a8323a" stroke-width="1.2" />
<text x="523.50" y="27.10" font-size="6.3" text-anchor="middle" fill="#a8323a" stroke="#a8323a" stroke-width="0.25" >* *</text>
<line x1="513.20" y1="34.90" x2="524.40" y2="34.90" stroke="#a8323a" stroke-width="1.2" />
<text x="518.80" y="34.60" font-size="6.3" text-anchor="middle" fill="#a8323a" stroke="#a8323a" stroke-width="0.25" >* * *</text>
<line x1="549.10" y1="27.00" x2="569.10" y2="27.00" stroke="#a8323a" stroke-width="1.2" />
<text x="559.10" y="26.70" font-size="6.3" text-anchor="middle" fill="#a8323a" stroke="#a8323a" stroke-width="0.25" >* * *</text>
<line x1="549.10" y1="34.10" x2="560.20" y2="34.10" stroke="#a8323a" stroke-width="1.2" />
<text x="554.65" y="33.80" font-size="6.3" text-anchor="middle" fill="#a8323a" stroke="#a8323a" stroke-width="0.25" >* * *</text>
<line x1="584.10" y1="22.40" x2="604.30" y2="22.40" stroke="#a8323a" stroke-width="1.2" />
<text x="594.20" y="22.10" font-size="6.3" text-anchor="middle" fill="#a8323a" stroke="#a8323a" stroke-width="0.25" >* * *</text>
<line x1="584.10" y1="30.10" x2="595.20" y2="30.10" stroke="#a8323a" stroke-width="1.2" />
<text x="589.65" y="29.80" font-size="6.3" text-anchor="middle" fill="#a8323a" stroke="#a8323a" stroke-width="0.25" >* * *</text>
<line x1="619.70" y1="22.40" x2="639.70" y2="22.40" stroke="#a8323a" stroke-width="1.2" />
<text x="629.70" y="22.10" font-size="6.3" text-anchor="middle" fill="#a8323a" stroke="#a8323a" stroke-width="0.25" >* *</text>
<line x1="619.70" y1="30.10" x2="630.80" y2="30.10" stroke="#a8323a" stroke-width="1.2" />
<text x="625.25" y="29.80" font-size="6.3" text-anchor="middle" fill="#a8323a" stroke="#a8323a" stroke-width="0.25" >* * *</text>
<circle cx="513.60" cy="45.50" r="0.50" fill="#111" />
<circle cx="549.20" cy="38.20" r="0.50" fill="#111" />
<circle cx="584.30" cy="34.50" r="0.50" fill="#111" />
<circle cx="619.80" cy="33.20" r="0.50" fill="#111" />
<text x="0.40" y="156.10" font-size="13.3" font-weight="bold" fill="#111" >b</text>
<rect x="43.40" y="147.20" width="11.80" height="7.77" fill="#fdc0ae" />
<rect x="55.10" y="147.20" width="11.80" height="7.77" fill="#3a70b8" />
<rect x="66.80" y="147.20" width="11.80" height="7.77" fill="#fca08a" />
<rect x="78.50" y="147.20" width="11.80" height="7.77" fill="#fdd8cc" />
<rect x="92.45" y="147.45" width="12.63" height="7.17" fill="#c5cfe8" />
<rect x="105.58" y="147.45" width="12.63" height="7.17" fill="#fdf6f4" />
<rect x="118.72" y="147.45" width="12.63" height="7.17" fill="#fdd0c0" />
<rect x="134.25" y="147.45" width="12.43" height="7.17" fill="#6a51a3" />
<rect x="147.18" y="147.45" width="12.43" height="7.17" fill="#ffffff" />
<rect x="160.12" y="147.45" width="12.43" height="7.17" fill="#6a51a3" />
<rect x="176.50" y="147.45" width="10.00" height="7.17" fill="#fff" />
<text x="41.20" y="152.88" font-size="5.2" text-anchor="end" font-style="italic" fill="#1a1a1a" stroke="#1a1a1a" stroke-width="0.14" >POU5F1</text>
<line x1="41.60" y1="151.03" x2="43.40" y2="151.03" stroke="#333" stroke-width="0.4" />
<rect x="43.40" y="154.87" width="11.80" height="7.77" fill="#fc8060" />
<rect x="55.10" y="154.87" width="11.80" height="7.77" fill="#4a7aba" />
<rect x="66.80" y="154.87" width="11.80" height="7.77" fill="#fc9880" />
<rect x="78.50" y="154.87" width="11.80" height="7.77" fill="#bcc8e4" />
<rect x="92.45" y="155.12" width="12.63" height="7.17" fill="#9aaed8" />
<rect x="105.58" y="155.12" width="12.63" height="7.17" fill="#f3f5fa" />
<rect x="118.72" y="155.12" width="12.63" height="7.17" fill="#fde0d6" />
<rect x="134.25" y="155.12" width="12.43" height="7.17" fill="#6a51a3" />
<rect x="147.18" y="155.12" width="12.43" height="7.17" fill="#ffffff" />
<rect x="160.12" y="155.12" width="12.43" height="7.17" fill="#9e9ac8" />
<rect x="176.50" y="155.12" width="10.00" height="7.17" fill="#fff" />
<text x="41.20" y="160.55" font-size="5.2" text-anchor="end" font-style="italic" fill="#1a1a1a" stroke="#1a1a1a" stroke-width="0.14" >NANOG</text>
<line x1="41.60" y1="158.70" x2="43.40" y2="158.70" stroke="#333" stroke-width="0.4" />
<rect x="43.40" y="162.54" width="11.80" height="7.77" fill="#fc8c70" />
<rect x="55.10" y="162.54" width="11.80" height="7.77" fill="#6a8bc8" />
<rect x="66.80" y="162.54" width="11.80" height="7.77" fill="#fb6a4a" />
<rect x="78.50" y="162.54" width="11.80" height="7.77" fill="#8fa5d4" />
<rect x="92.45" y="162.79" width="12.63" height="7.17" fill="#8aa2d2" />
<rect x="105.58" y="162.79" width="12.63" height="7.17" fill="#fee6de" />
<rect x="118.72" y="162.79" width="12.63" height="7.17" fill="#fee8e0" />
<rect x="134.25" y="162.79" width="12.43" height="7.17" fill="#6a51a3" />
<rect x="147.18" y="162.79" width="12.43" height="7.17" fill="#ffffff" />
<rect x="160.12" y="162.79" width="12.43" height="7.17" fill="#ffffff" />
<rect x="176.50" y="162.79" width="10.00" height="7.17" fill="#2ca02c" />
<text x="41.20" y="168.22" font-size="5.2" text-anchor="end" font-style="italic" fill="#1a1a1a" stroke="#1a1a1a" stroke-width="0.14" >MYC</text>
<line x1="41.60" y1="166.38" x2="43.40" y2="166.38" stroke="#333" stroke-width="0.4" />
<rect x="43.40" y="170.21" width="11.80" height="7.77" fill="#f4f6fb" />
<rect x="55.10" y="170.21" width="11.80" height="7.77" fill="#3a70b8" />
<rect x="66.80" y="170.21" width="11.80" height="7.77" fill="#fb6a4a" />
<rect x="78.50" y="170.21" width="11.80" height="7.77" fill="#fdc8b8" />
<rect x="92.45" y="170.46" width="12.63" height="7.17" fill="#d5dcee" />
<rect x="105.58" y="170.46" width="12.63" height="7.17" fill="#fed5c8" />
<rect x="118.72" y="170.46" width="12.63" height="7.17" fill="#fdc5b2" />
<rect x="134.25" y="170.46" width="12.43" height="7.17" fill="#9e9ac8" />
<rect x="147.18" y="170.46" width="12.43" height="7.17" fill="#cfcde6" />
<rect x="160.12" y="170.46" width="12.43" height="7.17" fill="#6a51a3" />
<rect x="176.50" y="170.46" width="10.00" height="7.17" fill="#2ca02c" />
<text x="41.20" y="175.89" font-size="5.2" text-anchor="end" font-style="italic" fill="#1a1a1a" stroke="#1a1a1a" stroke-width="0.14" >DNMT3B</text>
<line x1="41.60" y1="174.04" x2="43.40" y2="174.04" stroke="#333" stroke-width="0.4" />
<rect x="43.40" y="177.88" width="11.80" height="7.77" fill="#feeee8" />
<rect x="55.10" y="177.88" width="11.80" height="7.77" fill="#5a82c2" />
<rect x="66.80" y="177.88" width="11.80" height="7.77" fill="#fa4020" />
<rect x="78.50" y="177.88" width="11.80" height="7.77" fill="#d8dff0" />
<rect x="92.45" y="178.13" width="12.63" height="7.17" fill="#e8ecf6" />
<rect x="105.58" y="178.13" width="12.63" height="7.17" fill="#fee5dc" />
<rect x="118.72" y="178.13" width="12.63" height="7.17" fill="#feeae2" />
<rect x="134.25" y="178.13" width="12.43" height="7.17" fill="#9e9ac8" />
<rect x="147.18" y="178.13" width="12.43" height="7.17" fill="#6a51a3" />
<rect x="160.12" y="178.13" width="12.43" height="7.17" fill="#cfcde6" />
<rect x="176.50" y="178.13" width="10.00" height="7.17" fill="#2ca02c" />
<text x="41.20" y="183.56" font-size="5.2" text-anchor="end" font-style="italic" fill="#1a1a1a" stroke="#1a1a1a" stroke-width="0.14" >GPC4</text>
<line x1="41.60" y1="181.72" x2="43.40" y2="181.72" stroke="#333" stroke-width="0.4" />
<rect x="43.40" y="185.55" width="11.80" height="7.77" fill="#fdd5c8" />
<rect x="55.10" y="185.55" width="11.80" height="7.77" fill="#2166ac" />
<rect x="66.80" y="185.55" width="11.80" height="7.77" fill="#fb7050" />
<rect x="78.50" y="185.55" width="11.80" height="7.77" fill="#fee8e0" />
<rect x="92.45" y="185.80" width="12.63" height="7.17" fill="#a5b5dc" />
<rect x="105.58" y="185.80" width="12.63" height="7.17" fill="#fed8cc" />
<rect x="118.72" y="185.80" width="12.63" height="7.17" fill="#fdb09a" />
<rect x="134.25" y="185.80" width="12.43" height="7.17" fill="#6a51a3" />
<rect x="147.18" y="185.80" width="12.43" height="7.17" fill="#6a51a3" />
<rect x="160.12" y="185.80" width="12.43" height="7.17" fill="#6a51a3" />
<rect x="176.50" y="185.80" width="10.00" height="7.17" fill="#2ca02c" />
<text x="41.20" y="191.23" font-size="5.2" text-anchor="end" font-style="italic" fill="#1a1a1a" stroke="#1a1a1a" stroke-width="0.14" >SKIL</text>
<line x1="41.60" y1="189.38" x2="43.40" y2="189.38" stroke="#333" stroke-width="0.4" />
<rect x="43.40" y="193.22" width="11.80" height="7.77" fill="#fdc0ae" />
<rect x="55.10" y="193.22" width="11.80" height="7.77" fill="#3a70b8" />
<rect x="66.80" y="193.22" width="11.80" height="7.77" fill="#fb6040" />
<rect x="78.50" y="193.22" width="11.80" height="7.77" fill="#dce2f1" />
<rect x="92.45" y="193.47" width="12.63" height="7.17" fill="#a5b5dc" />
<rect x="105.58" y="193.47" width="12.63" height="7.17" fill="#fedcd0" />
<rect x="118.72" y="193.47" width="12.63" height="7.17" fill="#fdcfc0" />
<rect x="134.25" y="193.47" width="12.43" height="7.17" fill="#6a51a3" />
<rect x="147.18" y="193.47" width="12.43" height="7.17" fill="#6a51a3" />
<rect x="160.12" y="193.47" width="12.43" height="7.17" fill="#6a51a3" />
<rect x="176.50" y="193.47" width="10.00" height="7.17" fill="#fff" />
<text x="41.20" y="198.90" font-size="5.2" text-anchor="end" font-style="italic" fill="#1a1a1a" stroke="#1a1a1a" stroke-width="0.14" >TDGF1</text>
<line x1="41.60" y1="197.05" x2="43.40" y2="197.05" stroke="#333" stroke-width="0.4" />
<rect x="43.40" y="200.89" width="11.80" height="7.77" fill="#fdc0ae" />
<rect x="55.10" y="200.89" width="11.80" height="7.77" fill="#3a70b8" />
<rect x="66.80" y="200.89" width="11.80" height="7.77" fill="#fb6848" />
<rect x="78.50" y="200.89" width="11.80" height="7.77" fill="#e2e7f3" />
<rect x="92.45" y="201.14" width="12.63" height="7.17" fill="#b8c5e3" />
<rect x="105.58" y="201.14" width="12.63" height="7.17" fill="#fee8e0" />
<rect x="118.72" y="201.14" width="12.63" height="7.17" fill="#fed5c8" />
<rect x="134.25" y="201.14" width="12.43" height="7.17" fill="#6a51a3" />
<rect x="147.18" y="201.14" width="12.43" height="7.17" fill="#cfcde6" />
<rect x="160.12" y="201.14" width="12.43" height="7.17" fill="#6a51a3" />
<rect x="176.50" y="201.14" width="10.00" height="7.17" fill="#fff" />
<text x="41.20" y="206.57" font-size="5.2" text-anchor="end" font-style="italic" fill="#1a1a1a" stroke="#1a1a1a" stroke-width="0.14" >DPPA4</text>
<line x1="41.60" y1="204.72" x2="43.40" y2="204.72" stroke="#333" stroke-width="0.4" />
<rect x="43.40" y="208.56" width="11.80" height="7.77" fill="#fc9c85" />
<rect x="55.10" y="208.56" width="11.80" height="7.77" fill="#fb7555" />
<rect x="66.80" y="208.56" width="11.80" height="7.77" fill="#bcc8e4" />
<rect x="78.50" y="208.56" width="11.80" height="7.77" fill="#4575b8" />
<rect x="92.45" y="208.81" width="12.63" height="7.17" fill="#fffaf8" />
<rect x="105.58" y="208.81" width="12.63" height="7.17" fill="#e6ebf5" />
<rect x="118.72" y="208.81" width="12.63" height="7.17" fill="#d8dff0" />
<rect x="134.25" y="208.81" width="12.43" height="7.17" fill="#ffffff" />
<rect x="147.18" y="208.81" width="12.43" height="7.17" fill="#6a51a3" />
<rect x="160.12" y="208.81" width="12.43" height="7.17" fill="#6a51a3" />
<rect x="176.50" y="208.81" width="10.00" height="7.17" fill="#2ca02c" />
<text x="41.20" y="214.25" font-size="5.2" text-anchor="end" font-style="italic" fill="#1a1a1a" stroke="#1a1a1a" stroke-width="0.14" >ZIC2</text>
<line x1="41.60" y1="212.40" x2="43.40" y2="212.40" stroke="#333" stroke-width="0.4" />
<rect x="43.40" y="216.23" width="11.80" height="7.77" fill="#fffdfc" />
<rect x="55.10" y="216.23" width="11.80" height="7.77" fill="#fa4525" />
<rect x="66.80" y="216.23" width="11.80" height="7.77" fill="#4a7aba" />
<rect x="78.50" y="216.23" width="11.80" height="7.77" fill="#fbfcfe" />
<rect x="92.45" y="216.48" width="12.63" height="7.17" fill="#fdc5b5" />
<rect x="105.58" y="216.48" width="12.63" height="7.17" fill="#c0cbe6" />
<rect x="118.72" y="216.48" width="12.63" height="7.17" fill="#c5cfe8" />
<rect x="134.25" y="216.48" width="12.43" height="7.17" fill="#6a51a3" />
<rect x="147.18" y="216.48" width="12.43" height="7.17" fill="#6a51a3" />
<rect x="160.12" y="216.48" width="12.43" height="7.17" fill="#6a51a3" />
<rect x="176.50" y="216.48" width="10.00" height="7.17" fill="#2ca02c" />
<text x="41.20" y="221.91" font-size="5.2" text-anchor="end" font-style="italic" fill="#1a1a1a" stroke="#1a1a1a" stroke-width="0.14" >ZNF521</text>
<line x1="41.60" y1="220.06" x2="43.40" y2="220.06" stroke="#333" stroke-width="0.4" />
<rect x="43.40" y="223.90" width="11.80" height="7.77" fill="#fdc8b8" />
<rect x="55.10" y="223.90" width="11.80" height="7.77" fill="#fa4828" />
<rect x="66.80" y="223.90" width="11.80" height="7.77" fill="#8fa5d4" />
<rect x="78.50" y="223.90" width="11.80" height="7.77" fill="#8aa2d2" />
<rect x="92.45" y="224.15" width="12.63" height="7.17" fill="#fd9a80" />
<rect x="105.58" y="224.15" width="12.63" height="7.17" fill="#6a8bc8" />
<rect x="118.72" y="224.15" width="12.63" height="7.17" fill="#2166ac" />
<rect x="134.25" y="224.15" width="12.43" height="7.17" fill="#6a51a3" />
<rect x="147.18" y="224.15" width="12.43" height="7.17" fill="#6a51a3" />
<rect x="160.12" y="224.15" width="12.43" height="7.17" fill="#6a51a3" />
<rect x="176.50" y="224.15" width="10.00" height="7.17" fill="#2ca02c" />
<text x="41.20" y="229.58" font-size="5.2" text-anchor="end" font-style="italic" fill="#1a1a1a" stroke="#1a1a1a" stroke-width="0.14" >OTX1</text>
<line x1="41.60" y1="227.73" x2="43.40" y2="227.73" stroke="#333" stroke-width="0.4" />
<rect x="43.40" y="231.57" width="11.80" height="7.77" fill="#fef0ea" />
<rect x="55.10" y="231.57" width="11.80" height="7.77" fill="#fa4525" />
<rect x="66.80" y="231.57" width="11.80" height="7.77" fill="#5a82c2" />
<rect x="78.50" y="231.57" width="11.80" height="7.77" fill="#e0e5f2" />
<rect x="92.45" y="231.82" width="12.63" height="7.17" fill="#fb6a4a" />
<rect x="105.58" y="231.82" width="12.63" height="7.17" fill="#7a97cd" />
<rect x="118.72" y="231.82" width="12.63" height="7.17" fill="#4575b4" />
<rect x="134.25" y="231.82" width="12.43" height="7.17" fill="#6a51a3" />
<rect x="147.18" y="231.82" width="12.43" height="7.17" fill="#6a51a3" />
<rect x="160.12" y="231.82" width="12.43" height="7.17" fill="#6a51a3" />
<rect x="176.50" y="231.82" width="10.00" height="7.17" fill="#2ca02c" />
<text x="41.20" y="237.25" font-size="5.2" text-anchor="end" font-style="italic" fill="#1a1a1a" stroke="#1a1a1a" stroke-width="0.14" >PAX6</text>
<line x1="41.60" y1="235.41" x2="43.40" y2="235.41" stroke="#333" stroke-width="0.4" />
<rect x="43.40" y="239.24" width="11.80" height="7.77" fill="#f5f6fb" />
<rect x="55.10" y="239.24" width="11.80" height="7.77" fill="#f92a10" />
<rect x="66.80" y="239.24" width="11.80" height="7.77" fill="#8fa5d4" />
<rect x="78.50" y="239.24" width="11.80" height="7.77" fill="#a8b8de" />
<rect x="92.45" y="239.49" width="12.63" height="7.17" fill="#fb7555" />
<rect x="105.58" y="239.49" width="12.63" height="7.17" fill="#b5c2e2" />
<rect x="118.72" y="239.49" width="12.63" height="7.17" fill="#3a70b2" />
<rect x="134.25" y="239.49" width="12.43" height="7.17" fill="#6a51a3" />
<rect x="147.18" y="239.49" width="12.43" height="7.17" fill="#ffffff" />
<rect x="160.12" y="239.49" width="12.43" height="7.17" fill="#6a51a3" />
<rect x="176.50" y="239.49" width="10.00" height="7.17" fill="#2ca02c" />
<text x="41.20" y="244.92" font-size="5.2" text-anchor="end" font-style="italic" fill="#1a1a1a" stroke="#1a1a1a" stroke-width="0.14" >TGFB2</text>
<line x1="41.60" y1="243.07" x2="43.40" y2="243.07" stroke="#333" stroke-width="0.4" />
<rect x="43.40" y="246.91" width="11.80" height="7.77" fill="#dce2f1" />
<rect x="55.10" y="246.91" width="11.80" height="7.77" fill="#fb5030" />
<rect x="66.80" y="246.91" width="11.80" height="7.77" fill="#4575b8" />
<rect x="78.50" y="246.91" width="11.80" height="7.77" fill="#fdd8cc" />
<rect x="92.45" y="247.16" width="12.63" height="7.17" fill="#f00010" />
<rect x="105.58" y="247.16" width="12.63" height="7.17" fill="#4a78b8" />
<rect x="118.72" y="247.16" width="12.63" height="7.17" fill="#6a8bc8" />
<rect x="134.25" y="247.16" width="12.43" height="7.17" fill="#6a51a3" />
<rect x="147.18" y="247.16" width="12.43" height="7.17" fill="#6a51a3" />
<rect x="160.12" y="247.16" width="12.43" height="7.17" fill="#6a51a3" />
<rect x="176.50" y="247.16" width="10.00" height="7.17" fill="#2ca02c" />
<text x="41.20" y="252.59" font-size="5.2" text-anchor="end" font-style="italic" fill="#1a1a1a" stroke="#1a1a1a" stroke-width="0.14" >GREB1L</text>
<line x1="41.60" y1="250.74" x2="43.40" y2="250.74" stroke="#333" stroke-width="0.4" />
<rect x="43.40" y="254.58" width="11.80" height="7.77" fill="#fc9078" />
<rect x="55.10" y="254.58" width="11.80" height="7.77" fill="#6a8bc8" />
<rect x="66.80" y="254.58" width="11.80" height="7.77" fill="#fc7858" />
<rect x="78.50" y="254.58" width="11.80" height="7.77" fill="#9aaed8" />
<rect x="92.45" y="254.83" width="12.63" height="7.17" fill="#6a8bc8" />
<rect x="105.58" y="254.83" width="12.63" height="7.17" fill="#feeee8" />
<rect x="118.72" y="254.83" width="12.63" height="7.17" fill="#fee2d8" />
<rect x="134.25" y="254.83" width="12.43" height="7.17" fill="#6a51a3" />
<rect x="147.18" y="254.83" width="12.43" height="7.17" fill="#ffffff" />
<rect x="160.12" y="254.83" width="12.43" height="7.17" fill="#ffffff" />
<rect x="176.50" y="254.83" width="10.00" height="7.17" fill="#fff" />
<text x="41.20" y="260.26" font-size="5.2" text-anchor="end" font-style="italic" fill="#1a1a1a" stroke="#1a1a1a" stroke-width="0.14" >FGF13</text>
<line x1="41.60" y1="258.41" x2="43.40" y2="258.41" stroke="#333" stroke-width="0.4" />
<rect x="43.40" y="262.25" width="11.80" height="7.77" fill="#fc8060" />
<rect x="55.10" y="262.25" width="11.80" height="7.77" fill="#a8b8de" />
<rect x="66.80" y="262.25" width="11.80" height="7.77" fill="#fc9078" />
<rect x="78.50" y="262.25" width="11.80" height="7.77" fill="#5a82c2" />
<rect x="92.45" y="262.50" width="12.63" height="7.17" fill="#5a82c0" />
<rect x="105.58" y="262.50" width="12.63" height="7.17" fill="#eef1f9" />
<rect x="118.72" y="262.50" width="12.63" height="7.17" fill="#ccd5ec" />
<rect x="134.25" y="262.50" width="12.43" height="7.17" fill="#6a51a3" />
<rect x="147.18" y="262.50" width="12.43" height="7.17" fill="#ffffff" />
<rect x="160.12" y="262.50" width="12.43" height="7.17" fill="#cfcde6" />
<rect x="176.50" y="262.50" width="10.00" height="7.17" fill="#2ca02c" />
<text x="41.20" y="267.94" font-size="5.2" text-anchor="end" font-style="italic" fill="#1a1a1a" stroke="#1a1a1a" stroke-width="0.14" >FGF19</text>
<line x1="41.60" y1="266.08" x2="43.40" y2="266.08" stroke="#333" stroke-width="0.4" />
<rect x="43.40" y="269.92" width="11.80" height="7.77" fill="#fc8565" />
<rect x="55.10" y="269.92" width="11.80" height="7.77" fill="#6a8bc8" />
<rect x="66.80" y="269.92" width="11.80" height="7.77" fill="#fc8c70" />
<rect x="78.50" y="269.92" width="11.80" height="7.77" fill="#8fa5d4" />
<rect x="92.45" y="270.17" width="12.63" height="7.17" fill="#b8c5e3" />
<rect x="105.58" y="270.17" width="12.63" height="7.17" fill="#fffdfc" />
<rect x="118.72" y="270.17" width="12.63" height="7.17" fill="#fff0ea" />
<rect x="134.25" y="270.17" width="12.43" height="7.17" fill="#6a51a3" />
<rect x="147.18" y="270.17" width="12.43" height="7.17" fill="#ffffff" />
<rect x="160.12" y="270.17" width="12.43" height="7.17" fill="#ffffff" />
<rect x="176.50" y="270.17" width="10.00" height="7.17" fill="#2ca02c" />
<text x="41.20" y="275.60" font-size="5.2" text-anchor="end" font-style="italic" fill="#1a1a1a" stroke="#1a1a1a" stroke-width="0.14" >MAP3K1</text>
<line x1="41.60" y1="273.75" x2="43.40" y2="273.75" stroke="#333" stroke-width="0.4" />
<rect x="43.40" y="277.59" width="11.80" height="7.77" fill="#fb6848" />
<rect x="55.10" y="277.59" width="11.80" height="7.77" fill="#6a8bc8" />
<rect x="66.80" y="277.59" width="11.80" height="7.77" fill="#fdb8a5" />
<rect x="78.50" y="277.59" width="11.80" height="7.77" fill="#a8b8de" />
<rect x="92.45" y="277.84" width="12.63" height="7.17" fill="#3a70b2" />
<rect x="105.58" y="277.84" width="12.63" height="7.17" fill="#c8d2ea" />
<rect x="118.72" y="277.84" width="12.63" height="7.17" fill="#fedcd0" />
<rect x="134.25" y="277.84" width="12.43" height="7.17" fill="#6a51a3" />
<rect x="147.18" y="277.84" width="12.43" height="7.17" fill="#ffffff" />
<rect x="160.12" y="277.84" width="12.43" height="7.17" fill="#ffffff" />
<rect x="176.50" y="277.84" width="10.00" height="7.17" fill="#2ca02c" />
<text x="41.20" y="283.27" font-size="5.2" text-anchor="end" font-style="italic" fill="#1a1a1a" stroke="#1a1a1a" stroke-width="0.14" >FOS</text>
<line x1="41.60" y1="281.42" x2="43.40" y2="281.42" stroke="#333" stroke-width="0.4" />
<rect x="43.40" y="285.26" width="11.80" height="7.77" fill="#fdd5c8" />
<rect x="55.10" y="285.26" width="11.80" height="7.77" fill="#fb5030" />
<rect x="66.80" y="285.26" width="11.80" height="7.77" fill="#4a7aba" />
<rect x="78.50" y="285.26" width="11.80" height="7.77" fill="#dce2f1" />
<rect x="92.45" y="285.51" width="12.63" height="7.17" fill="#fdb8a5" />
<rect x="105.58" y="285.51" width="12.63" height="7.17" fill="#8aa2d2" />
<rect x="118.72" y="285.51" width="12.63" height="7.17" fill="#8aa2d2" />
<rect x="134.25" y="285.51" width="12.43" height="7.17" fill="#9e9ac8" />
<rect x="147.18" y="285.51" width="12.43" height="7.17" fill="#6a51a3" />
<rect x="160.12" y="285.51" width="12.43" height="7.17" fill="#6a51a3" />
<rect x="176.50" y="285.51" width="10.00" height="7.17" fill="#2ca02c" />
<text x="41.20" y="290.94" font-size="5.2" text-anchor="end" font-style="italic" fill="#1a1a1a" stroke="#1a1a1a" stroke-width="0.14" >FZD1</text>
<line x1="41.60" y1="289.09" x2="43.40" y2="289.09" stroke="#333" stroke-width="0.4" />
<rect x="43.40" y="292.93" width="11.80" height="7.77" fill="#eaeef7" />
<rect x="55.10" y="292.93" width="11.80" height="7.77" fill="#fa4828" />
<rect x="66.80" y="292.93" width="11.80" height="7.77" fill="#4575b8" />
<rect x="78.50" y="292.93" width="11.80" height="7.77" fill="#fee8e0" />
<rect x="92.45" y="293.18" width="12.63" height="7.17" fill="#fdcfc2" />
<rect x="105.58" y="293.18" width="12.63" height="7.17" fill="#dce2f1" />
<rect x="118.72" y="293.18" width="12.63" height="7.17" fill="#d8dff0" />
<rect x="134.25" y="293.18" width="12.43" height="7.17" fill="#6a51a3" />
<rect x="147.18" y="293.18" width="12.43" height="7.17" fill="#6a51a3" />
<rect x="160.12" y="293.18" width="12.43" height="7.17" fill="#6a51a3" />
<rect x="176.50" y="293.18" width="10.00" height="7.17" fill="#2ca02c" />
<text x="41.20" y="298.61" font-size="5.2" text-anchor="end" font-style="italic" fill="#1a1a1a" stroke="#1a1a1a" stroke-width="0.14" >FZD2</text>
<line x1="41.60" y1="296.76" x2="43.40" y2="296.76" stroke="#333" stroke-width="0.4" />
<rect x="43.40" y="300.60" width="11.80" height="7.77" fill="#d0d8ed" />
<rect x="55.10" y="300.60" width="11.80" height="7.77" fill="#f92a10" />
<rect x="66.80" y="300.60" width="11.80" height="7.77" fill="#8fa5d4" />
<rect x="78.50" y="300.60" width="11.80" height="7.77" fill="#d8dff0" />
<rect x="92.45" y="300.85" width="12.63" height="7.17" fill="#ff0000" />
<rect x="105.58" y="300.85" width="12.63" height="7.17" fill="#9aaed8" />
<rect x="118.72" y="300.85" width="12.63" height="7.17" fill="#2a68ae" />
<rect x="134.25" y="300.85" width="12.43" height="7.17" fill="#6a51a3" />
<rect x="147.18" y="300.85" width="12.43" height="7.17" fill="#ffffff" />
<rect x="160.12" y="300.85" width="12.43" height="7.17" fill="#6a51a3" />
<rect x="176.50" y="300.85" width="10.00" height="7.17" fill="#2ca02c" />
<text x="41.20" y="306.29" font-size="5.2" text-anchor="end" font-style="italic" fill="#1a1a1a" stroke="#1a1a1a" stroke-width="0.14" >WNT1</text>
<line x1="41.60" y1="304.44" x2="43.40" y2="304.44" stroke="#333" stroke-width="0.4" />
<rect x="43.40" y="308.27" width="11.80" height="7.77" fill="#bcc8e4" />
<rect x="55.10" y="308.27" width="11.80" height="7.77" fill="#fa4020" />
<rect x="66.80" y="308.27" width="11.80" height="7.77" fill="#5a82c2" />
<rect x="78.50" y="308.27" width="11.80" height="7.77" fill="#fdd5c8" />
<rect x="92.45" y="308.52" width="12.63" height="7.17" fill="#ff0000" />
<rect x="105.58" y="308.52" width="12.63" height="7.17" fill="#9aaed8" />
<rect x="118.72" y="308.52" width="12.63" height="7.17" fill="#6a8bc8" />
<rect x="134.25" y="308.52" width="12.43" height="7.17" fill="#6a51a3" />
<rect x="147.18" y="308.52" width="12.43" height="7.17" fill="#ffffff" />
<rect x="160.12" y="308.52" width="12.43" height="7.17" fill="#6a51a3" />
<rect x="176.50" y="308.52" width="10.00" height="7.17" fill="#fff" />
<text x="41.20" y="313.95" font-size="5.2" text-anchor="end" font-style="italic" fill="#1a1a1a" stroke="#1a1a1a" stroke-width="0.14" >WNT4</text>
<line x1="41.60" y1="312.10" x2="43.40" y2="312.10" stroke="#333" stroke-width="0.4" />
<rect x="43.40" y="315.94" width="11.80" height="7.77" fill="#f0f2f9" />
<rect x="55.10" y="315.94" width="11.80" height="7.77" fill="#fa4525" />
<rect x="66.80" y="315.94" width="11.80" height="7.77" fill="#4a7aba" />
<rect x="78.50" y="315.94" width="11.80" height="7.77" fill="#ffffff" />
<rect x="92.45" y="316.19" width="12.63" height="7.17" fill="#ff0000" />
<rect x="105.58" y="316.19" width="12.63" height="7.17" fill="#4a78b8" />
<rect x="118.72" y="316.19" width="12.63" height="7.17" fill="#2a68ae" />
<rect x="134.25" y="316.19" width="12.43" height="7.17" fill="#6a51a3" />
<rect x="147.18" y="316.19" width="12.43" height="7.17" fill="#cfcde6" />
<rect x="160.12" y="316.19" width="12.43" height="7.17" fill="#6a51a3" />
<rect x="176.50" y="316.19" width="10.00" height="7.17" fill="#fff" />
<text x="41.20" y="321.62" font-size="5.2" text-anchor="end" font-style="italic" fill="#1a1a1a" stroke="#1a1a1a" stroke-width="0.14" >WNT5A</text>
<line x1="41.60" y1="319.77" x2="43.40" y2="319.77" stroke="#333" stroke-width="0.4" />
<rect x="43.40" y="147.20" width="46.80" height="176.41" fill="none" stroke="#333" stroke-width="0.7"/>
<rect x="92.20" y="147.20" width="39.40" height="176.41" fill="none" stroke="#333" stroke-width="0.7"/>
<rect x="134.00" y="147.20" width="38.80" height="176.41" fill="none" stroke="#333" stroke-width="0.7"/>
<rect x="176.20" y="147.20" width="10.60" height="176.41" fill="none" stroke="#333" stroke-width="0.7"/>
<line x1="18.20" y1="149.00" x2="18.20" y2="207.80" stroke="#f6c3b0" stroke-width="1.2" />
<text x="8.20" y="178.40" font-size="5.6" text-anchor="middle" transform="rotate(-90 8.20 178.40)" fill="#1a1a1a" stroke="#1a1a1a" stroke-width="0.14" >Pluripotency</text>
<text x="15.20" y="178.40" font-size="5.6" text-anchor="middle" transform="rotate(-90 15.20 178.40)" fill="#1a1a1a" stroke="#1a1a1a" stroke-width="0.14" >genes</text>
<line x1="18.20" y1="211.00" x2="18.20" y2="252.20" stroke="#5fb0a4" stroke-width="1.2" />
<text x="8.20" y="231.60" font-size="5.6" text-anchor="middle" transform="rotate(-90 8.20 231.60)" fill="#1a1a1a" stroke="#1a1a1a" stroke-width="0.14" >Differentiation</text>
<text x="15.20" y="231.60" font-size="5.6" text-anchor="middle" transform="rotate(-90 15.20 231.60)" fill="#1a1a1a" stroke="#1a1a1a" stroke-width="0.14" >genes</text>
<line x1="18.20" y1="256.30" x2="18.20" y2="282.50" stroke="#f28b8b" stroke-width="1.2" />
<text x="8.20" y="269.40" font-size="5.6" text-anchor="middle" transform="rotate(-90 8.20 269.40)" fill="#1a1a1a" stroke="#1a1a1a" stroke-width="0.14" >MEK/ERK</text>
<text x="15.20" y="269.40" font-size="5.6" text-anchor="middle" transform="rotate(-90 15.20 269.40)" fill="#1a1a1a" stroke="#1a1a1a" stroke-width="0.14" >signaling</text>
<line x1="18.20" y1="286.60" x2="18.20" y2="321.70" stroke="#bab6e0" stroke-width="1.2" />
<text x="8.20" y="304.15" font-size="5.6" text-anchor="middle" transform="rotate(-90 8.20 304.15)" fill="#1a1a1a" stroke="#1a1a1a" stroke-width="0.14" >WNT</text>
<text x="15.20" y="304.15" font-size="5.6" text-anchor="middle" transform="rotate(-90 15.20 304.15)" fill="#1a1a1a" stroke="#1a1a1a" stroke-width="0.14" >signaling</text>
<line x1="49.25" y1="323.61" x2="49.25" y2="325.21" stroke="#333" stroke-width="0.4" />
<text x="51.15" y="327.81" font-size="5.1" text-anchor="end" transform="rotate(-47 51.15 327.81)" fill="#1a1a1a" stroke="#1a1a1a" stroke-width="0.14" >WT+Vehicle</text>
<line x1="60.95" y1="323.61" x2="60.95" y2="325.21" stroke="#333" stroke-width="0.4" />
<text x="62.85" y="327.81" font-size="5.1" text-anchor="end" transform="rotate(-47 62.85 327.81)" fill="#1a1a1a" stroke="#1a1a1a" stroke-width="0.14" >WT+MEKi</text>
<line x1="72.65" y1="323.61" x2="72.65" y2="325.21" stroke="#333" stroke-width="0.4" />
<text x="74.55" y="327.81" font-size="5.1" text-anchor="end" transform="rotate(-47 74.55 327.81)" fill="#1a1a1a" stroke="#1a1a1a" stroke-width="0.14" >1-10+Vehicle</text>
<line x1="84.35" y1="323.61" x2="84.35" y2="325.21" stroke="#333" stroke-width="0.4" />
<text x="86.25" y="327.81" font-size="5.1" text-anchor="end" transform="rotate(-47 86.25 327.81)" fill="#1a1a1a" stroke="#1a1a1a" stroke-width="0.14" >1-10+MEKi</text>
<line x1="98.77" y1="323.61" x2="98.77" y2="325.21" stroke="#333" stroke-width="0.4" />
<text x="100.67" y="327.81" font-size="5.1" text-anchor="end" transform="rotate(-47 100.67 327.81)" fill="#1a1a1a" stroke="#1a1a1a" stroke-width="0.14" >WT+MEKi vs. WT+Vehicle</text>
<line x1="111.90" y1="323.61" x2="111.90" y2="325.21" stroke="#333" stroke-width="0.4" />
<text x="113.80" y="327.81" font-size="5.1" text-anchor="end" transform="rotate(-47 113.80 327.81)" fill="#1a1a1a" stroke="#1a1a1a" stroke-width="0.14" >1-10+Vehicle vs. WT+Vehicle</text>
<line x1="125.03" y1="323.61" x2="125.03" y2="325.21" stroke="#333" stroke-width="0.4" />
<text x="126.93" y="327.81" font-size="5.1" text-anchor="end" transform="rotate(-47 126.93 327.81)" fill="#1a1a1a" stroke="#1a1a1a" stroke-width="0.14" >1-10+MEKi vs. WT+MEKi</text>
<line x1="140.47" y1="323.61" x2="140.47" y2="325.21" stroke="#333" stroke-width="0.4" />
<text x="142.37" y="327.81" font-size="5.1" text-anchor="end" transform="rotate(-47 142.37 327.81)" fill="#1a1a1a" stroke="#1a1a1a" stroke-width="0.14" >WT+MEKi vs. WT+Vehicle</text>
<line x1="153.40" y1="323.61" x2="153.40" y2="325.21" stroke="#333" stroke-width="0.4" />
<text x="155.30" y="327.81" font-size="5.1" text-anchor="end" transform="rotate(-47 155.30 327.81)" fill="#1a1a1a" stroke="#1a1a1a" stroke-width="0.14" >1-10+Vehicle vs. WT+Vehicle</text>
<line x1="166.33" y1="323.61" x2="166.33" y2="325.21" stroke="#333" stroke-width="0.4" />
<text x="168.23" y="327.81" font-size="5.1" text-anchor="end" transform="rotate(-47 168.23 327.81)" fill="#1a1a1a" stroke="#1a1a1a" stroke-width="0.14" >1-10+MEKi vs. WT+MEKi</text>
<line x1="181.50" y1="323.61" x2="181.50" y2="325.21" stroke="#333" stroke-width="0.4" />
<text x="180.30" y="326.61" font-size="5.1" text-anchor="end" transform="rotate(-47 180.30 326.61)" fill="#1a1a1a" stroke="#1a1a1a" stroke-width="0.14" >ZNF263 peak</text>
<text x="185.50" y="329.21" font-size="5.1" text-anchor="end" transform="rotate(-47 185.50 329.21)" fill="#1a1a1a" stroke="#1a1a1a" stroke-width="0.14" >in H1 hESCs</text>
<rect x="191.3" y="158.7" width="6.7" height="8.5" fill="#fff" stroke="#999" stroke-width="0.4"/>
<rect x="191.30" y="169.50" width="6.70" height="7.90" fill="#2ca02c" />
<text x="205.40" y="169.00" font-size="5.4" text-anchor="middle" transform="rotate(-90 205.40 169.00)" fill="#1a1a1a" stroke="#1a1a1a" stroke-width="0.14" >Yes No</text>
<rect x="197.70" y="194.00" width="6.00" height="9.25" fill="#6a51a3" />
<rect x="197.70" y="203.18" width="6.00" height="9.25" fill="#9e9ac8" />
<rect x="197.70" y="212.36" width="6.00" height="9.25" fill="#cfcde6" />
<rect x="197.70" y="221.54" width="6.00" height="9.25" fill="#ffffff" />
<rect x="197.7" y="194.0" width="6.0" height="36.7" fill="none" stroke="#444" stroke-width="0.4"/>
<line x1="203.70" y1="194.60" x2="204.90" y2="194.60" stroke="#333" stroke-width="0.4" />
<text x="209.20" y="194.60" font-size="5.2" text-anchor="middle" transform="rotate(-90 209.20 194.60)" fill="#1a1a1a" stroke="#1a1a1a" stroke-width="0.14" >4</text>
<line x1="203.70" y1="203.65" x2="204.90" y2="203.65" stroke="#333" stroke-width="0.4" />
<text x="209.20" y="203.65" font-size="5.2" text-anchor="middle" transform="rotate(-90 209.20 203.65)" fill="#1a1a1a" stroke="#1a1a1a" stroke-width="0.14" >3</text>
<line x1="203.70" y1="212.70" x2="204.90" y2="212.70" stroke="#333" stroke-width="0.4" />
<text x="209.20" y="212.70" font-size="5.2" text-anchor="middle" transform="rotate(-90 209.20 212.70)" fill="#1a1a1a" stroke="#1a1a1a" stroke-width="0.14" >2</text>
<line x1="203.70" y1="221.75" x2="204.90" y2="221.75" stroke="#333" stroke-width="0.4" />
<text x="209.20" y="221.75" font-size="5.2" text-anchor="middle" transform="rotate(-90 209.20 221.75)" fill="#1a1a1a" stroke="#1a1a1a" stroke-width="0.14" >1</text>
<line x1="203.70" y1="230.80" x2="204.90" y2="230.80" stroke="#333" stroke-width="0.4" />
<text x="209.20" y="230.80" font-size="5.2" text-anchor="middle" transform="rotate(-90 209.20 230.80)" fill="#1a1a1a" stroke="#1a1a1a" stroke-width="0.14" >0</text>
<text x="193.4" y="212.7" font-size="5.2" text-anchor="middle" transform="rotate(-90 193.4 212.7)">-Log<tspan font-size="3.2" dy="1.2">10</tspan><tspan dy="-1.2">(adjusted </tspan><tspan font-style="italic">P</tspan>-value)</text>
<defs><linearGradient id="rb" x1="0" y1="0" x2="0" y2="1"><stop offset="0" stop-color="#f92a10"/><stop offset="0.25" stop-color="#fc8a6c"/><stop offset="0.5" stop-color="#ffffff"/><stop offset="0.75" stop-color="#8fa5d4"/><stop offset="1" stop-color="#2166ac"/></linearGradient></defs>
<rect x="197.20" y="240.10" width="6.50" height="36.60" fill="url(#rb)" />
<rect x="197.20" y="284.10" width="6.50" height="36.90" fill="url(#rb)" />
<line x1="203.70" y1="246.30" x2="204.90" y2="246.30" stroke="#333" stroke-width="0.4" />
<text x="209.20" y="246.30" font-size="5.2" text-anchor="middle" transform="rotate(-90 209.20 246.30)" fill="#1a1a1a" stroke="#1a1a1a" stroke-width="0.14" >1</text>
<line x1="203.70" y1="258.80" x2="204.90" y2="258.80" stroke="#333" stroke-width="0.4" />
<text x="209.20" y="258.80" font-size="5.2" text-anchor="middle" transform="rotate(-90 209.20 258.80)" fill="#1a1a1a" stroke="#1a1a1a" stroke-width="0.14" >0</text>
<line x1="203.70" y1="271.20" x2="204.90" y2="271.20" stroke="#333" stroke-width="0.4" />
<text x="209.20" y="271.20" font-size="5.2" text-anchor="middle" transform="rotate(-90 209.20 271.20)" fill="#1a1a1a" stroke="#1a1a1a" stroke-width="0.14" >−1</text>
<line x1="203.70" y1="289.60" x2="204.90" y2="289.60" stroke="#333" stroke-width="0.4" />
<text x="209.20" y="289.60" font-size="5.2" text-anchor="middle" transform="rotate(-90 209.20 289.60)" fill="#1a1a1a" stroke="#1a1a1a" stroke-width="0.14" >1</text>
<line x1="203.70" y1="302.00" x2="204.90" y2="302.00" stroke="#333" stroke-width="0.4" />
<text x="209.20" y="302.00" font-size="5.2" text-anchor="middle" transform="rotate(-90 209.20 302.00)" fill="#1a1a1a" stroke="#1a1a1a" stroke-width="0.14" >0</text>
<line x1="203.70" y1="314.80" x2="204.90" y2="314.80" stroke="#333" stroke-width="0.4" />
<text x="209.20" y="314.80" font-size="5.2" text-anchor="middle" transform="rotate(-90 209.20 314.80)" fill="#1a1a1a" stroke="#1a1a1a" stroke-width="0.14" >−1</text>
<text x="193.4" y="260.0" font-size="5.2" text-anchor="middle" transform="rotate(-90 193.4 260.0)">Log<tspan font-size="3.2" dy="1.2">2</tspan><tspan dy="-1.2">-ratio</tspan></text>
<text x="193.40" y="303.40" font-size="5.2" text-anchor="middle" transform="rotate(-90 193.40 303.40)" fill="#1a1a1a" stroke="#1a1a1a" stroke-width="0.14" >Z-score</text>
<text x="211.80" y="156.20" font-size="13.3" font-weight="bold" fill="#111" >c</text>
<circle cx="256.60" cy="191.60" r="28.10" fill="#afc0ce" />
<circle cx="286.30" cy="192.00" r="25.60" fill="#ca99ab" opacity="0.49"/>
<text x="244.30" y="194.10" font-size="6.3" text-anchor="middle" font-weight="bold" fill="#111" stroke="#111" stroke-width="0.1" >837</text>
<text x="272.00" y="194.10" font-size="6.3" text-anchor="middle" font-weight="bold" fill="#111" stroke="#111" stroke-width="0.1" >374</text>
<text x="299.00" y="194.10" font-size="6.3" text-anchor="middle" font-weight="bold" fill="#111" stroke="#111" stroke-width="0.1" >689</text>
<text x="258.40" y="154.70" font-size="5.9" text-anchor="middle" fill="#1a1a1a" stroke="#1a1a1a" stroke-width="0.14" >Genes up-regulated in</text>
<text x="259.50" y="161.70" font-size="5.9" text-anchor="middle" fill="#1a1a1a" stroke="#1a1a1a" stroke-width="0.14" >WT+MEKi vs. WT+Vehicle</text>
<text x="294.50" y="227.40" font-size="5.9" text-anchor="middle" fill="#1a1a1a" stroke="#1a1a1a" stroke-width="0.14" >Genes down-regulated in</text>
<text x="294.50" y="234.40" font-size="5.9" text-anchor="middle" fill="#1a1a1a" stroke="#1a1a1a" stroke-width="0.14" >1-10+MEKi vs. WT+MEKi</text>
<circle cx="359.40" cy="191.90" r="27.90" fill="#afc0ce" />
<circle cx="398.20" cy="191.90" r="17.80" fill="#ca99ab" opacity="0.49"/>
<text x="356.50" y="194.10" font-size="6.3" text-anchor="middle" font-weight="bold" fill="#111" stroke="#111" stroke-width="0.1" >1151</text>
<text x="384.10" y="194.10" font-size="6.3" text-anchor="middle" font-weight="bold" fill="#111" stroke="#111" stroke-width="0.1" >60</text>
<text x="402.10" y="194.10" font-size="6.3" text-anchor="middle" font-weight="bold" fill="#111" stroke="#111" stroke-width="0.1" >424</text>
<text x="356.60" y="154.70" font-size="5.9" text-anchor="middle" fill="#1a1a1a" stroke="#1a1a1a" stroke-width="0.14" >Genes up-regulated in</text>
<text x="357.70" y="161.70" font-size="5.9" text-anchor="middle" fill="#1a1a1a" stroke="#1a1a1a" stroke-width="0.14" >WT+MEKi vs. WT+Vehicle</text>
<text x="405.10" y="222.00" font-size="5.9" text-anchor="middle" fill="#1a1a1a" stroke="#1a1a1a" stroke-width="0.14" >Genes up-regulated in</text>
<text x="406.10" y="229.00" font-size="5.9" text-anchor="middle" fill="#1a1a1a" stroke="#1a1a1a" stroke-width="0.14" >1-10+MEKi vs. WT+MEKi</text>
<circle cx="257.00" cy="291.90" r="27.90" fill="#afc0ce" />
<circle cx="289.40" cy="292.40" r="19.00" fill="#ca99ab" opacity="0.49"/>
<text x="250.00" y="294.10" font-size="6.3" text-anchor="middle" font-weight="bold" fill="#111" stroke="#111" stroke-width="0.1" >898</text>
<text x="278.20" y="294.10" font-size="6.3" text-anchor="middle" font-weight="bold" fill="#111" stroke="#111" stroke-width="0.1" >144</text>
<text x="297.00" y="294.10" font-size="6.3" text-anchor="middle" font-weight="bold" fill="#111" stroke="#111" stroke-width="0.1" >340</text>
<text x="258.00" y="254.70" font-size="5.9" text-anchor="middle" fill="#1a1a1a" stroke="#1a1a1a" stroke-width="0.14" >Genes down-regulated in</text>
<text x="258.20" y="261.40" font-size="5.9" text-anchor="middle" fill="#1a1a1a" stroke="#1a1a1a" stroke-width="0.14" >WT+MEKi vs. WT+Vehicle</text>
<text x="293.00" y="326.50" font-size="5.9" text-anchor="middle" fill="#1a1a1a" stroke="#1a1a1a" stroke-width="0.14" >Genes up-regulated in</text>
<text x="293.80" y="333.20" font-size="5.9" text-anchor="middle" fill="#1a1a1a" stroke="#1a1a1a" stroke-width="0.14" >1-10+MEKi vs. WT+MEKi</text>
<circle cx="358.70" cy="291.90" r="27.80" fill="#afc0ce" />
<circle cx="406.00" cy="291.90" r="27.90" fill="#ca99ab" opacity="0.49"/>
<text x="353.90" y="294.10" font-size="6.3" text-anchor="middle" font-weight="bold" fill="#111" stroke="#111" stroke-width="0.1" >966</text>
<text x="382.00" y="294.10" font-size="6.3" text-anchor="middle" font-weight="bold" fill="#111" stroke="#111" stroke-width="0.1" >76</text>
<text x="409.60" y="294.10" font-size="6.3" text-anchor="middle" font-weight="bold" fill="#111" stroke="#111" stroke-width="0.1" >987</text>
<text x="354.20" y="254.70" font-size="5.9" text-anchor="middle" fill="#1a1a1a" stroke="#1a1a1a" stroke-width="0.14" >Genes down-regulated in</text>
<text x="355.50" y="261.40" font-size="5.9" text-anchor="middle" fill="#1a1a1a" stroke="#1a1a1a" stroke-width="0.14" >WT+MEKi vs. WT+Vehicle</text>
<text x="404.40" y="328.50" font-size="5.9" text-anchor="middle" fill="#1a1a1a" stroke="#1a1a1a" stroke-width="0.14" >Genes down-regulated in</text>
<text x="404.40" y="335.50" font-size="5.9" text-anchor="middle" fill="#1a1a1a" stroke="#1a1a1a" stroke-width="0.14" >1-10+MEKi vs. WT+MEKi</text>
<text x="0.20" y="390.00" font-size="13.3" font-weight="bold" fill="#111" >f</text>
<line x1="34.60" y1="381.10" x2="34.60" y2="470.40" stroke="#333" stroke-width="1.0" />
<line x1="34.10" y1="469.90" x2="178.00" y2="469.90" stroke="#444" stroke-width="1.1" />
<line x1="31.30" y1="469.80" x2="34.60" y2="469.80" stroke="#333" stroke-width="0.7" />
<text x="30.00" y="471.90" font-size="5.8" text-anchor="end" fill="#1a1a1a" stroke="#1a1a1a" stroke-width="0.14" >0.0</text>
<line x1="31.30" y1="443.50" x2="34.60" y2="443.50" stroke="#333" stroke-width="0.7" />
<text x="30.00" y="445.60" font-size="5.8" text-anchor="end" fill="#1a1a1a" stroke="#1a1a1a" stroke-width="0.14" >0.5</text>
<line x1="31.30" y1="417.20" x2="34.60" y2="417.20" stroke="#333" stroke-width="0.7" />
<text x="30.00" y="419.30" font-size="5.8" text-anchor="end" fill="#1a1a1a" stroke="#1a1a1a" stroke-width="0.14" >1.0</text>
<line x1="31.30" y1="390.90" x2="34.60" y2="390.90" stroke="#333" stroke-width="0.7" />
<text x="30.00" y="393.00" font-size="5.8" text-anchor="end" fill="#1a1a1a" stroke="#1a1a1a" stroke-width="0.14" >1.5</text>
<text x="16.00" y="420.30" font-size="5.8" text-anchor="middle" transform="rotate(-90 16.00 420.30)" fill="#1a1a1a" stroke="#1a1a1a" stroke-width="0.14" >Relative expression</text>
<rect x="38.10" y="419.30" width="6.40" height="50.10" fill="#2b2b2b" />
<line x1="41.30" y1="417.73" x2="41.30" y2="420.25" stroke="#111" stroke-width="0.55" />
<line x1="39.60" y1="417.73" x2="43.00" y2="417.73" stroke="#111" stroke-width="0.55" />
<circle cx="42.00" cy="417.20" r="1.25" fill="#111" />
<circle cx="40.70" cy="419.83" r="1.25" fill="#111" />
<circle cx="42.00" cy="420.88" r="1.25" fill="#111" />
<rect x="48.00" y="426.67" width="6.40" height="42.73" fill="#fca65c" />
<line x1="51.20" y1="425.62" x2="51.20" y2="427.30" stroke="#f28a1c" stroke-width="0.55" />
<line x1="49.50" y1="425.62" x2="52.90" y2="425.62" stroke="#f28a1c" stroke-width="0.55" />
<circle cx="51.90" cy="425.09" r="1.25" fill="#f28a1c" />
<circle cx="50.60" cy="426.67" r="1.25" fill="#f28a1c" />
<circle cx="51.90" cy="428.25" r="1.25" fill="#f28a1c" />
<rect x="57.90" y="439.82" width="6.40" height="29.58" fill="#fbd089" />
<line x1="61.10" y1="437.71" x2="61.10" y2="441.08" stroke="#f6c877" stroke-width="0.55" />
<line x1="59.40" y1="437.71" x2="62.80" y2="437.71" stroke="#f6c877" stroke-width="0.55" />
<circle cx="61.80" cy="437.19" r="1.25" fill="#f6c877" />
<circle cx="60.50" cy="439.82" r="1.25" fill="#f6c877" />
<circle cx="61.80" cy="442.45" r="1.25" fill="#f6c877" />
<text x="51.20" y="478.20" font-size="6.1" text-anchor="middle" font-style="italic" fill="#1a1a1a" stroke="#1a1a1a" stroke-width="0.14" >CXCR4</text>
<rect x="74.60" y="418.78" width="6.40" height="50.62" fill="#2b2b2b" />
<line x1="77.80" y1="415.62" x2="77.80" y2="420.67" stroke="#111" stroke-width="0.55" />
<line x1="76.10" y1="415.62" x2="79.50" y2="415.62" stroke="#111" stroke-width="0.55" />
<circle cx="78.50" cy="414.57" r="1.25" fill="#111" />
<circle cx="77.20" cy="418.25" r="1.25" fill="#111" />
<circle cx="78.50" cy="423.51" r="1.25" fill="#111" />
<rect x="84.50" y="411.94" width="6.40" height="57.46" fill="#fca65c" />
<line x1="87.70" y1="404.58" x2="87.70" y2="416.36" stroke="#f28a1c" stroke-width="0.55" />
<line x1="86.00" y1="404.58" x2="89.40" y2="404.58" stroke="#f28a1c" stroke-width="0.55" />
<circle cx="88.40" cy="391.43" r="1.25" fill="#f28a1c" />
<circle cx="87.10" cy="419.83" r="1.25" fill="#f28a1c" />
<circle cx="88.40" cy="426.67" r="1.25" fill="#f28a1c" />
<rect x="94.40" y="425.62" width="6.40" height="43.78" fill="#fbd089" />
<line x1="97.60" y1="422.99" x2="97.60" y2="427.19" stroke="#f6c877" stroke-width="0.55" />
<line x1="95.90" y1="422.99" x2="99.30" y2="422.99" stroke="#f6c877" stroke-width="0.55" />
<circle cx="98.30" cy="422.46" r="1.25" fill="#f6c877" />
<circle cx="97.00" cy="425.09" r="1.25" fill="#f6c877" />
<circle cx="98.30" cy="429.82" r="1.25" fill="#f6c877" />
<text x="87.70" y="478.20" font-size="6.1" text-anchor="middle" font-style="italic" fill="#1a1a1a" stroke="#1a1a1a" stroke-width="0.14" >GSC</text>
<rect x="111.10" y="415.10" width="6.40" height="54.30" fill="#2b2b2b" />
<line x1="114.30" y1="411.94" x2="114.30" y2="416.99" stroke="#111" stroke-width="0.55" />
<line x1="112.60" y1="411.94" x2="116.00" y2="411.94" stroke="#111" stroke-width="0.55" />
<circle cx="115.00" cy="406.68" r="1.25" fill="#111" />
<circle cx="113.70" cy="417.20" r="1.25" fill="#111" />
<circle cx="115.00" cy="420.88" r="1.25" fill="#111" />
<rect x="121.00" y="421.93" width="6.40" height="47.47" fill="#fca65c" />
<line x1="124.20" y1="418.25" x2="124.20" y2="424.14" stroke="#f28a1c" stroke-width="0.55" />
<line x1="122.50" y1="418.25" x2="125.90" y2="418.25" stroke="#f28a1c" stroke-width="0.55" />
<circle cx="124.90" cy="415.62" r="1.25" fill="#f28a1c" />
<circle cx="123.60" cy="421.41" r="1.25" fill="#f28a1c" />
<circle cx="124.90" cy="428.77" r="1.25" fill="#f28a1c" />
<rect x="130.90" y="434.03" width="6.40" height="35.37" fill="#fbd089" />
<line x1="134.10" y1="430.35" x2="134.10" y2="436.24" stroke="#f6c877" stroke-width="0.55" />
<line x1="132.40" y1="430.35" x2="135.80" y2="430.35" stroke="#f6c877" stroke-width="0.55" />
<circle cx="134.80" cy="428.25" r="1.25" fill="#f6c877" />
<circle cx="133.50" cy="432.98" r="1.25" fill="#f6c877" />
<circle cx="134.80" cy="440.34" r="1.25" fill="#f6c877" />
<text x="124.20" y="478.20" font-size="6.1" text-anchor="middle" font-style="italic" fill="#1a1a1a" stroke="#1a1a1a" stroke-width="0.14" >MIXL</text>
<rect x="147.60" y="419.83" width="6.40" height="49.57" fill="#2b2b2b" />
<line x1="150.80" y1="418.25" x2="150.80" y2="420.78" stroke="#111" stroke-width="0.55" />
<line x1="149.10" y1="418.25" x2="152.50" y2="418.25" stroke="#111" stroke-width="0.55" />
<circle cx="151.50" cy="417.20" r="1.25" fill="#111" />
<circle cx="150.20" cy="419.30" r="1.25" fill="#111" />
<circle cx="151.50" cy="422.46" r="1.25" fill="#111" />
<rect x="157.50" y="422.46" width="6.40" height="46.94" fill="#fca65c" />
<line x1="160.70" y1="419.30" x2="160.70" y2="424.35" stroke="#f28a1c" stroke-width="0.55" />
<line x1="159.00" y1="419.30" x2="162.40" y2="419.30" stroke="#f28a1c" stroke-width="0.55" />
<circle cx="161.40" cy="414.04" r="1.25" fill="#f28a1c" />
<circle cx="160.10" cy="423.51" r="1.25" fill="#f28a1c" />
<circle cx="161.40" cy="428.77" r="1.25" fill="#f28a1c" />
<rect x="167.40" y="441.92" width="6.40" height="27.48" fill="#fbd089" />
<line x1="170.60" y1="440.87" x2="170.60" y2="442.55" stroke="#f6c877" stroke-width="0.55" />
<line x1="168.90" y1="440.87" x2="172.30" y2="440.87" stroke="#f6c877" stroke-width="0.55" />
<circle cx="171.30" cy="440.34" r="1.25" fill="#f6c877" />
<circle cx="170.00" cy="441.92" r="1.25" fill="#f6c877" />
<circle cx="171.30" cy="443.50" r="1.25" fill="#f6c877" />
<text x="160.70" y="478.20" font-size="6.1" text-anchor="middle" font-style="italic" fill="#1a1a1a" stroke="#1a1a1a" stroke-width="0.14" >T</text>
<line x1="227.40" y1="381.10" x2="227.40" y2="470.40" stroke="#333" stroke-width="1.0" />
<line x1="226.90" y1="469.90" x2="396.20" y2="469.90" stroke="#444" stroke-width="1.1" />
<line x1="224.10" y1="469.80" x2="227.40" y2="469.80" stroke="#333" stroke-width="0.7" />
<text x="222.80" y="471.90" font-size="5.8" text-anchor="end" fill="#1a1a1a" stroke="#1a1a1a" stroke-width="0.14" >0.0</text>
<line x1="224.10" y1="443.50" x2="227.40" y2="443.50" stroke="#333" stroke-width="0.7" />
<text x="222.80" y="445.60" font-size="5.8" text-anchor="end" fill="#1a1a1a" stroke="#1a1a1a" stroke-width="0.14" >0.5</text>
<line x1="224.10" y1="417.20" x2="227.40" y2="417.20" stroke="#333" stroke-width="0.7" />
<text x="222.80" y="419.30" font-size="5.8" text-anchor="end" fill="#1a1a1a" stroke="#1a1a1a" stroke-width="0.14" >1.0</text>
<line x1="224.10" y1="390.90" x2="227.40" y2="390.90" stroke="#333" stroke-width="0.7" />
<text x="222.80" y="393.00" font-size="5.8" text-anchor="end" fill="#1a1a1a" stroke="#1a1a1a" stroke-width="0.14" >1.5</text>
<text x="208.20" y="420.30" font-size="5.8" text-anchor="middle" transform="rotate(-90 208.20 420.30)" fill="#1a1a1a" stroke="#1a1a1a" stroke-width="0.14" >Relative expression</text>
<rect x="230.00" y="422.99" width="5.40" height="46.41" fill="#2b2b2b" />
<line x1="232.70" y1="420.88" x2="232.70" y2="424.25" stroke="#111" stroke-width="0.55" />
<line x1="231.00" y1="420.88" x2="234.40" y2="420.88" stroke="#111" stroke-width="0.55" />
<circle cx="233.40" cy="417.20" r="1.25" fill="#111" />
<circle cx="232.10" cy="424.04" r="1.25" fill="#111" />
<circle cx="233.40" cy="427.72" r="1.25" fill="#111" />
<rect x="237.90" y="429.30" width="5.40" height="40.10" fill="#fca65c" />
<line x1="240.60" y1="425.62" x2="240.60" y2="431.51" stroke="#f28a1c" stroke-width="0.55" />
<line x1="238.90" y1="425.62" x2="242.30" y2="425.62" stroke="#f28a1c" stroke-width="0.55" />
<circle cx="241.30" cy="420.88" r="1.25" fill="#f28a1c" />
<circle cx="240.00" cy="430.88" r="1.25" fill="#f28a1c" />
<circle cx="241.30" cy="435.08" r="1.25" fill="#f28a1c" />
<rect x="245.80" y="442.45" width="5.40" height="26.95" fill="#fbd089" />
<line x1="248.50" y1="440.87" x2="248.50" y2="443.39" stroke="#f6c877" stroke-width="0.55" />
<line x1="246.80" y1="440.87" x2="250.20" y2="440.87" stroke="#f6c877" stroke-width="0.55" />
<circle cx="249.20" cy="440.34" r="1.25" fill="#f6c877" />
<circle cx="247.90" cy="442.45" r="1.25" fill="#f6c877" />
<circle cx="249.20" cy="444.55" r="1.25" fill="#f6c877" />
<text x="240.60" y="478.20" font-size="6.1" text-anchor="middle" font-style="italic" fill="#1a1a1a" stroke="#1a1a1a" stroke-width="0.14" >OTX2</text>
<rect x="258.50" y="419.83" width="5.40" height="49.57" fill="#2b2b2b" />
<line x1="261.20" y1="417.20" x2="261.20" y2="421.41" stroke="#111" stroke-width="0.55" />
<line x1="259.50" y1="417.20" x2="262.90" y2="417.20" stroke="#111" stroke-width="0.55" />
<circle cx="261.90" cy="415.10" r="1.25" fill="#111" />
<circle cx="260.60" cy="419.30" r="1.25" fill="#111" />
<circle cx="261.90" cy="425.09" r="1.25" fill="#111" />
<rect x="266.40" y="430.88" width="5.40" height="38.52" fill="#fca65c" />
<line x1="269.10" y1="426.67" x2="269.10" y2="433.40" stroke="#f28a1c" stroke-width="0.55" />
<line x1="267.40" y1="426.67" x2="270.80" y2="426.67" stroke="#f28a1c" stroke-width="0.55" />
<circle cx="269.80" cy="422.46" r="1.25" fill="#f28a1c" />
<circle cx="268.50" cy="430.88" r="1.25" fill="#f28a1c" />
<circle cx="269.80" cy="438.24" r="1.25" fill="#f28a1c" />
<rect x="274.30" y="447.71" width="5.40" height="21.69" fill="#fbd089" />
<line x1="277.00" y1="445.08" x2="277.00" y2="449.29" stroke="#f6c877" stroke-width="0.55" />
<line x1="275.30" y1="445.08" x2="278.70" y2="445.08" stroke="#f6c877" stroke-width="0.55" />
<circle cx="277.70" cy="444.55" r="1.25" fill="#f6c877" />
<circle cx="276.40" cy="447.71" r="1.25" fill="#f6c877" />
<circle cx="277.70" cy="450.34" r="1.25" fill="#f6c877" />
<text x="269.10" y="478.20" font-size="6.1" text-anchor="middle" font-style="italic" fill="#1a1a1a" stroke="#1a1a1a" stroke-width="0.14" >PAX6</text>
<rect x="287.00" y="420.36" width="5.40" height="49.04" fill="#2b2b2b" />
<line x1="289.70" y1="414.57" x2="289.70" y2="423.83" stroke="#111" stroke-width="0.55" />
<line x1="288.00" y1="414.57" x2="291.40" y2="414.57" stroke="#111" stroke-width="0.55" />
<circle cx="290.40" cy="407.21" r="1.25" fill="#111" />
<circle cx="289.10" cy="419.30" r="1.25" fill="#111" />
<circle cx="290.40" cy="434.56" r="1.25" fill="#111" />
<rect x="294.90" y="437.71" width="5.40" height="31.69" fill="#fca65c" />
<line x1="297.60" y1="435.08" x2="297.60" y2="439.29" stroke="#f28a1c" stroke-width="0.55" />
<line x1="295.90" y1="435.08" x2="299.30" y2="435.08" stroke="#f28a1c" stroke-width="0.55" />
<circle cx="298.30" cy="434.03" r="1.25" fill="#f28a1c" />
<circle cx="297.00" cy="437.19" r="1.25" fill="#f28a1c" />
<circle cx="298.30" cy="442.45" r="1.25" fill="#f28a1c" />
<rect x="302.80" y="435.08" width="5.40" height="34.32" fill="#fbd089" />
<line x1="305.50" y1="432.98" x2="305.50" y2="436.35" stroke="#f6c877" stroke-width="0.55" />
<line x1="303.80" y1="432.98" x2="307.20" y2="432.98" stroke="#f6c877" stroke-width="0.55" />
<circle cx="306.20" cy="432.45" r="1.25" fill="#f6c877" />
<circle cx="304.90" cy="434.03" r="1.25" fill="#f6c877" />
<circle cx="306.20" cy="438.24" r="1.25" fill="#f6c877" />
<text x="297.60" y="478.20" font-size="6.1" text-anchor="middle" font-style="italic" fill="#1a1a1a" stroke="#1a1a1a" stroke-width="0.14" >TUBB3</text>
<rect x="315.50" y="415.10" width="5.40" height="54.30" fill="#2b2b2b" />
<line x1="318.20" y1="412.99" x2="318.20" y2="416.36" stroke="#111" stroke-width="0.55" />
<line x1="316.50" y1="412.99" x2="319.90" y2="412.99" stroke="#111" stroke-width="0.55" />
<circle cx="318.90" cy="409.84" r="1.25" fill="#111" />
<circle cx="317.60" cy="415.10" r="1.25" fill="#111" />
<circle cx="318.90" cy="418.25" r="1.25" fill="#111" />
<rect x="323.40" y="421.93" width="5.40" height="47.47" fill="#fca65c" />
<line x1="326.10" y1="418.78" x2="326.10" y2="423.83" stroke="#f28a1c" stroke-width="0.55" />
<line x1="324.40" y1="418.78" x2="327.80" y2="418.78" stroke="#f28a1c" stroke-width="0.55" />
<circle cx="326.80" cy="417.20" r="1.25" fill="#f28a1c" />
<circle cx="325.50" cy="420.88" r="1.25" fill="#f28a1c" />
<circle cx="326.80" cy="428.77" r="1.25" fill="#f28a1c" />
<rect x="331.30" y="430.35" width="5.40" height="39.05" fill="#fbd089" />
<line x1="334.00" y1="426.67" x2="334.00" y2="432.56" stroke="#f6c877" stroke-width="0.55" />
<line x1="332.30" y1="426.67" x2="335.70" y2="426.67" stroke="#f6c877" stroke-width="0.55" />
<circle cx="334.70" cy="425.09" r="1.25" fill="#f6c877" />
<circle cx="333.40" cy="428.77" r="1.25" fill="#f6c877" />
<circle cx="334.70" cy="437.19" r="1.25" fill="#f6c877" />
<text x="326.10" y="478.20" font-size="6.1" text-anchor="middle" font-style="italic" fill="#1a1a1a" stroke="#1a1a1a" stroke-width="0.14" >IRF6</text>
<rect x="344.00" y="405.63" width="5.40" height="63.77" fill="#2b2b2b" />
<line x1="346.70" y1="398.79" x2="346.70" y2="409.73" stroke="#111" stroke-width="0.55" />
<line x1="345.00" y1="398.79" x2="348.40" y2="398.79" stroke="#111" stroke-width="0.55" />
<circle cx="347.40" cy="385.11" r="1.25" fill="#111" />
<circle cx="346.10" cy="411.94" r="1.25" fill="#111" />
<circle cx="347.40" cy="417.20" r="1.25" fill="#111" />
<rect x="351.90" y="420.88" width="5.40" height="48.52" fill="#fca65c" />
<line x1="354.60" y1="419.30" x2="354.60" y2="421.83" stroke="#f28a1c" stroke-width="0.55" />
<line x1="352.90" y1="419.30" x2="356.30" y2="419.30" stroke="#f28a1c" stroke-width="0.55" />
<circle cx="355.30" cy="418.25" r="1.25" fill="#f28a1c" />
<circle cx="354.00" cy="420.88" r="1.25" fill="#f28a1c" />
<circle cx="355.30" cy="423.51" r="1.25" fill="#f28a1c" />
<rect x="359.80" y="450.34" width="5.40" height="19.06" fill="#fbd089" />
<line x1="362.50" y1="447.71" x2="362.50" y2="451.92" stroke="#f6c877" stroke-width="0.55" />
<line x1="360.80" y1="447.71" x2="364.20" y2="447.71" stroke="#f6c877" stroke-width="0.55" />
<circle cx="363.20" cy="447.18" r="1.25" fill="#f6c877" />
<circle cx="361.90" cy="449.81" r="1.25" fill="#f6c877" />
<circle cx="363.20" cy="455.07" r="1.25" fill="#f6c877" />
<text x="354.60" y="478.20" font-size="6.1" text-anchor="middle" font-style="italic" fill="#1a1a1a" stroke="#1a1a1a" stroke-width="0.14" >MSX2</text>
<rect x="372.50" y="417.20" width="5.40" height="52.20" fill="#2b2b2b" />
<line x1="375.20" y1="415.62" x2="375.20" y2="418.15" stroke="#111" stroke-width="0.55" />
<line x1="373.50" y1="415.62" x2="376.90" y2="415.62" stroke="#111" stroke-width="0.55" />
<circle cx="375.90" cy="413.52" r="1.25" fill="#111" />
<circle cx="374.60" cy="417.20" r="1.25" fill="#111" />
<circle cx="375.90" cy="419.83" r="1.25" fill="#111" />
<rect x="380.40" y="425.62" width="5.40" height="43.78" fill="#fca65c" />
<line x1="383.10" y1="422.46" x2="383.10" y2="427.51" stroke="#f28a1c" stroke-width="0.55" />
<line x1="381.40" y1="422.46" x2="384.80" y2="422.46" stroke="#f28a1c" stroke-width="0.55" />
<circle cx="383.80" cy="419.30" r="1.25" fill="#f28a1c" />
<circle cx="382.50" cy="426.67" r="1.25" fill="#f28a1c" />
<circle cx="383.80" cy="432.98" r="1.25" fill="#f28a1c" />
<rect x="388.30" y="430.88" width="5.40" height="38.52" fill="#fbd089" />
<line x1="391.00" y1="429.30" x2="391.00" y2="431.82" stroke="#f6c877" stroke-width="0.55" />
<line x1="389.30" y1="429.30" x2="392.70" y2="429.30" stroke="#f6c877" stroke-width="0.55" />
<circle cx="391.70" cy="428.77" r="1.25" fill="#f6c877" />
<circle cx="390.40" cy="430.35" r="1.25" fill="#f6c877" />
<circle cx="391.70" cy="432.98" r="1.25" fill="#f6c877" />
<text x="383.10" y="478.20" font-size="6.1" text-anchor="middle" font-style="italic" fill="#1a1a1a" stroke="#1a1a1a" stroke-width="0.14" >TP63</text>
<line x1="41.30" y1="481.30" x2="164.50" y2="481.30" stroke="#555" stroke-width="0.6" />
<text x="103.40" y="488.30" font-size="6.2" text-anchor="middle" fill="#1a1a1a" stroke="#1a1a1a" stroke-width="0.14" >Mesendoderm</text>
<line x1="231.80" y1="481.30" x2="306.30" y2="481.30" stroke="#555" stroke-width="0.6" />
<text x="266.00" y="488.30" font-size="6.2" text-anchor="middle" fill="#1a1a1a" stroke="#1a1a1a" stroke-width="0.14" >Neural Ectoderm</text>
<line x1="320.30" y1="481.30" x2="391.10" y2="481.30" stroke="#555" stroke-width="0.6" />
<text x="355.80" y="488.30" font-size="6.2" text-anchor="middle" fill="#1a1a1a" stroke="#1a1a1a" stroke-width="0.14" >Non-Neural Ectoderm</text>
<line x1="41.00" y1="402.20" x2="62.80" y2="402.20" stroke="#a8323a" stroke-width="1.15" />
<text x="51.90" y="401.50" font-size="8" text-anchor="middle" fill="#a8323a" stroke="#a8323a" stroke-width="0.15" >***</text>
<line x1="113.50" y1="402.20" x2="135.30" y2="402.20" stroke="#a8323a" stroke-width="1.15" />
<text x="124.40" y="401.50" font-size="8" text-anchor="middle" fill="#a8323a" stroke="#a8323a" stroke-width="0.15" >*</text>
<line x1="151.10" y1="402.20" x2="172.90" y2="402.20" stroke="#a8323a" stroke-width="1.15" />
<text x="162.00" y="401.50" font-size="8" text-anchor="middle" fill="#a8323a" stroke="#a8323a" stroke-width="0.15" >***</text>
<line x1="232.00" y1="402.20" x2="250.30" y2="402.20" stroke="#a8323a" stroke-width="1.15" />
<text x="241.15" y="401.50" font-size="8" text-anchor="middle" fill="#a8323a" stroke="#a8323a" stroke-width="0.15" >**</text>
<line x1="260.50" y1="402.20" x2="278.80" y2="402.20" stroke="#a8323a" stroke-width="1.15" />
<text x="269.65" y="401.50" font-size="8" text-anchor="middle" fill="#a8323a" stroke="#a8323a" stroke-width="0.15" >**</text>
<line x1="317.10" y1="402.20" x2="336.00" y2="402.20" stroke="#a8323a" stroke-width="1.15" />
<text x="326.55" y="401.50" font-size="8" text-anchor="middle" fill="#a8323a" stroke="#a8323a" stroke-width="0.15" >*</text>
<line x1="344.90" y1="379.90" x2="364.20" y2="379.90" stroke="#a8323a" stroke-width="1.15" />
<text x="354.55" y="379.20" font-size="8" text-anchor="middle" fill="#a8323a" stroke="#a8323a" stroke-width="0.15" >*</text>
<line x1="375.30" y1="402.20" x2="393.70" y2="402.20" stroke="#a8323a" stroke-width="1.15" />
<text x="384.50" y="401.50" font-size="8" text-anchor="middle" fill="#a8323a" stroke="#a8323a" stroke-width="0.15" >**</text>
<rect x="374.90" y="357.70" width="8.30" height="4.00" fill="#2b2b2b" />
<text x="386.50" y="361.90" font-size="6.1" fill="#1a1a1a" stroke="#1a1a1a" stroke-width="0.14" >WT derived EBs</text>
<rect x="374.90" y="366.65" width="8.30" height="4.00" fill="#fca65c" />
<text x="386.50" y="370.85" font-size="6.1" fill="#1a1a1a" stroke="#1a1a1a" stroke-width="0.14" >1-5 derived EBs</text>
<rect x="374.90" y="375.60" width="8.30" height="4.00" fill="#fbd089" />
<text x="386.50" y="379.80" font-size="6.1" fill="#1a1a1a" stroke="#1a1a1a" stroke-width="0.14" >1-10 derived EBs</text>
<text x="0.00" y="513.20" font-size="13.3" font-weight="bold" fill="#111" >g</text>
<text x="16.30" y="510.00" font-size="6.15" fill="#1a1a1a" stroke="#1a1a1a" stroke-width="0.14" >Endoderm differentiation</text>
<circle cx="44.20" cy="537.30" r="24.80" fill="#afc0ce" />
<circle cx="68.80" cy="537.30" r="6.30" fill="#ca99ab" opacity="0.49"/>
<text x="42.00" y="539.30" font-size="6.8" text-anchor="middle" font-weight="bold" fill="#111" stroke="#111" stroke-width="0.1" >4992</text>
<text x="73.00" y="548.60" font-size="6.8" text-anchor="middle" font-weight="bold" fill="#111" stroke="#111" stroke-width="0.1" >148</text>
<text x="66.20" y="559.60" font-size="6.8" text-anchor="middle" font-weight="bold" fill="#111" stroke="#111" stroke-width="0.1" >167</text>
<line x1="66.50" y1="537.30" x2="66.50" y2="554.40" stroke="#333" stroke-width="0.4" />
<line x1="72.30" y1="537.30" x2="72.30" y2="542.50" stroke="#333" stroke-width="0.4" />
<text x="86.70" y="548.60" font-size="6.15" fill="#1a1a1a" stroke="#1a1a1a" stroke-width="0.14" >Mesoderm differentiation</text>
<circle cx="108.60" cy="576.00" r="25.00" fill="#afc0ce" />
<circle cx="131.30" cy="576.00" r="17.70" fill="#ca99ab" opacity="0.49"/>
<text x="97.20" y="578.10" font-size="6.8" text-anchor="middle" font-weight="bold" fill="#111" stroke="#111" stroke-width="0.1" >4101</text>
<text x="123.00" y="578.10" font-size="6.8" text-anchor="middle" font-weight="bold" fill="#111" stroke="#111" stroke-width="0.1" >1405</text>
<text x="141.10" y="578.10" font-size="6.8" text-anchor="middle" font-weight="bold" fill="#111" stroke="#111" stroke-width="0.1" >1341</text>
<text x="10.00" y="584.00" font-size="6.15" fill="#1a1a1a" stroke="#1a1a1a" stroke-width="0.14" >Ectoderm differentiation</text>
<circle cx="38.60" cy="612.20" r="25.50" fill="#afc0ce" />
<circle cx="58.10" cy="611.60" r="11.80" fill="#ca99ab" opacity="0.49"/>
<text x="27.60" y="613.80" font-size="6.8" text-anchor="middle" font-weight="bold" fill="#111" stroke="#111" stroke-width="0.1" >5038</text>
<text x="53.90" y="613.80" font-size="6.8" text-anchor="middle" font-weight="bold" fill="#111" stroke="#111" stroke-width="0.1" >988</text>
<text x="69.40" y="613.80" font-size="6.8" text-anchor="middle" font-weight="bold" fill="#111" stroke="#111" stroke-width="0.1" >348</text>
<text x="162.60" y="513.60" font-size="13.3" font-weight="bold" fill="#111" >h</text>
<line x1="196.80" y1="517.60" x2="196.80" y2="636.30" stroke="#333" stroke-width="0.9" />
<line x1="196.35" y1="635.90" x2="332.00" y2="635.90" stroke="#333" stroke-width="0.9" />
<line x1="194.40" y1="521.70" x2="196.80" y2="521.70" stroke="#333" stroke-width="0.6" />
<text x="193.60" y="523.70" font-size="5.7" text-anchor="end" fill="#1a1a1a" stroke="#1a1a1a" stroke-width="0.14" >8000</text>
<line x1="195.40" y1="530.10" x2="196.80" y2="530.10" stroke="#333" stroke-width="0.5" />
<line x1="194.40" y1="538.50" x2="196.80" y2="538.50" stroke="#333" stroke-width="0.6" />
<text x="193.60" y="540.50" font-size="5.7" text-anchor="end" fill="#1a1a1a" stroke="#1a1a1a" stroke-width="0.14" >6000</text>
<line x1="195.40" y1="546.85" x2="196.80" y2="546.85" stroke="#333" stroke-width="0.5" />
<line x1="194.40" y1="555.20" x2="196.80" y2="555.20" stroke="#333" stroke-width="0.6" />
<text x="193.60" y="557.20" font-size="5.7" text-anchor="end" fill="#1a1a1a" stroke="#1a1a1a" stroke-width="0.14" >4000</text>
<line x1="195.40" y1="563.60" x2="196.80" y2="563.60" stroke="#333" stroke-width="0.5" />
<line x1="194.40" y1="572.00" x2="196.80" y2="572.00" stroke="#333" stroke-width="0.6" />
<text x="193.60" y="574.00" font-size="5.7" text-anchor="end" fill="#1a1a1a" stroke="#1a1a1a" stroke-width="0.14" >2000</text>
<line x1="195.40" y1="578.80" x2="196.80" y2="578.80" stroke="#333" stroke-width="0.5" />
<line x1="194.40" y1="585.60" x2="196.80" y2="585.60" stroke="#333" stroke-width="0.6" />
<text x="193.60" y="587.60" font-size="5.7" text-anchor="end" fill="#1a1a1a" stroke="#1a1a1a" stroke-width="0.14" >300</text>
<line x1="195.40" y1="594.00" x2="196.80" y2="594.00" stroke="#333" stroke-width="0.5" />
<line x1="194.40" y1="602.40" x2="196.80" y2="602.40" stroke="#333" stroke-width="0.6" />
<text x="193.60" y="604.40" font-size="5.7" text-anchor="end" fill="#1a1a1a" stroke="#1a1a1a" stroke-width="0.14" >200</text>
<line x1="195.40" y1="610.85" x2="196.80" y2="610.85" stroke="#333" stroke-width="0.5" />
<line x1="194.40" y1="619.30" x2="196.80" y2="619.30" stroke="#333" stroke-width="0.6" />
<text x="193.60" y="621.30" font-size="5.7" text-anchor="end" fill="#1a1a1a" stroke="#1a1a1a" stroke-width="0.14" >100</text>
<line x1="195.40" y1="627.60" x2="196.80" y2="627.60" stroke="#333" stroke-width="0.5" />
<line x1="194.40" y1="635.90" x2="196.80" y2="635.90" stroke="#333" stroke-width="0.6" />
<text x="193.60" y="637.90" font-size="5.7" text-anchor="end" fill="#1a1a1a" stroke="#1a1a1a" stroke-width="0.14" >0</text>
<text x="174.00" y="577.50" font-size="5.6" text-anchor="middle" transform="rotate(-90 174.00 577.50)" fill="#1a1a1a" stroke="#1a1a1a" stroke-width="0.14" >TPM</text>
<rect x="205.85" y="635.23" width="4.90" height="0.37" fill="#bdbdbd" />
<line x1="206.35" y1="635.03" x2="210.25" y2="635.03" stroke="#8c8c8c" stroke-width="0.5" />
<rect x="211.30" y="534.31" width="4.90" height="101.29" fill="#bfc5e4" />
<line x1="213.75" y1="529.41" x2="213.75" y2="534.91" stroke="#8b97cf" stroke-width="0.5" />
<line x1="212.35" y1="529.41" x2="215.15" y2="529.41" stroke="#8b97cf" stroke-width="0.55" />
<circle cx="212.05" cy="540.19" r="0.65" fill="#8b97cf" />
<circle cx="214.15" cy="532.84" r="0.65" fill="#8b97cf" />
<circle cx="215.65" cy="526.47" r="0.65" fill="#8b97cf" />
<rect x="216.75" y="635.23" width="4.90" height="0.37" fill="#7f7f7f" />
<line x1="217.25" y1="635.03" x2="221.15" y2="635.03" stroke="#555" stroke-width="0.5" />
<rect x="222.20" y="548.72" width="4.90" height="86.88" fill="#6c82ba" />
<line x1="224.65" y1="547.72" x2="224.65" y2="549.32" stroke="#3f5aa0" stroke-width="0.5" />
<line x1="223.25" y1="547.72" x2="226.05" y2="547.72" stroke="#3f5aa0" stroke-width="0.55" />
<circle cx="222.95" cy="549.92" r="0.65" fill="#3f5aa0" />
<circle cx="225.05" cy="548.42" r="0.65" fill="#3f5aa0" />
<circle cx="226.55" cy="547.12" r="0.65" fill="#3f5aa0" />
<rect x="237.75" y="633.89" width="4.90" height="1.71" fill="#bdbdbd" />
<line x1="238.25" y1="633.69" x2="242.15" y2="633.69" stroke="#8c8c8c" stroke-width="0.5" />
<rect x="243.20" y="633.39" width="4.90" height="2.21" fill="#bfc5e4" />
<line x1="243.70" y1="633.19" x2="247.60" y2="633.19" stroke="#8b97cf" stroke-width="0.5" />
<rect x="248.65" y="634.23" width="4.90" height="1.38" fill="#7f7f7f" />
<line x1="249.15" y1="634.02" x2="253.05" y2="634.02" stroke="#555" stroke-width="0.5" />
<rect x="254.10" y="633.89" width="4.90" height="1.71" fill="#6c82ba" />
<line x1="254.60" y1="633.69" x2="258.50" y2="633.69" stroke="#3f5aa0" stroke-width="0.5" />
<rect x="269.65" y="633.72" width="4.90" height="1.88" fill="#bdbdbd" />
<line x1="270.15" y1="633.52" x2="274.05" y2="633.52" stroke="#8c8c8c" stroke-width="0.5" />
<rect x="275.10" y="591.18" width="4.90" height="44.42" fill="#bfc5e4" />
<line x1="277.55" y1="590.06" x2="277.55" y2="591.78" stroke="#8b97cf" stroke-width="0.5" />
<line x1="276.15" y1="590.06" x2="278.95" y2="590.06" stroke="#8b97cf" stroke-width="0.55" />
<circle cx="275.85" cy="592.52" r="0.65" fill="#8b97cf" />
<circle cx="277.95" cy="590.84" r="0.65" fill="#8b97cf" />
<circle cx="279.45" cy="589.39" r="0.65" fill="#8b97cf" />
<rect x="280.55" y="635.23" width="4.90" height="0.37" fill="#7f7f7f" />
<line x1="281.05" y1="635.03" x2="284.95" y2="635.03" stroke="#555" stroke-width="0.5" />
<rect x="286.00" y="601.56" width="4.90" height="34.04" fill="#6c82ba" />
<line x1="288.45" y1="600.70" x2="288.45" y2="602.16" stroke="#3f5aa0" stroke-width="0.5" />
<line x1="287.05" y1="600.70" x2="289.85" y2="600.70" stroke="#3f5aa0" stroke-width="0.55" />
<circle cx="286.75" cy="602.59" r="0.65" fill="#3f5aa0" />
<circle cx="288.85" cy="601.30" r="0.65" fill="#3f5aa0" />
<circle cx="290.35" cy="600.19" r="0.65" fill="#3f5aa0" />
<rect x="301.55" y="635.40" width="4.90" height="0.20" fill="#bdbdbd" />
<line x1="302.05" y1="635.20" x2="305.95" y2="635.20" stroke="#8c8c8c" stroke-width="0.5" />
<rect x="307.00" y="607.42" width="4.90" height="28.18" fill="#bfc5e4" />
<line x1="309.45" y1="606.71" x2="309.45" y2="608.02" stroke="#8b97cf" stroke-width="0.5" />
<line x1="308.05" y1="606.71" x2="310.85" y2="606.71" stroke="#8b97cf" stroke-width="0.55" />
<circle cx="307.75" cy="608.28" r="0.65" fill="#8b97cf" />
<circle cx="309.85" cy="607.21" r="0.65" fill="#8b97cf" />
<circle cx="311.35" cy="606.29" r="0.65" fill="#8b97cf" />
<rect x="312.45" y="635.40" width="4.90" height="0.20" fill="#7f7f7f" />
<line x1="312.95" y1="635.20" x2="316.85" y2="635.20" stroke="#555" stroke-width="0.5" />
<rect x="317.90" y="619.15" width="4.90" height="16.45" fill="#6c82ba" />
<line x1="320.35" y1="618.73" x2="320.35" y2="619.75" stroke="#3f5aa0" stroke-width="0.5" />
<line x1="318.95" y1="618.73" x2="321.75" y2="618.73" stroke="#3f5aa0" stroke-width="0.55" />
<circle cx="318.65" cy="619.65" r="0.65" fill="#3f5aa0" />
<circle cx="320.75" cy="619.02" r="0.65" fill="#3f5aa0" />
<circle cx="322.25" cy="618.48" r="0.65" fill="#3f5aa0" />
<line x1="196.80" y1="576.80" x2="332.00" y2="576.80" stroke="#fff" stroke-width="0.9" opacity="0.75"/>
<rect x="248.90" y="506.60" width="7.60" height="8.45" fill="#bdbdbd" />
<text x="259.40" y="512.50" font-size="5.9" fill="#1a1a1a" stroke="#1a1a1a" stroke-width="0.14" >WT H1 hESCs</text>
<rect x="248.90" y="515.00" width="7.60" height="8.45" fill="#bfc5e4" />
<text x="259.40" y="520.90" font-size="5.9" fill="#1a1a1a" stroke="#1a1a1a" stroke-width="0.14" >WT derived endoderm</text>
<rect x="248.90" y="523.40" width="7.60" height="8.45" fill="#7f7f7f" />
<text x="259.40" y="529.30" font-size="5.9" fill="#1a1a1a" stroke="#1a1a1a" stroke-width="0.14" >1-10 H1 hESCs</text>
<rect x="248.90" y="531.80" width="7.60" height="8.45" fill="#6c82ba" />
<text x="259.40" y="537.70" font-size="5.9" fill="#1a1a1a" stroke="#1a1a1a" stroke-width="0.14" >1-10 derived endoderm</text>
<text x="219.80" y="512.80" font-size="5.2" text-anchor="middle">Log<tspan font-size="3.2" dy="1.1">2</tspan><tspan dy="-1.1">FC = −0.47</tspan></text>
<text x="219.80" y="519.40" font-size="5.2" text-anchor="middle"><tspan font-style="italic">P</tspan> = 9E-6</text>
<line x1="212.90" y1="522.20" x2="224.40" y2="522.20" stroke="#c4333b" stroke-width="1.2" />
<text x="249.70" y="617.80" font-size="5.2" text-anchor="middle">Log<tspan font-size="3.2" dy="1.1">2</tspan><tspan dy="-1.1">FC = −0.63</tspan></text>
<text x="249.70" y="624.70" font-size="5.2" text-anchor="middle"><tspan font-style="italic">P</tspan> = 5E-7</text>
<line x1="244.90" y1="628.20" x2="256.90" y2="628.20" stroke="#c4333b" stroke-width="1.2" />
<text x="285.00" y="577.90" font-size="5.2" text-anchor="middle">Log<tspan font-size="3.2" dy="1.1">2</tspan><tspan dy="-1.1">FC = −0.37</tspan></text>
<text x="285.00" y="584.80" font-size="5.2" text-anchor="middle"><tspan font-style="italic">P</tspan> = 5E-4</text>
<line x1="278.10" y1="587.30" x2="289.60" y2="587.30" stroke="#c4333b" stroke-width="1.2" />
<text x="317.70" y="592.00" font-size="5.2" text-anchor="middle">Log<tspan font-size="3.2" dy="1.1">2</tspan><tspan dy="-1.1">FC = −0.73</tspan></text>
<text x="317.70" y="599.10" font-size="5.2" text-anchor="middle"><tspan font-style="italic">P</tspan> = 1E-9</text>
<line x1="310.00" y1="601.90" x2="321.50" y2="601.90" stroke="#c4333b" stroke-width="1.2" />
<text x="216.50" y="642.30" font-size="5.9" text-anchor="middle" font-style="italic" fill="#1a1a1a" stroke="#1a1a1a" stroke-width="0.14" >CER1</text>
<text x="249.70" y="642.30" font-size="5.9" text-anchor="middle" font-style="italic" fill="#1a1a1a" stroke="#1a1a1a" stroke-width="0.14" >SMAD3</text>
<text x="282.40" y="642.30" font-size="5.9" text-anchor="middle" font-style="italic" fill="#1a1a1a" stroke="#1a1a1a" stroke-width="0.14" >NODAL</text>
<text x="313.00" y="642.30" font-size="5.9" text-anchor="middle" font-style="italic" fill="#1a1a1a" stroke="#1a1a1a" stroke-width="0.14" >MIXL1</text>
<text x="347.40" y="513.60" font-size="13.3" font-weight="bold" fill="#111" >i</text>
<line x1="374.20" y1="517.60" x2="374.20" y2="636.30" stroke="#333" stroke-width="0.9" />
<line x1="373.75" y1="635.90" x2="508.00" y2="635.90" stroke="#333" stroke-width="0.9" />
<line x1="371.80" y1="524.00" x2="374.20" y2="524.00" stroke="#333" stroke-width="0.6" />
<text x="371.00" y="526.00" font-size="5.7" text-anchor="end" fill="#1a1a1a" stroke="#1a1a1a" stroke-width="0.14" >600</text>
<line x1="372.80" y1="533.30" x2="374.20" y2="533.30" stroke="#333" stroke-width="0.5" />
<line x1="371.80" y1="542.60" x2="374.20" y2="542.60" stroke="#333" stroke-width="0.6" />
<text x="371.00" y="544.60" font-size="5.7" text-anchor="end" fill="#1a1a1a" stroke="#1a1a1a" stroke-width="0.14" >500</text>
<line x1="372.80" y1="551.95" x2="374.20" y2="551.95" stroke="#333" stroke-width="0.5" />
<line x1="371.80" y1="561.30" x2="374.20" y2="561.30" stroke="#333" stroke-width="0.6" />
<text x="371.00" y="563.30" font-size="5.7" text-anchor="end" fill="#1a1a1a" stroke="#1a1a1a" stroke-width="0.14" >400</text>
<line x1="372.80" y1="570.60" x2="374.20" y2="570.60" stroke="#333" stroke-width="0.5" />
<line x1="371.80" y1="579.90" x2="374.20" y2="579.90" stroke="#333" stroke-width="0.6" />
<text x="371.00" y="581.90" font-size="5.7" text-anchor="end" fill="#1a1a1a" stroke="#1a1a1a" stroke-width="0.14" >300</text>
<line x1="372.80" y1="589.25" x2="374.20" y2="589.25" stroke="#333" stroke-width="0.5" />
<line x1="371.80" y1="598.60" x2="374.20" y2="598.60" stroke="#333" stroke-width="0.6" />
<text x="371.00" y="600.60" font-size="5.7" text-anchor="end" fill="#1a1a1a" stroke="#1a1a1a" stroke-width="0.14" >200</text>
<line x1="372.80" y1="607.90" x2="374.20" y2="607.90" stroke="#333" stroke-width="0.5" />
<line x1="371.80" y1="617.20" x2="374.20" y2="617.20" stroke="#333" stroke-width="0.6" />
<text x="371.00" y="619.20" font-size="5.7" text-anchor="end" fill="#1a1a1a" stroke="#1a1a1a" stroke-width="0.14" >100</text>
<line x1="372.80" y1="626.55" x2="374.20" y2="626.55" stroke="#333" stroke-width="0.5" />
<line x1="371.80" y1="635.90" x2="374.20" y2="635.90" stroke="#333" stroke-width="0.6" />
<text x="371.00" y="637.90" font-size="5.7" text-anchor="end" fill="#1a1a1a" stroke="#1a1a1a" stroke-width="0.14" >0</text>
<text x="356.20" y="577.50" font-size="5.6" text-anchor="middle" transform="rotate(-90 356.20 577.50)" fill="#1a1a1a" stroke="#1a1a1a" stroke-width="0.14" >TPM</text>
<rect x="383.00" y="635.53" width="5.20" height="0.07" fill="#bdbdbd" />
<line x1="383.50" y1="635.33" x2="387.70" y2="635.33" stroke="#8c8c8c" stroke-width="0.5" />
<rect x="388.70" y="574.36" width="5.20" height="61.25" fill="#a9dd9a" />
<line x1="391.30" y1="572.82" x2="391.30" y2="574.96" stroke="#6cc56a" stroke-width="0.5" />
<line x1="389.90" y1="572.82" x2="392.70" y2="572.82" stroke="#6cc56a" stroke-width="0.55" />
<circle cx="389.60" cy="576.20" r="0.65" fill="#6cc56a" />
<circle cx="391.70" cy="573.89" r="0.65" fill="#6cc56a" />
<circle cx="393.20" cy="571.89" r="0.65" fill="#6cc56a" />
<rect x="394.40" y="635.53" width="5.20" height="0.07" fill="#7f7f7f" />
<line x1="394.90" y1="635.33" x2="399.10" y2="635.33" stroke="#555" stroke-width="0.5" />
<rect x="400.20" y="592.63" width="5.20" height="42.97" fill="#2f9e50" />
<line x1="402.80" y1="591.55" x2="402.80" y2="593.23" stroke="#1b7a38" stroke-width="0.5" />
<line x1="401.40" y1="591.55" x2="404.20" y2="591.55" stroke="#1b7a38" stroke-width="0.55" />
<circle cx="401.10" cy="593.93" r="0.65" fill="#1b7a38" />
<circle cx="403.20" cy="592.31" r="0.65" fill="#1b7a38" />
<circle cx="404.70" cy="590.90" r="0.65" fill="#1b7a38" />
<rect x="414.50" y="635.71" width="5.20" height="-0.11" fill="#bdbdbd" />
<line x1="415.00" y1="635.51" x2="419.20" y2="635.51" stroke="#8c8c8c" stroke-width="0.5" />
<rect x="420.20" y="619.86" width="5.20" height="15.74" fill="#a9dd9a" />
<line x1="422.80" y1="619.46" x2="422.80" y2="620.46" stroke="#6cc56a" stroke-width="0.5" />
<line x1="421.40" y1="619.46" x2="424.20" y2="619.46" stroke="#6cc56a" stroke-width="0.55" />
<circle cx="421.10" cy="620.34" r="0.65" fill="#6cc56a" />
<circle cx="423.20" cy="619.74" r="0.65" fill="#6cc56a" />
<circle cx="424.70" cy="619.22" r="0.65" fill="#6cc56a" />
<rect x="425.90" y="635.71" width="5.20" height="-0.11" fill="#7f7f7f" />
<line x1="426.40" y1="635.51" x2="430.60" y2="635.51" stroke="#555" stroke-width="0.5" />
<rect x="431.70" y="624.71" width="5.20" height="10.89" fill="#2f9e50" />
<line x1="434.30" y1="624.43" x2="434.30" y2="625.31" stroke="#1b7a38" stroke-width="0.5" />
<line x1="432.90" y1="624.43" x2="435.70" y2="624.43" stroke="#1b7a38" stroke-width="0.55" />
<circle cx="432.60" cy="625.05" r="0.65" fill="#1b7a38" />
<circle cx="434.70" cy="624.63" r="0.65" fill="#1b7a38" />
<circle cx="436.20" cy="624.26" r="0.65" fill="#1b7a38" />
<rect x="446.00" y="635.34" width="5.20" height="0.26" fill="#bdbdbd" />
<line x1="446.50" y1="635.14" x2="450.70" y2="635.14" stroke="#8c8c8c" stroke-width="0.5" />
<rect x="451.70" y="625.46" width="5.20" height="10.14" fill="#a9dd9a" />
<line x1="454.30" y1="625.19" x2="454.30" y2="626.06" stroke="#6cc56a" stroke-width="0.5" />
<line x1="452.90" y1="625.19" x2="455.70" y2="625.19" stroke="#6cc56a" stroke-width="0.55" />
<circle cx="452.60" cy="625.77" r="0.65" fill="#6cc56a" />
<circle cx="454.70" cy="625.38" r="0.65" fill="#6cc56a" />
<circle cx="456.20" cy="625.04" r="0.65" fill="#6cc56a" />
<rect x="457.40" y="635.15" width="5.20" height="0.45" fill="#7f7f7f" />
<line x1="457.90" y1="634.95" x2="462.10" y2="634.95" stroke="#555" stroke-width="0.5" />
<rect x="463.20" y="628.81" width="5.20" height="6.79" fill="#2f9e50" />
<line x1="465.80" y1="628.64" x2="465.80" y2="629.41" stroke="#1b7a38" stroke-width="0.5" />
<line x1="464.40" y1="628.64" x2="467.20" y2="628.64" stroke="#1b7a38" stroke-width="0.55" />
<circle cx="464.10" cy="629.03" r="0.65" fill="#1b7a38" />
<circle cx="466.20" cy="628.76" r="0.65" fill="#1b7a38" />
<circle cx="467.70" cy="628.53" r="0.65" fill="#1b7a38" />
<rect x="477.50" y="635.53" width="5.20" height="0.07" fill="#bdbdbd" />
<line x1="478.00" y1="635.33" x2="482.20" y2="635.33" stroke="#8c8c8c" stroke-width="0.5" />
<rect x="483.20" y="582.56" width="5.20" height="53.04" fill="#a9dd9a" />
<line x1="485.80" y1="581.23" x2="485.80" y2="583.16" stroke="#6cc56a" stroke-width="0.5" />
<line x1="484.40" y1="581.23" x2="487.20" y2="581.23" stroke="#6cc56a" stroke-width="0.55" />
<circle cx="484.10" cy="584.16" r="0.65" fill="#6cc56a" />
<circle cx="486.20" cy="582.16" r="0.65" fill="#6cc56a" />
<circle cx="487.70" cy="580.43" r="0.65" fill="#6cc56a" />
<rect x="488.90" y="635.53" width="5.20" height="0.07" fill="#7f7f7f" />
<line x1="489.40" y1="635.33" x2="493.60" y2="635.33" stroke="#555" stroke-width="0.5" />
<rect x="494.70" y="598.04" width="5.20" height="37.56" fill="#2f9e50" />
<line x1="497.30" y1="597.09" x2="497.30" y2="598.64" stroke="#1b7a38" stroke-width="0.5" />
<line x1="495.90" y1="597.09" x2="498.70" y2="597.09" stroke="#1b7a38" stroke-width="0.55" />
<circle cx="495.60" cy="599.18" r="0.65" fill="#1b7a38" />
<circle cx="497.70" cy="597.76" r="0.65" fill="#1b7a38" />
<circle cx="499.20" cy="596.53" r="0.65" fill="#1b7a38" />
<rect x="401.90" y="506.60" width="7.60" height="8.45" fill="#bdbdbd" />
<text x="412.40" y="512.50" font-size="5.9" fill="#1a1a1a" stroke="#1a1a1a" stroke-width="0.14" >WT H1 hESCs</text>
<rect x="401.90" y="515.00" width="7.60" height="8.45" fill="#a9dd9a" />
<text x="412.40" y="520.90" font-size="5.9" fill="#1a1a1a" stroke="#1a1a1a" stroke-width="0.14" >WT derived mesoderm</text>
<rect x="401.90" y="523.40" width="7.60" height="8.45" fill="#7f7f7f" />
<text x="412.40" y="529.30" font-size="5.9" fill="#1a1a1a" stroke="#1a1a1a" stroke-width="0.14" >1-10 H1 hESCs</text>
<rect x="401.90" y="531.80" width="7.60" height="8.45" fill="#2f9e50" />
<text x="412.40" y="537.70" font-size="5.9" fill="#1a1a1a" stroke="#1a1a1a" stroke-width="0.14" >1-10 derived mesoderm</text>
<text x="397.10" y="560.00" font-size="5.2" text-anchor="middle">Log<tspan font-size="3.2" dy="1.1">2</tspan><tspan dy="-1.1">FC = −0.45</tspan></text>
<text x="397.10" y="567.40" font-size="5.2" text-anchor="middle"><tspan font-style="italic">P</tspan> = 9E-8</text>
<line x1="389.90" y1="569.20" x2="401.90" y2="569.20" stroke="#c4333b" stroke-width="1.2" />
<text x="431.30" y="604.00" font-size="5.2" text-anchor="middle">Log<tspan font-size="3.2" dy="1.1">2</tspan><tspan dy="-1.1">FC = −0.48</tspan></text>
<text x="431.30" y="611.40" font-size="5.2" text-anchor="middle"><tspan font-style="italic">P</tspan> = 8E-8</text>
<line x1="421.90" y1="613.90" x2="434.10" y2="613.90" stroke="#c4333b" stroke-width="1.2" />
<text x="462.70" y="610.10" font-size="5.2" text-anchor="middle">Log<tspan font-size="3.2" dy="1.1">2</tspan><tspan dy="-1.1">FC = −0.60</tspan></text>
<text x="462.70" y="617.50" font-size="5.2" text-anchor="middle"><tspan font-style="italic">P</tspan> = 6E−19</text>
<line x1="453.80" y1="620.60" x2="465.80" y2="620.60" stroke="#c4333b" stroke-width="1.2" />
<text x="491.60" y="567.90" font-size="5.2" text-anchor="middle">Log<tspan font-size="3.2" dy="1.1">2</tspan><tspan dy="-1.1">FC = −0.44</tspan></text>
<text x="491.60" y="575.30" font-size="5.2" text-anchor="middle"><tspan font-style="italic">P</tspan> = 2E−12</text>
<line x1="485.20" y1="577.60" x2="497.20" y2="577.60" stroke="#c4333b" stroke-width="1.2" />
<text x="393.80" y="642.30" font-size="5.9" text-anchor="middle" font-style="italic" fill="#1a1a1a" stroke="#1a1a1a" stroke-width="0.14" >T</text>
<text x="427.00" y="642.30" font-size="5.9" text-anchor="middle" font-style="italic" fill="#1a1a1a" stroke="#1a1a1a" stroke-width="0.14" >EVX1</text>
<text x="458.40" y="642.30" font-size="5.9" text-anchor="middle" font-style="italic" fill="#1a1a1a" stroke="#1a1a1a" stroke-width="0.14" >NCAM1</text>
<text x="489.60" y="642.30" font-size="5.9" text-anchor="middle" font-style="italic" fill="#1a1a1a" stroke="#1a1a1a" stroke-width="0.14" >APLNR</text>
<text x="519.80" y="513.60" font-size="13.3" font-weight="bold" fill="#111" >j</text>
<line x1="542.40" y1="516.80" x2="542.40" y2="636.30" stroke="#333" stroke-width="0.9" />
<line x1="541.95" y1="635.90" x2="681.50" y2="635.90" stroke="#333" stroke-width="0.9" />
<line x1="540.00" y1="528.60" x2="542.40" y2="528.60" stroke="#333" stroke-width="0.6" />
<text x="539.20" y="530.60" font-size="5.7" text-anchor="end" fill="#1a1a1a" stroke="#1a1a1a" stroke-width="0.14" >500</text>
<line x1="541.00" y1="539.45" x2="542.40" y2="539.45" stroke="#333" stroke-width="0.5" />
<line x1="540.00" y1="550.30" x2="542.40" y2="550.30" stroke="#333" stroke-width="0.6" />
<text x="539.20" y="552.30" font-size="5.7" text-anchor="end" fill="#1a1a1a" stroke="#1a1a1a" stroke-width="0.14" >400</text>
<line x1="541.00" y1="560.90" x2="542.40" y2="560.90" stroke="#333" stroke-width="0.5" />
<line x1="540.00" y1="571.50" x2="542.40" y2="571.50" stroke="#333" stroke-width="0.6" />
<text x="539.20" y="573.50" font-size="5.7" text-anchor="end" fill="#1a1a1a" stroke="#1a1a1a" stroke-width="0.14" >300</text>
<line x1="541.00" y1="582.25" x2="542.40" y2="582.25" stroke="#333" stroke-width="0.5" />
<line x1="540.00" y1="593.00" x2="542.40" y2="593.00" stroke="#333" stroke-width="0.6" />
<text x="539.20" y="595.00" font-size="5.7" text-anchor="end" fill="#1a1a1a" stroke="#1a1a1a" stroke-width="0.14" >200</text>
<line x1="541.00" y1="603.70" x2="542.40" y2="603.70" stroke="#333" stroke-width="0.5" />
<line x1="540.00" y1="614.40" x2="542.40" y2="614.40" stroke="#333" stroke-width="0.6" />
<text x="539.20" y="616.40" font-size="5.7" text-anchor="end" fill="#1a1a1a" stroke="#1a1a1a" stroke-width="0.14" >100</text>
<line x1="541.00" y1="625.15" x2="542.40" y2="625.15" stroke="#333" stroke-width="0.5" />
<line x1="540.00" y1="635.90" x2="542.40" y2="635.90" stroke="#333" stroke-width="0.6" />
<text x="539.20" y="637.90" font-size="5.7" text-anchor="end" fill="#1a1a1a" stroke="#1a1a1a" stroke-width="0.14" >0</text>
<text x="527.80" y="577.50" font-size="5.6" text-anchor="middle" transform="rotate(-90 527.80 577.50)" fill="#1a1a1a" stroke="#1a1a1a" stroke-width="0.14" >TPM</text>
<rect x="550.60" y="635.47" width="5.20" height="0.13" fill="#bdbdbd" />
<line x1="551.10" y1="635.27" x2="555.30" y2="635.27" stroke="#8c8c8c" stroke-width="0.5" />
<rect x="556.40" y="625.39" width="5.20" height="10.21" fill="#c2c3e6" />
<line x1="559.00" y1="625.13" x2="559.00" y2="625.99" stroke="#9797d6" stroke-width="0.5" />
<line x1="557.60" y1="625.13" x2="560.40" y2="625.13" stroke="#9797d6" stroke-width="0.55" />
<circle cx="557.30" cy="625.70" r="0.65" fill="#9797d6" />
<circle cx="559.40" cy="625.31" r="0.65" fill="#9797d6" />
<circle cx="560.90" cy="624.97" r="0.65" fill="#9797d6" />
<rect x="562.30" y="635.47" width="5.20" height="0.13" fill="#7f7f7f" />
<line x1="562.80" y1="635.27" x2="567.00" y2="635.27" stroke="#555" stroke-width="0.5" />
<rect x="568.20" y="632.68" width="5.20" height="2.92" fill="#7065b6" />
<line x1="568.70" y1="632.48" x2="572.90" y2="632.48" stroke="#4a3d9a" stroke-width="0.5" />
<rect x="583.90" y="615.09" width="5.20" height="20.51" fill="#bdbdbd" />
<line x1="586.50" y1="614.57" x2="586.50" y2="615.69" stroke="#8c8c8c" stroke-width="0.5" />
<line x1="585.10" y1="614.57" x2="587.90" y2="614.57" stroke="#8c8c8c" stroke-width="0.55" />
<circle cx="584.80" cy="615.72" r="0.65" fill="#8c8c8c" />
<circle cx="586.90" cy="614.94" r="0.65" fill="#8c8c8c" />
<circle cx="588.40" cy="614.26" r="0.65" fill="#8c8c8c" />
<rect x="589.70" y="566.19" width="5.20" height="69.41" fill="#c2c3e6" />
<line x1="592.30" y1="564.44" x2="592.30" y2="566.79" stroke="#9797d6" stroke-width="0.5" />
<line x1="590.90" y1="564.44" x2="593.70" y2="564.44" stroke="#9797d6" stroke-width="0.55" />
<circle cx="590.60" cy="568.28" r="0.65" fill="#9797d6" />
<circle cx="592.70" cy="565.66" r="0.65" fill="#9797d6" />
<circle cx="594.20" cy="563.40" r="0.65" fill="#9797d6" />
<rect x="595.60" y="596.86" width="5.20" height="38.74" fill="#7f7f7f" />
<line x1="598.20" y1="595.89" x2="598.20" y2="597.46" stroke="#555" stroke-width="0.5" />
<line x1="596.80" y1="595.89" x2="599.60" y2="595.89" stroke="#555" stroke-width="0.55" />
<circle cx="596.50" cy="598.03" r="0.65" fill="#555" />
<circle cx="598.60" cy="596.57" r="0.65" fill="#555" />
<circle cx="600.10" cy="595.30" r="0.65" fill="#555" />
<rect x="601.50" y="593.43" width="5.20" height="42.17" fill="#7065b6" />
<line x1="604.10" y1="592.37" x2="604.10" y2="594.03" stroke="#4a3d9a" stroke-width="0.5" />
<line x1="602.70" y1="592.37" x2="605.50" y2="592.37" stroke="#4a3d9a" stroke-width="0.55" />
<circle cx="602.40" cy="594.70" r="0.65" fill="#4a3d9a" />
<circle cx="604.50" cy="593.11" r="0.65" fill="#4a3d9a" />
<circle cx="606.00" cy="591.73" r="0.65" fill="#4a3d9a" />
<rect x="617.20" y="632.04" width="5.20" height="3.56" fill="#bdbdbd" />
<line x1="617.70" y1="631.84" x2="621.90" y2="631.84" stroke="#8c8c8c" stroke-width="0.5" />
<rect x="623.00" y="605.44" width="5.20" height="30.16" fill="#c2c3e6" />
<line x1="625.60" y1="604.68" x2="625.60" y2="606.04" stroke="#9797d6" stroke-width="0.5" />
<line x1="624.20" y1="604.68" x2="627.00" y2="604.68" stroke="#9797d6" stroke-width="0.55" />
<circle cx="623.90" cy="606.35" r="0.65" fill="#9797d6" />
<circle cx="626.00" cy="605.21" r="0.65" fill="#9797d6" />
<circle cx="627.50" cy="604.22" r="0.65" fill="#9797d6" />
<rect x="628.90" y="632.04" width="5.20" height="3.56" fill="#7f7f7f" />
<line x1="629.40" y1="631.84" x2="633.60" y2="631.84" stroke="#555" stroke-width="0.5" />
<rect x="634.80" y="611.02" width="5.20" height="24.58" fill="#7065b6" />
<line x1="637.40" y1="610.40" x2="637.40" y2="611.62" stroke="#4a3d9a" stroke-width="0.5" />
<line x1="636.00" y1="610.40" x2="638.80" y2="610.40" stroke="#4a3d9a" stroke-width="0.55" />
<circle cx="635.70" cy="611.76" r="0.65" fill="#4a3d9a" />
<circle cx="637.80" cy="610.83" r="0.65" fill="#4a3d9a" />
<circle cx="639.30" cy="610.02" r="0.65" fill="#4a3d9a" />
<rect x="650.50" y="602.01" width="5.20" height="33.59" fill="#bdbdbd" />
<line x1="653.10" y1="601.16" x2="653.10" y2="602.61" stroke="#8c8c8c" stroke-width="0.5" />
<line x1="651.70" y1="601.16" x2="654.50" y2="601.16" stroke="#8c8c8c" stroke-width="0.55" />
<circle cx="651.40" cy="603.03" r="0.65" fill="#8c8c8c" />
<circle cx="653.50" cy="601.75" r="0.65" fill="#8c8c8c" />
<circle cx="655.00" cy="600.65" r="0.65" fill="#8c8c8c" />
<rect x="656.30" y="541.09" width="5.20" height="94.51" fill="#c2c3e6" />
<line x1="658.90" y1="538.72" x2="658.90" y2="541.69" stroke="#9797d6" stroke-width="0.5" />
<line x1="657.50" y1="538.72" x2="660.30" y2="538.72" stroke="#9797d6" stroke-width="0.55" />
<circle cx="657.20" cy="543.94" r="0.65" fill="#9797d6" />
<circle cx="659.30" cy="540.38" r="0.65" fill="#9797d6" />
<circle cx="660.80" cy="537.30" r="0.65" fill="#9797d6" />
<rect x="662.20" y="604.15" width="5.20" height="31.45" fill="#7f7f7f" />
<line x1="664.80" y1="603.36" x2="664.80" y2="604.75" stroke="#555" stroke-width="0.5" />
<line x1="663.40" y1="603.36" x2="666.20" y2="603.36" stroke="#555" stroke-width="0.55" />
<circle cx="663.10" cy="605.11" r="0.65" fill="#555" />
<circle cx="665.20" cy="603.92" r="0.65" fill="#555" />
<circle cx="666.70" cy="602.88" r="0.65" fill="#555" />
<rect x="668.10" y="559.75" width="5.20" height="75.85" fill="#7065b6" />
<line x1="670.70" y1="557.85" x2="670.70" y2="560.35" stroke="#4a3d9a" stroke-width="0.5" />
<line x1="669.30" y1="557.85" x2="672.10" y2="557.85" stroke="#4a3d9a" stroke-width="0.55" />
<circle cx="669.00" cy="562.04" r="0.65" fill="#4a3d9a" />
<circle cx="671.10" cy="559.18" r="0.65" fill="#4a3d9a" />
<circle cx="672.60" cy="556.71" r="0.65" fill="#4a3d9a" />
<rect x="560.00" y="506.60" width="7.60" height="8.45" fill="#bdbdbd" />
<text x="570.50" y="512.50" font-size="5.9" fill="#1a1a1a" stroke="#1a1a1a" stroke-width="0.14" >WT H1 hESCs</text>
<rect x="560.00" y="515.00" width="7.60" height="8.45" fill="#c2c3e6" />
<text x="570.50" y="520.90" font-size="5.9" fill="#1a1a1a" stroke="#1a1a1a" stroke-width="0.14" >WT derived ectoderm</text>
<rect x="560.00" y="523.40" width="7.60" height="8.45" fill="#7f7f7f" />
<text x="570.50" y="529.30" font-size="5.9" fill="#1a1a1a" stroke="#1a1a1a" stroke-width="0.14" >1-10 H1 hESCs</text>
<rect x="560.00" y="531.80" width="7.60" height="8.45" fill="#7065b6" />
<text x="570.50" y="537.70" font-size="5.9" fill="#1a1a1a" stroke="#1a1a1a" stroke-width="0.14" >1-10 derived ectoderm</text>
<text x="565.70" y="611.10" font-size="5.2" text-anchor="middle">Log<tspan font-size="3.2" dy="1.1">2</tspan><tspan dy="-1.1">FC = −1.6</tspan></text>
<text x="565.70" y="618.50" font-size="5.2" text-anchor="middle"><tspan font-style="italic">P</tspan> = 9E−201</text>
<line x1="559.30" y1="621.30" x2="571.30" y2="621.30" stroke="#c4333b" stroke-width="1.2" />
<text x="598.90" y="551.30" font-size="5.2" text-anchor="middle">Log<tspan font-size="3.2" dy="1.1">2</tspan><tspan dy="-1.1">FC = −0.67</tspan></text>
<text x="598.90" y="559.00" font-size="5.2" text-anchor="middle"><tspan font-style="italic">P</tspan> = 3E−66</text>
<line x1="592.30" y1="561.30" x2="604.00" y2="561.30" stroke="#c4333b" stroke-width="1.2" />
<text x="631.40" y="593.00" font-size="5.2" text-anchor="middle">Log<tspan font-size="3.2" dy="1.1">2</tspan><tspan dy="-1.1">FC = −0.28</tspan></text>
<text x="631.40" y="600.60" font-size="5.2" text-anchor="middle"><tspan font-style="italic">P</tspan> = 8E−16</text>
<line x1="625.70" y1="602.40" x2="637.20" y2="602.40" stroke="#c4333b" stroke-width="1.2" />
<text x="666.60" y="525.00" font-size="5.2" text-anchor="middle">Log<tspan font-size="3.2" dy="1.1">2</tspan><tspan dy="-1.1">FC = −0.26</tspan></text>
<text x="666.60" y="532.70" font-size="5.2" text-anchor="middle"><tspan font-style="italic">P</tspan> = 6E−13</text>
<line x1="659.00" y1="535.20" x2="671.00" y2="535.20" stroke="#c4333b" stroke-width="1.2" />
<text x="559.00" y="642.30" font-size="5.9" text-anchor="middle" font-style="italic" fill="#1a1a1a" stroke="#1a1a1a" stroke-width="0.14" >PAX6</text>
<text x="594.80" y="642.30" font-size="5.9" text-anchor="middle" font-style="italic" fill="#1a1a1a" stroke="#1a1a1a" stroke-width="0.14" >OTX2</text>
<text x="628.30" y="642.30" font-size="5.9" text-anchor="middle" font-style="italic" fill="#1a1a1a" stroke="#1a1a1a" stroke-width="0.14" >ZNF521</text>
<text x="660.70" y="642.30" font-size="5.9" text-anchor="middle" font-style="italic" fill="#1a1a1a" stroke="#1a1a1a" stroke-width="0.14" >NES</text>
</svg>
</body></html>
